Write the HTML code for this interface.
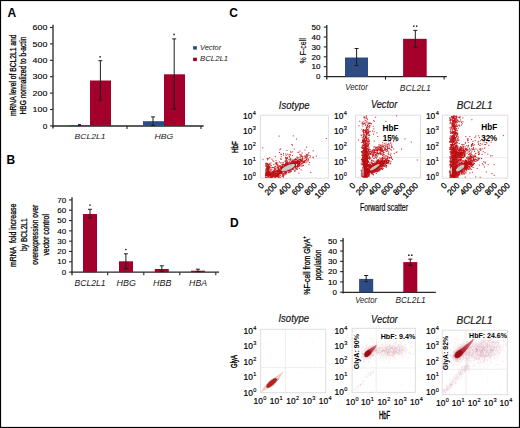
<!DOCTYPE html><html><head><meta charset="utf-8"><style>html,body{margin:0;padding:0;background:#fff}svg{display:block;font-family:"Liberation Sans",sans-serif}</style></head><body>
<svg width="520" height="428" viewBox="0 0 520 428" font-family="Liberation Sans, sans-serif" fill="#000">
<rect x="0" y="0" width="520" height="428" fill="#fff"/>
<text x="7.5" y="17.0" font-size="12" font-weight="bold">A</text>
<text x="6.6" y="163.9" font-size="12" font-weight="bold">B</text>
<text x="229.2" y="17.4" font-size="12" font-weight="bold">C</text>
<text x="230.0" y="226.6" font-size="12" font-weight="bold">D</text>
<line x1="53" y1="24.7" x2="53" y2="128.6" stroke="#262626" stroke-width="1.3"/>
<line x1="52.4" y1="126" x2="203.6" y2="126" stroke="#262626" stroke-width="1.3"/>
<line x1="50" y1="125.9" x2="53" y2="125.9" stroke="#262626" stroke-width="1.1"/>
<text x="47.4" y="128.65" font-size="7.9" stroke="#000" stroke-width="0.12" text-anchor="end" textLength="4.6" lengthAdjust="spacingAndGlyphs">0</text>
<line x1="50" y1="109.5" x2="53" y2="109.5" stroke="#262626" stroke-width="1.1"/>
<text x="47.4" y="112.25" font-size="7.9" stroke="#000" stroke-width="0.12" text-anchor="end" textLength="14.8" lengthAdjust="spacingAndGlyphs">100</text>
<line x1="50" y1="93.1" x2="53" y2="93.1" stroke="#262626" stroke-width="1.1"/>
<text x="47.4" y="95.85" font-size="7.9" stroke="#000" stroke-width="0.12" text-anchor="end" textLength="14.8" lengthAdjust="spacingAndGlyphs">200</text>
<line x1="50" y1="76.7" x2="53" y2="76.7" stroke="#262626" stroke-width="1.1"/>
<text x="47.4" y="79.45" font-size="7.9" stroke="#000" stroke-width="0.12" text-anchor="end" textLength="14.8" lengthAdjust="spacingAndGlyphs">300</text>
<line x1="50" y1="60.3" x2="53" y2="60.3" stroke="#262626" stroke-width="1.1"/>
<text x="47.4" y="63.05" font-size="7.9" stroke="#000" stroke-width="0.12" text-anchor="end" textLength="14.8" lengthAdjust="spacingAndGlyphs">400</text>
<line x1="50" y1="43.900000000000006" x2="53" y2="43.900000000000006" stroke="#262626" stroke-width="1.1"/>
<text x="47.4" y="46.650000000000006" font-size="7.9" stroke="#000" stroke-width="0.12" text-anchor="end" textLength="14.8" lengthAdjust="spacingAndGlyphs">500</text>
<line x1="50" y1="27.5" x2="53" y2="27.5" stroke="#262626" stroke-width="1.1"/>
<text x="47.4" y="30.25" font-size="7.9" stroke="#000" stroke-width="0.12" text-anchor="end" textLength="14.8" lengthAdjust="spacingAndGlyphs">600</text>
<line x1="127" y1="126" x2="127" y2="128.9" stroke="#262626" stroke-width="1.1"/>
<line x1="201" y1="126" x2="201" y2="128.9" stroke="#262626" stroke-width="1.1"/>
<rect x="69" y="125.0" width="21" height="1.0" fill="#2e4c84"/>
<rect x="90" y="80.5" width="21" height="45.5" fill="#a3002b"/>
<rect x="143" y="121.2" width="21" height="4.799999999999997" fill="#2e4c84"/>
<rect x="164" y="74.3" width="21" height="51.7" fill="#a3002b"/>
<line x1="79.5" y1="124.6" x2="79.5" y2="125.6" stroke="#1e1e1e" stroke-width="1.0"/>
<line x1="78.0" y1="124.6" x2="81.0" y2="124.6" stroke="#1e1e1e" stroke-width="1.0"/>
<line x1="78.0" y1="125.6" x2="81.0" y2="125.6" stroke="#1e1e1e" stroke-width="1.0"/>
<line x1="100.4" y1="60.7" x2="100.4" y2="100.0" stroke="#1e1e1e" stroke-width="1.0"/>
<line x1="98.4" y1="60.7" x2="102.4" y2="60.7" stroke="#1e1e1e" stroke-width="1.0"/>
<line x1="98.4" y1="100.0" x2="102.4" y2="100.0" stroke="#1e1e1e" stroke-width="1.0"/>
<line x1="153" y1="116.9" x2="153" y2="125.5" stroke="#1e1e1e" stroke-width="1.0"/>
<line x1="151.0" y1="116.9" x2="155.0" y2="116.9" stroke="#1e1e1e" stroke-width="1.0"/>
<line x1="151.0" y1="125.5" x2="155.0" y2="125.5" stroke="#1e1e1e" stroke-width="1.0"/>
<line x1="174.2" y1="38.9" x2="174.2" y2="109.2" stroke="#1e1e1e" stroke-width="1.0"/>
<line x1="172.2" y1="38.9" x2="176.2" y2="38.9" stroke="#1e1e1e" stroke-width="1.0"/>
<line x1="172.2" y1="109.2" x2="176.2" y2="109.2" stroke="#1e1e1e" stroke-width="1.0"/>
<circle cx="100.1" cy="56.8" r="0.85" fill="#222"/>
<circle cx="174.1" cy="34.4" r="0.85" fill="#222"/>
<text x="90" y="139.0" font-size="8.0" font-style="italic" text-anchor="middle" textLength="30.8" lengthAdjust="spacingAndGlyphs" fill="#1a1a1a">BCL2L1</text>
<text x="163.8" y="138.9" font-size="8.0" font-style="italic" text-anchor="middle" textLength="18.8" lengthAdjust="spacingAndGlyphs" fill="#1a1a1a">HBG</text>
<rect x="193.1" y="46.2" width="3.8" height="3.4" fill="#2e4c84"/>
<rect x="193.1" y="57.7" width="3.8" height="3.4" fill="#a3002b"/>
<text x="200.0" y="49.8" font-size="8.0" font-style="italic" textLength="21.2" lengthAdjust="spacingAndGlyphs" fill="#1a1a1a">Vector</text>
<text x="200.0" y="61.4" font-size="8.0" font-style="italic" textLength="28.2" lengthAdjust="spacingAndGlyphs" fill="#1a1a1a">BCL2L1</text>
<text transform="translate(15.5 75.3) rotate(-90)" font-size="9.4" stroke="#000" stroke-width="0.28" text-anchor="middle" textLength="81.5" lengthAdjust="spacingAndGlyphs">mRNA level of BCL2L1 and</text>
<text transform="translate(26.4 75.6) rotate(-90)" font-size="9.4" stroke="#000" stroke-width="0.28" text-anchor="middle" textLength="78.0" lengthAdjust="spacingAndGlyphs">HBG normalized to b-actin</text>
<line x1="72" y1="197.2" x2="72" y2="275.2" stroke="#262626" stroke-width="1.3"/>
<line x1="71.4" y1="272.2" x2="219" y2="272.2" stroke="#262626" stroke-width="1.3"/>
<line x1="69" y1="272.1" x2="72" y2="272.1" stroke="#262626" stroke-width="1.1"/>
<text x="66.1" y="274.8" font-size="7.8" stroke="#000" stroke-width="0.12" text-anchor="end" textLength="4.4" lengthAdjust="spacingAndGlyphs">0</text>
<line x1="69" y1="261.79" x2="72" y2="261.79" stroke="#262626" stroke-width="1.1"/>
<text x="66.1" y="264.49" font-size="7.8" stroke="#000" stroke-width="0.12" text-anchor="end" textLength="8.9" lengthAdjust="spacingAndGlyphs">10</text>
<line x1="69" y1="251.48000000000002" x2="72" y2="251.48000000000002" stroke="#262626" stroke-width="1.1"/>
<text x="66.1" y="254.18" font-size="7.8" stroke="#000" stroke-width="0.12" text-anchor="end" textLength="8.9" lengthAdjust="spacingAndGlyphs">20</text>
<line x1="69" y1="241.17000000000002" x2="72" y2="241.17000000000002" stroke="#262626" stroke-width="1.1"/>
<text x="66.1" y="243.87" font-size="7.8" stroke="#000" stroke-width="0.12" text-anchor="end" textLength="8.9" lengthAdjust="spacingAndGlyphs">30</text>
<line x1="69" y1="230.86" x2="72" y2="230.86" stroke="#262626" stroke-width="1.1"/>
<text x="66.1" y="233.56" font-size="7.8" stroke="#000" stroke-width="0.12" text-anchor="end" textLength="8.9" lengthAdjust="spacingAndGlyphs">40</text>
<line x1="69" y1="220.55" x2="72" y2="220.55" stroke="#262626" stroke-width="1.1"/>
<text x="66.1" y="223.25" font-size="7.8" stroke="#000" stroke-width="0.12" text-anchor="end" textLength="8.9" lengthAdjust="spacingAndGlyphs">50</text>
<line x1="69" y1="210.24000000000004" x2="72" y2="210.24000000000004" stroke="#262626" stroke-width="1.1"/>
<text x="66.1" y="212.94000000000003" font-size="7.8" stroke="#000" stroke-width="0.12" text-anchor="end" textLength="8.9" lengthAdjust="spacingAndGlyphs">60</text>
<line x1="69" y1="199.93000000000004" x2="72" y2="199.93000000000004" stroke="#262626" stroke-width="1.1"/>
<text x="66.1" y="202.63000000000002" font-size="7.8" stroke="#000" stroke-width="0.12" text-anchor="end" textLength="8.9" lengthAdjust="spacingAndGlyphs">70</text>
<line x1="107.7" y1="272.2" x2="107.7" y2="275.2" stroke="#262626" stroke-width="1.1"/>
<line x1="143.8" y1="272.2" x2="143.8" y2="275.2" stroke="#262626" stroke-width="1.1"/>
<line x1="179.8" y1="272.2" x2="179.8" y2="275.2" stroke="#262626" stroke-width="1.1"/>
<line x1="215.8" y1="272.2" x2="215.8" y2="275.2" stroke="#262626" stroke-width="1.1"/>
<rect x="83" y="214" width="14" height="58.19999999999999" fill="#a3002b"/>
<rect x="119" y="261.3" width="14" height="10.899999999999977" fill="#a3002b"/>
<rect x="154.8" y="269.0" width="14" height="3.1999999999999886" fill="#a3002b"/>
<rect x="191" y="270.7" width="14" height="1.5" fill="#a3002b"/>
<line x1="90" y1="209.3" x2="90" y2="218" stroke="#1e1e1e" stroke-width="1.0"/>
<line x1="88.0" y1="209.3" x2="92.0" y2="209.3" stroke="#1e1e1e" stroke-width="1.0"/>
<line x1="88.0" y1="218" x2="92.0" y2="218" stroke="#1e1e1e" stroke-width="1.0"/>
<line x1="125.9" y1="253.8" x2="125.9" y2="268.6" stroke="#1e1e1e" stroke-width="1.0"/>
<line x1="123.9" y1="253.8" x2="127.9" y2="253.8" stroke="#1e1e1e" stroke-width="1.0"/>
<line x1="123.9" y1="268.6" x2="127.9" y2="268.6" stroke="#1e1e1e" stroke-width="1.0"/>
<line x1="161.8" y1="265.8" x2="161.8" y2="271.2" stroke="#1e1e1e" stroke-width="1.0"/>
<line x1="159.8" y1="265.8" x2="163.8" y2="265.8" stroke="#1e1e1e" stroke-width="1.0"/>
<line x1="159.8" y1="271.2" x2="163.8" y2="271.2" stroke="#1e1e1e" stroke-width="1.0"/>
<line x1="197.9" y1="269.2" x2="197.9" y2="271.6" stroke="#1e1e1e" stroke-width="1.0"/>
<line x1="195.9" y1="269.2" x2="199.9" y2="269.2" stroke="#1e1e1e" stroke-width="1.0"/>
<line x1="195.9" y1="271.6" x2="199.9" y2="271.6" stroke="#1e1e1e" stroke-width="1.0"/>
<circle cx="90" cy="205" r="0.85" fill="#222"/>
<circle cx="125.9" cy="249.5" r="0.85" fill="#222"/>
<text x="90.1" y="285.9" font-size="8.3" font-style="italic" text-anchor="middle" textLength="31.0" lengthAdjust="spacingAndGlyphs" fill="#1a1a1a">BCL2L1</text>
<text x="126.3" y="285.9" font-size="8.3" font-style="italic" text-anchor="middle" textLength="19.4" lengthAdjust="spacingAndGlyphs" fill="#1a1a1a">HBG</text>
<text x="162.3" y="285.9" font-size="8.3" font-style="italic" text-anchor="middle" textLength="18.4" lengthAdjust="spacingAndGlyphs" fill="#1a1a1a">HBB</text>
<text x="198.1" y="285.9" font-size="8.3" font-style="italic" text-anchor="middle" textLength="18.0" lengthAdjust="spacingAndGlyphs" fill="#1a1a1a">HBA</text>
<text transform="translate(16.4 235.4) rotate(-90)" font-size="9.3" stroke="#000" stroke-width="0.28" text-anchor="middle" textLength="63.4" lengthAdjust="spacingAndGlyphs">mRNA&#160; fold increase</text>
<text transform="translate(26.8 234.6) rotate(-90)" font-size="9.3" stroke="#000" stroke-width="0.28" text-anchor="middle" textLength="32.6" lengthAdjust="spacingAndGlyphs">by BCL2L1</text>
<text transform="translate(37.9 234.8) rotate(-90)" font-size="9.3" stroke="#000" stroke-width="0.28" text-anchor="middle" textLength="60.0" lengthAdjust="spacingAndGlyphs">overexpression over</text>
<text transform="translate(48.9 234.8) rotate(-90)" font-size="9.3" stroke="#000" stroke-width="0.28" text-anchor="middle" textLength="41.6" lengthAdjust="spacingAndGlyphs">vector control</text>
<line x1="326.8" y1="24.9" x2="326.8" y2="79.6" stroke="#262626" stroke-width="1.3"/>
<line x1="326.2" y1="76.7" x2="446.8" y2="76.7" stroke="#262626" stroke-width="1.3"/>
<line x1="323.8" y1="76.6" x2="326.8" y2="76.6" stroke="#262626" stroke-width="1.1"/>
<text x="320.5" y="79.3" font-size="7.9" stroke="#000" stroke-width="0.15" text-anchor="end" textLength="4.4" lengthAdjust="spacingAndGlyphs">0</text>
<line x1="323.8" y1="66.69999999999999" x2="326.8" y2="66.69999999999999" stroke="#262626" stroke-width="1.1"/>
<text x="320.5" y="69.39999999999999" font-size="7.9" stroke="#000" stroke-width="0.15" text-anchor="end" textLength="9.0" lengthAdjust="spacingAndGlyphs">10</text>
<line x1="323.8" y1="56.8" x2="326.8" y2="56.8" stroke="#262626" stroke-width="1.1"/>
<text x="320.5" y="59.5" font-size="7.9" stroke="#000" stroke-width="0.15" text-anchor="end" textLength="9.0" lengthAdjust="spacingAndGlyphs">20</text>
<line x1="323.8" y1="46.89999999999999" x2="326.8" y2="46.89999999999999" stroke="#262626" stroke-width="1.1"/>
<text x="320.5" y="49.599999999999994" font-size="7.9" stroke="#000" stroke-width="0.15" text-anchor="end" textLength="9.0" lengthAdjust="spacingAndGlyphs">30</text>
<line x1="323.8" y1="36.99999999999999" x2="326.8" y2="36.99999999999999" stroke="#262626" stroke-width="1.1"/>
<text x="320.5" y="39.699999999999996" font-size="7.9" stroke="#000" stroke-width="0.15" text-anchor="end" textLength="9.0" lengthAdjust="spacingAndGlyphs">40</text>
<line x1="323.8" y1="27.099999999999994" x2="326.8" y2="27.099999999999994" stroke="#262626" stroke-width="1.1"/>
<text x="320.5" y="29.799999999999994" font-size="7.9" stroke="#000" stroke-width="0.15" text-anchor="end" textLength="9.0" lengthAdjust="spacingAndGlyphs">50</text>
<line x1="385.5" y1="76.7" x2="385.5" y2="79.6" stroke="#262626" stroke-width="1.1"/>
<line x1="444.1" y1="76.7" x2="444.1" y2="79.6" stroke="#262626" stroke-width="1.1"/>
<rect x="345" y="57.5" width="23" height="19.200000000000003" fill="#2e4c84"/>
<rect x="403.1" y="38.8" width="23.6" height="37.900000000000006" fill="#a3002b"/>
<line x1="356.6" y1="48.5" x2="356.6" y2="65.5" stroke="#1e1e1e" stroke-width="1.0"/>
<line x1="354.6" y1="48.5" x2="358.6" y2="48.5" stroke="#1e1e1e" stroke-width="1.0"/>
<line x1="354.6" y1="65.5" x2="358.6" y2="65.5" stroke="#1e1e1e" stroke-width="1.0"/>
<line x1="415.3" y1="30.4" x2="415.3" y2="47.2" stroke="#1e1e1e" stroke-width="1.0"/>
<line x1="413.3" y1="30.4" x2="417.3" y2="30.4" stroke="#1e1e1e" stroke-width="1.0"/>
<line x1="413.3" y1="47.2" x2="417.3" y2="47.2" stroke="#1e1e1e" stroke-width="1.0"/>
<circle cx="413.8" cy="26.1" r="0.85" fill="#222"/>
<circle cx="416.7" cy="26.1" r="0.85" fill="#222"/>
<text x="356.5" y="90.0" font-size="8.4" font-style="italic" text-anchor="middle" textLength="22.6" lengthAdjust="spacingAndGlyphs" fill="#1a1a1a">Vector</text>
<text x="415.3" y="91.0" font-size="8.4" font-style="italic" text-anchor="middle" textLength="31.0" lengthAdjust="spacingAndGlyphs" fill="#1a1a1a">BCL2L1</text>
<text transform="translate(306.0 50.8) rotate(-90)" font-size="9.3" stroke="#000" stroke-width="0.15" text-anchor="middle" textLength="25.2" lengthAdjust="spacingAndGlyphs">% F-cell</text>
<line x1="343.1" y1="238.1" x2="343.1" y2="293.4" stroke="#262626" stroke-width="1.3"/>
<line x1="342.5" y1="292.3" x2="435.8" y2="292.3" stroke="#262626" stroke-width="1.3"/>
<line x1="340.1" y1="292.2" x2="343.1" y2="292.2" stroke="#262626" stroke-width="1.1"/>
<text x="336.9" y="294.9" font-size="7.9" stroke="#000" stroke-width="0.15" text-anchor="end" textLength="4.4" lengthAdjust="spacingAndGlyphs">0</text>
<line x1="340.1" y1="281.91999999999996" x2="343.1" y2="281.91999999999996" stroke="#262626" stroke-width="1.1"/>
<text x="336.9" y="284.61999999999995" font-size="7.9" stroke="#000" stroke-width="0.15" text-anchor="end" textLength="9.0" lengthAdjust="spacingAndGlyphs">10</text>
<line x1="340.1" y1="271.64" x2="343.1" y2="271.64" stroke="#262626" stroke-width="1.1"/>
<text x="336.9" y="274.34" font-size="7.9" stroke="#000" stroke-width="0.15" text-anchor="end" textLength="9.0" lengthAdjust="spacingAndGlyphs">20</text>
<line x1="340.1" y1="261.36" x2="343.1" y2="261.36" stroke="#262626" stroke-width="1.1"/>
<text x="336.9" y="264.06" font-size="7.9" stroke="#000" stroke-width="0.15" text-anchor="end" textLength="9.0" lengthAdjust="spacingAndGlyphs">30</text>
<line x1="340.1" y1="251.07999999999998" x2="343.1" y2="251.07999999999998" stroke="#262626" stroke-width="1.1"/>
<text x="336.9" y="253.77999999999997" font-size="7.9" stroke="#000" stroke-width="0.15" text-anchor="end" textLength="9.0" lengthAdjust="spacingAndGlyphs">40</text>
<line x1="340.1" y1="240.79999999999998" x2="343.1" y2="240.79999999999998" stroke="#262626" stroke-width="1.1"/>
<text x="336.9" y="243.49999999999997" font-size="7.9" stroke="#000" stroke-width="0.15" text-anchor="end" textLength="9.0" lengthAdjust="spacingAndGlyphs">50</text>
<rect x="359.1" y="278.9" width="14.1" height="13.400000000000034" fill="#2e4c84"/>
<rect x="403.3" y="262.1" width="14" height="30.19999999999999" fill="#a3002b"/>
<line x1="366.2" y1="275.5" x2="366.2" y2="281.7" stroke="#1e1e1e" stroke-width="1.0"/>
<line x1="364.2" y1="275.5" x2="368.2" y2="275.5" stroke="#1e1e1e" stroke-width="1.0"/>
<line x1="364.2" y1="281.7" x2="368.2" y2="281.7" stroke="#1e1e1e" stroke-width="1.0"/>
<line x1="410.3" y1="259.1" x2="410.3" y2="265.4" stroke="#1e1e1e" stroke-width="1.0"/>
<line x1="408.3" y1="259.1" x2="412.3" y2="259.1" stroke="#1e1e1e" stroke-width="1.0"/>
<line x1="408.3" y1="265.4" x2="412.3" y2="265.4" stroke="#1e1e1e" stroke-width="1.0"/>
<circle cx="408.9" cy="255.2" r="0.85" fill="#222"/>
<circle cx="411.8" cy="255.2" r="0.85" fill="#222"/>
<text x="366.1" y="303.0" font-size="8.3" font-style="italic" text-anchor="middle" textLength="21.8" lengthAdjust="spacingAndGlyphs" fill="#1a1a1a">Vector</text>
<text x="410.6" y="303.1" font-size="8.3" font-style="italic" text-anchor="middle" textLength="30.2" lengthAdjust="spacingAndGlyphs" fill="#1a1a1a">BCL2L1</text>
<text transform="translate(309.6 265.4) rotate(-90)" font-size="9.3" text-anchor="middle" textLength="58.6" lengthAdjust="spacingAndGlyphs" stroke="#000" stroke-width="0.28">%F-cell from GlyA<tspan font-size="6" dy="-3.5">+</tspan></text>
<text transform="translate(321.0 264.9) rotate(-90)" font-size="9.3" stroke="#000" stroke-width="0.28" text-anchor="middle" textLength="30.6" lengthAdjust="spacingAndGlyphs">population</text>
<rect x="260.4" y="115.2" width="68.0" height="62.999999999999986" fill="none" stroke="#dedede" stroke-width="1"/>
<line x1="260.4" y1="158.1" x2="328.4" y2="158.1" stroke="#e6e6e6" stroke-width="0.8"/>
<rect x="355.5" y="115.2" width="65.0" height="62.60000000000001" fill="none" stroke="#dedede" stroke-width="1"/>
<line x1="355.5" y1="157.4" x2="420.5" y2="157.4" stroke="#e6e6e6" stroke-width="0.8"/>
<rect x="442.4" y="115.2" width="65.40000000000003" height="62.89999999999999" fill="none" stroke="#dedede" stroke-width="1"/>
<line x1="442.4" y1="157.6" x2="507.8" y2="157.6" stroke="#e6e6e6" stroke-width="0.8"/>
<defs><filter id="sb" x="-5%" y="-5%" width="110%" height="110%"><feGaussianBlur stdDeviation="0.3"/></filter></defs>
<path filter="url(#sb)" d="M290.0 169.2h0.95M290.9 163.9h0.95M285.7 166.5h0.95M281.1 171.2h0.95M284.2 167.5h0.95M280.6 172.5h0.95M289.8 167.3h0.95M300.3 159.5h0.95M284.6 169.2h0.95M283.0 168.9h0.95M294.3 166.8h0.95M291.6 164.2h0.95M289.5 165.7h0.95M281.7 173.3h0.95M290.8 171.6h0.95M297.2 168.0h0.95M276.9 172.8h0.95M285.1 169.4h0.95M277.2 172.2h0.95M271.4 172.8h0.95M287.0 168.2h0.95M277.9 173.3h0.95M290.7 164.2h0.95M288.9 163.1h0.95M286.0 164.9h0.95M283.4 167.8h0.95M288.4 166.9h0.95M290.2 166.9h0.95M275.7 174.7h0.95M284.4 168.4h0.95M280.6 172.1h0.95M280.8 168.6h0.95M298.3 161.8h0.95M280.7 168.4h0.95M289.8 169.4h0.95M297.0 163.2h0.95M283.0 168.0h0.95M287.7 166.8h0.95M289.8 166.1h0.95M290.2 168.1h0.95M276.4 169.0h0.95M288.7 164.6h0.95M301.0 160.5h0.95M297.7 165.3h0.95M290.0 166.3h0.95M283.8 171.1h0.95M309.0 162.6h0.95M295.7 163.3h0.95M277.8 171.3h0.95M290.8 169.1h0.95M294.7 165.5h0.95M287.9 169.1h0.95M294.7 163.1h0.95M290.2 171.1h0.95M296.6 167.6h0.95M302.6 162.0h0.95M283.5 171.2h0.95M289.0 162.1h0.95M285.4 170.2h0.95M290.0 166.1h0.95M278.6 172.9h0.95M284.4 170.8h0.95M286.9 167.1h0.95M295.6 159.8h0.95M299.7 162.9h0.95M276.3 171.1h0.95M281.5 169.7h0.95M294.3 163.1h0.95M270.6 174.7h0.95M282.7 164.4h0.95M289.2 169.8h0.95M300.6 162.2h0.95M296.3 166.3h0.95M287.9 172.3h0.95M285.7 168.6h0.95M285.1 164.5h0.95M302.0 158.8h0.95M284.0 166.4h0.95M285.8 167.3h0.95M292.3 165.7h0.95M286.0 163.5h0.95M287.5 168.5h0.95M277.5 168.7h0.95M289.2 167.6h0.95M284.9 168.7h0.95M299.3 161.4h0.95M294.9 164.1h0.95M288.3 166.0h0.95M294.5 163.0h0.95M284.4 165.1h0.95M298.5 162.5h0.95M290.7 170.7h0.95M296.1 168.5h0.95M278.5 175.1h0.95M292.8 166.9h0.95M273.1 172.8h0.95M286.2 168.2h0.95M280.8 170.7h0.95M290.2 165.7h0.95M309.4 157.7h0.95M281.1 169.6h0.95M283.3 169.5h0.95M289.9 164.0h0.95M293.1 164.2h0.95M289.5 172.3h0.95M287.1 167.7h0.95M295.1 163.6h0.95M294.2 165.9h0.95M280.3 172.8h0.95M287.2 165.1h0.95M289.1 166.4h0.95M280.3 173.3h0.95M291.6 166.4h0.95M281.3 170.9h0.95M299.3 166.0h0.95M290.1 164.8h0.95M289.9 166.8h0.95M283.2 168.5h0.95M289.3 170.5h0.95M269.1 171.6h0.95M278.1 170.4h0.95M291.8 164.4h0.95M270.3 177.3h0.95M297.2 164.6h0.95M274.5 177.2h0.95M294.4 160.7h0.95M282.0 172.1h0.95M295.8 163.1h0.95M289.6 165.1h0.95M275.6 174.6h0.95M299.5 159.9h0.95M300.1 156.8h0.95M288.1 166.5h0.95M285.1 165.2h0.95M286.9 166.4h0.95M280.5 171.9h0.95M299.2 163.0h0.95M285.6 172.5h0.95M288.4 166.8h0.95M280.4 167.3h0.95M282.6 168.1h0.95M276.6 170.6h0.95M299.3 159.3h0.95M288.0 168.5h0.95M297.2 161.6h0.95M287.3 163.0h0.95M283.4 171.3h0.95M285.9 168.2h0.95M284.3 170.1h0.95M289.2 167.2h0.95M286.2 169.8h0.95M286.3 168.3h0.95M277.7 175.3h0.95M282.1 171.3h0.95M304.4 160.8h0.95M283.3 170.7h0.95M278.1 168.6h0.95M291.9 165.2h0.95M301.5 160.5h0.95M276.0 173.6h0.95M285.8 165.2h0.95M284.8 172.9h0.95M273.1 174.7h0.95M294.5 161.5h0.95M287.2 163.7h0.95M289.4 166.1h0.95M282.1 170.0h0.95M292.5 163.6h0.95M284.2 169.5h0.95M287.1 166.3h0.95M279.5 172.8h0.95M277.3 170.7h0.95M301.1 161.3h0.95M285.3 171.1h0.95M294.0 170.9h0.95M287.8 165.1h0.95M284.6 167.9h0.95M283.6 167.5h0.95M295.4 165.9h0.95M285.2 166.0h0.95M287.2 166.7h0.95M289.2 166.8h0.95M298.8 160.1h0.95M294.3 162.2h0.95M292.0 164.4h0.95M281.9 165.2h0.95M275.1 170.0h0.95M297.2 162.2h0.95M297.9 163.2h0.95M287.6 167.2h0.95M292.3 161.2h0.95M295.7 162.8h0.95M297.3 165.1h0.95M297.9 164.2h0.95M284.8 168.8h0.95M301.9 158.8h0.95M278.3 173.5h0.95M296.3 162.2h0.95M292.4 162.6h0.95M296.2 161.7h0.95M307.4 161.9h0.95M302.7 161.2h0.95M279.7 174.2h0.95M273.2 173.2h0.95M297.3 165.4h0.95M279.2 170.1h0.95M288.7 166.7h0.95M298.9 168.4h0.95M274.8 175.5h0.95M269.4 174.9h0.95M291.3 165.7h0.95M289.7 167.5h0.95M287.9 170.5h0.95M288.9 165.9h0.95M279.6 167.2h0.95M275.0 172.8h0.95M287.5 167.7h0.95M280.3 171.3h0.95M275.3 176.6h0.95M293.9 165.5h0.95M289.2 168.9h0.95M291.7 163.1h0.95M280.8 172.9h0.95M285.0 174.0h0.95M280.7 172.8h0.95M281.2 171.3h0.95M290.9 166.5h0.95M283.6 173.9h0.95M291.4 163.6h0.95M292.0 165.3h0.95M307.8 159.4h0.95M277.1 174.4h0.95M296.6 162.4h0.95M288.5 168.0h0.95M288.6 166.5h0.95M276.0 173.4h0.95M284.7 168.7h0.95M294.7 161.6h0.95M288.2 167.3h0.95M290.6 168.4h0.95M285.5 166.3h0.95M299.2 161.6h0.95M289.4 168.4h0.95M268.1 174.2h0.95M282.9 170.3h0.95M270.2 173.2h0.95M286.3 173.9h0.95M303.0 165.4h0.95M289.2 166.4h0.95M279.1 173.4h0.95M280.6 171.2h0.95M299.3 162.4h0.95M291.9 169.4h0.95M288.2 164.2h0.95M289.5 169.3h0.95M289.3 166.7h0.95M297.6 166.4h0.95M294.2 165.0h0.95M290.3 164.7h0.95M279.8 172.0h0.95M294.3 166.3h0.95M282.8 170.0h0.95M299.4 163.4h0.95M277.0 171.3h0.95M285.8 163.3h0.95M289.8 168.8h0.95M277.6 174.0h0.95M304.7 160.0h0.95M302.3 161.0h0.95M285.8 171.0h0.95M295.6 162.8h0.95M291.8 164.0h0.95M292.4 168.3h0.95M287.2 164.5h0.95M290.9 169.0h0.95M278.6 170.3h0.95M285.5 165.9h0.95M288.6 170.3h0.95M299.7 161.8h0.95M290.8 163.0h0.95M288.6 166.3h0.95M303.7 162.4h0.95M285.1 171.7h0.95M285.1 167.8h0.95M272.9 175.5h0.95M303.9 161.8h0.95M297.1 161.6h0.95M297.6 163.8h0.95M295.0 164.1h0.95M289.5 165.5h0.95M290.5 165.1h0.95M286.8 168.2h0.95M287.2 167.9h0.95M289.0 165.6h0.95M302.3 159.8h0.95M295.1 166.9h0.95M288.7 167.7h0.95M284.6 171.2h0.95M284.4 172.1h0.95M304.1 161.4h0.95M295.7 169.4h0.95M288.8 165.1h0.95M286.6 170.1h0.95M278.7 171.1h0.95M290.1 171.0h0.95M298.5 166.7h0.95M283.6 164.8h0.95M286.0 166.0h0.95M287.6 169.3h0.95M290.7 168.1h0.95M275.2 175.2h0.95M286.8 167.9h0.95M281.7 171.5h0.95M297.6 164.6h0.95M281.9 170.1h0.95M295.2 166.6h0.95M300.7 156.1h0.95M286.7 169.6h0.95M282.6 167.5h0.95M291.6 168.1h0.95M288.8 166.6h0.95M279.2 169.4h0.95M293.5 165.8h0.95M306.4 156.7h0.95M285.8 166.3h0.95M285.7 164.7h0.95M279.5 171.4h0.95M292.4 166.6h0.95M278.6 174.3h0.95M278.8 171.4h0.95M301.6 163.7h0.95M280.8 170.9h0.95M298.7 162.2h0.95M303.3 161.7h0.95M292.3 168.0h0.95M293.7 164.0h0.95M306.5 158.3h0.95M287.1 167.5h0.95M283.7 169.7h0.95M275.9 170.9h0.95M290.3 168.9h0.95M302.0 160.0h0.95M298.1 163.9h0.95M279.7 169.3h0.95M281.6 171.3h0.95M284.8 169.9h0.95M291.3 164.9h0.95M289.0 171.9h0.95M291.3 166.8h0.95M293.3 169.3h0.95M287.2 170.2h0.95M288.0 165.8h0.95M290.5 165.4h0.95M288.6 168.2h0.95M293.6 165.0h0.95M306.0 159.2h0.95M294.1 163.9h0.95M287.8 163.2h0.95M273.5 173.7h0.95M290.5 160.9h0.95M271.7 176.0h0.95M275.6 171.5h0.95M296.1 162.0h0.95M295.2 163.6h0.95M287.9 168.2h0.95M272.2 171.4h0.95M284.0 165.1h0.95M281.9 167.7h0.95M292.9 160.2h0.95M308.6 155.5h0.95M292.4 169.3h0.95M281.0 168.2h0.95M279.0 173.2h0.95M287.2 164.5h0.95M287.7 168.3h0.95M278.3 171.2h0.95M290.0 166.4h0.95M279.1 173.0h0.95M300.7 165.8h0.95M298.8 162.9h0.95M298.9 162.7h0.95M283.8 167.1h0.95M294.2 166.0h0.95M287.6 167.1h0.95M286.2 170.3h0.95M285.9 168.3h0.95M278.8 176.0h0.95M274.1 169.1h0.95M295.9 163.1h0.95M288.1 169.6h0.95M290.6 165.4h0.95M297.3 161.2h0.95M273.0 173.8h0.95M280.6 167.6h0.95M290.7 166.5h0.95M294.8 170.2h0.95M286.6 170.9h0.95M297.3 160.4h0.95M290.1 164.4h0.95M277.6 171.3h0.95M281.5 172.9h0.95M295.5 162.0h0.95M292.6 163.7h0.95M272.6 176.8h0.95M302.0 163.0h0.95M294.1 163.7h0.95M300.1 159.1h0.95M284.1 165.5h0.95M285.7 166.9h0.95M276.7 167.3h0.95M312.7 157.8h0.95M286.8 166.5h0.95M303.8 161.3h0.95M284.9 173.5h0.95M291.6 168.6h0.95M272.8 171.8h0.95M286.3 170.4h0.95M299.0 165.2h0.95M277.0 170.8h0.95M297.8 160.6h0.95M292.0 165.4h0.95M278.0 168.2h0.95M285.8 172.1h0.95M282.6 164.1h0.95M287.5 165.0h0.95M283.9 168.7h0.95M281.3 170.0h0.95M286.4 168.6h0.95M279.9 171.9h0.95M277.1 172.0h0.95M289.6 169.5h0.95M295.0 159.0h0.95M275.1 173.5h0.95M288.4 165.6h0.95M283.2 170.0h0.95M280.3 171.6h0.95M295.9 161.6h0.95M283.7 167.9h0.95M303.3 162.2h0.95M282.3 171.0h0.95M291.9 164.0h0.95M288.8 172.0h0.95M284.3 174.8h0.95M293.0 161.6h0.95M287.9 168.3h0.95M296.8 169.5h0.95M289.3 168.8h0.95M279.4 172.0h0.95M287.9 167.0h0.95M289.0 165.7h0.95M297.5 162.5h0.95M280.3 169.7h0.95M289.3 168.7h0.95M273.0 173.5h0.95M294.5 163.4h0.95M278.1 169.2h0.95M272.6 174.5h0.95M287.6 165.5h0.95M298.9 162.0h0.95M276.2 175.5h0.95M279.5 172.3h0.95M282.7 171.1h0.95M279.1 172.5h0.95M292.5 165.5h0.95M281.6 170.2h0.95M282.2 169.4h0.95M295.0 166.0h0.95M281.1 168.0h0.95M294.2 167.8h0.95M280.2 171.2h0.95M277.3 170.6h0.95M271.9 173.8h0.95M305.2 157.8h0.95M286.2 168.7h0.95M290.5 164.5h0.95M289.8 169.4h0.95M289.7 164.8h0.95M287.3 162.3h0.95M305.6 157.5h0.95M277.7 167.4h0.95M274.8 173.5h0.95M280.8 173.4h0.95M277.5 173.9h0.95M294.5 161.2h0.95M295.7 162.0h0.95M281.9 174.6h0.95M276.7 173.5h0.95M285.8 168.5h0.95M302.6 163.2h0.95M295.0 167.4h0.95M279.4 171.8h0.95M298.8 163.3h0.95M279.8 172.8h0.95M285.8 167.0h0.95M274.4 171.3h0.95M280.2 171.2h0.95M300.7 159.3h0.95M296.4 163.4h0.95M285.4 168.9h0.95M283.3 175.3h0.95M271.0 173.3h0.95M285.3 168.4h0.95M288.6 166.8h0.95M288.6 168.2h0.95M289.1 169.5h0.95M278.4 170.8h0.95M287.6 165.6h0.95M287.1 163.9h0.95M299.8 159.7h0.95M306.4 160.2h0.95M287.8 167.7h0.95M281.1 168.2h0.95M288.1 166.5h0.95M283.5 169.6h0.95M282.7 171.1h0.95M287.9 166.1h0.95M279.3 170.9h0.95M292.8 160.8h0.95M287.0 165.1h0.95M292.8 169.2h0.95M285.3 163.4h0.95M282.1 169.4h0.95M280.6 171.4h0.95M286.5 167.3h0.95M283.3 167.7h0.95M291.1 165.9h0.95M289.0 167.0h0.95M276.6 172.6h0.95M287.9 163.0h0.95M276.7 172.4h0.95M282.6 167.9h0.95M285.8 167.2h0.95M270.4 176.2h0.95M290.4 167.9h0.95M291.2 168.1h0.95M287.1 166.7h0.95M286.0 170.6h0.95M286.7 170.9h0.95M281.2 173.4h0.95M287.8 170.9h0.95M283.9 169.0h0.95M289.7 166.3h0.95M278.9 173.7h0.95M289.9 163.3h0.95M290.5 166.8h0.95M287.2 166.5h0.95M284.7 168.1h0.95M292.4 161.2h0.95M273.1 172.3h0.95M293.2 165.0h0.95M292.0 167.7h0.95M292.5 167.8h0.95M292.4 165.2h0.95M282.9 169.4h0.95M285.9 166.4h0.95M295.1 165.1h0.95M292.7 164.7h0.95M291.4 167.3h0.95M276.9 176.9h0.95M293.8 164.7h0.95M298.2 159.1h0.95M297.4 161.0h0.95M289.8 163.1h0.95M273.8 171.2h0.95M298.8 165.6h0.95M287.9 168.1h0.95M293.0 166.7h0.95M276.6 175.8h0.95M276.9 171.8h0.95M282.6 168.3h0.95M300.2 160.9h0.95M285.9 169.1h0.95M292.1 167.1h0.95M305.9 162.0h0.95M304.6 162.7h0.95M289.2 169.8h0.95M288.1 170.7h0.95M278.2 173.6h0.95M281.3 166.9h0.95M292.7 164.9h0.95M292.9 166.0h0.95M289.6 165.8h0.95M298.9 164.6h0.95M281.7 169.5h0.95M287.6 165.4h0.95M297.0 166.8h0.95M294.9 165.9h0.95M298.9 162.9h0.95M293.5 167.2h0.95M287.2 170.4h0.95M292.6 166.1h0.95M277.6 166.3h0.95M273.5 172.6h0.95M293.8 163.6h0.95M287.6 165.3h0.95M292.0 166.1h0.95M274.7 176.6h0.95M285.2 167.6h0.95M282.5 167.3h0.95M283.1 174.7h0.95M268.1 175.6h0.95M284.8 166.0h0.95M297.4 163.7h0.95M292.8 166.2h0.95M282.9 168.1h0.95M289.6 168.6h0.95M295.4 162.8h0.95M288.0 167.9h0.95M294.6 166.2h0.95M294.6 162.9h0.95M304.7 160.5h0.95M299.2 162.0h0.95M294.5 171.3h0.95M291.1 164.3h0.95M297.4 166.4h0.95M284.1 169.2h0.95M288.5 166.9h0.95M297.9 164.6h0.95M307.6 160.5h0.95M288.7 170.2h0.95M288.9 167.9h0.95M290.2 165.0h0.95M300.7 160.3h0.95M289.2 168.1h0.95M302.9 161.9h0.95M281.5 173.9h0.95M287.7 168.6h0.95M288.2 170.0h0.95M297.5 166.7h0.95M298.6 162.9h0.95M273.9 170.4h0.95M279.6 168.5h0.95M290.7 162.7h0.95M284.5 173.0h0.95M274.4 171.7h0.95M299.6 165.1h0.95M294.0 166.1h0.95M295.1 168.3h0.95M285.6 171.0h0.95M298.2 162.4h0.95M286.6 167.6h0.95M271.4 176.0h0.95M268.6 174.9h0.95M270.9 174.2h0.95M278.2 175.9h0.95M266.9 172.7h0.95M274.8 171.6h0.95M270.7 177.6h0.95M274.5 175.2h0.95M276.0 175.5h0.95M268.3 172.2h0.95M273.8 174.1h0.95M267.6 172.2h0.95M278.0 175.9h0.95M272.2 176.5h0.95M277.4 175.3h0.95M270.0 175.5h0.95M275.0 175.2h0.95M283.2 173.7h0.95M276.7 175.5h0.95M273.4 172.0h0.95M266.6 174.0h0.95M265.4 177.5h0.95M270.1 175.1h0.95M272.3 173.4h0.95M275.0 175.6h0.95M272.9 170.3h0.95M272.7 171.5h0.95M265.2 174.0h0.95M271.3 176.7h0.95M265.1 177.5h0.95M265.3 175.6h0.95M271.8 176.8h0.95M272.8 172.9h0.95M280.0 175.7h0.95M267.9 169.4h0.95M275.1 175.0h0.95M270.0 174.6h0.95M269.5 174.1h0.95M278.7 170.4h0.95M269.5 174.4h0.95M265.8 175.4h0.95M265.1 175.8h0.95M272.5 172.0h0.95M272.4 177.5h0.95M266.6 174.8h0.95M273.6 173.4h0.95M268.1 173.9h0.95M273.6 174.3h0.95M269.6 176.2h0.95M268.4 168.7h0.95M269.7 172.4h0.95M274.4 172.2h0.95M278.1 172.9h0.95M282.8 176.4h0.95M265.9 172.8h0.95M275.3 175.9h0.95M276.6 176.7h0.95M275.4 173.3h0.95M271.7 175.9h0.95M273.8 176.5h0.95M267.8 173.5h0.95M283.7 172.7h0.95M274.2 176.3h0.95M266.9 173.0h0.95M277.6 174.9h0.95M278.0 174.0h0.95M270.9 176.1h0.95M265.6 172.4h0.95M270.2 173.0h0.95M271.4 174.3h0.95M266.5 173.9h0.95M270.3 173.8h0.95M270.5 175.0h0.95M279.7 177.5h0.95M276.8 176.1h0.95M276.4 176.1h0.95M269.5 176.3h0.95M275.1 177.3h0.95M265.4 171.2h0.95M269.7 175.1h0.95M265.1 175.3h0.95M271.5 174.8h0.95M278.3 169.0h0.95M272.0 174.3h0.95M267.0 174.2h0.95M265.8 174.7h0.95M265.4 174.8h0.95M277.5 176.7h0.95M281.6 171.7h0.95M273.2 172.7h0.95M267.8 176.4h0.95M274.2 175.9h0.95M269.5 174.4h0.95M274.6 173.8h0.95M272.3 173.0h0.95M272.3 175.3h0.95M268.4 172.3h0.95M269.0 174.1h0.95M270.3 171.1h0.95M266.7 170.3h0.95M271.5 171.6h0.95M273.0 174.3h0.95M267.3 174.0h0.95M266.8 175.8h0.95M274.4 169.1h0.95M278.7 177.0h0.95M274.8 171.2h0.95M269.4 173.5h0.95M277.6 174.3h0.95M277.7 171.4h0.95M268.0 172.5h0.95M282.9 177.3h0.95M278.1 177.2h0.95M266.4 172.5h0.95M271.8 173.1h0.95M270.0 172.7h0.95M271.5 176.8h0.95M273.1 174.0h0.95M272.0 173.1h0.95M276.4 176.5h0.95M281.6 176.5h0.95M272.2 175.9h0.95M277.0 175.2h0.95M273.4 176.0h0.95M270.7 175.8h0.95M266.3 172.7h0.95M269.4 174.6h0.95M268.8 171.6h0.95M274.4 177.4h0.95M273.9 176.5h0.95M268.4 176.3h0.95M266.9 168.9h0.95M272.3 175.2h0.95M270.5 177.4h0.95M275.6 173.2h0.95M282.9 175.8h0.95M274.8 168.4h0.95M270.8 177.5h0.95M270.2 173.5h0.95M266.9 170.0h0.95M266.5 177.6h0.95M269.2 174.8h0.95M274.3 172.7h0.95M269.2 173.6h0.95M265.5 173.0h0.95M278.4 173.4h0.95M273.3 174.7h0.95M279.0 172.4h0.95M269.9 173.4h0.95M274.2 170.3h0.95M272.9 172.9h0.95M274.4 175.0h0.95M276.8 171.3h0.95M268.0 171.2h0.95M267.0 173.5h0.95M268.2 175.7h0.95M270.3 173.6h0.95M280.1 171.8h0.95M276.3 176.6h0.95M269.4 174.0h0.95M270.6 173.2h0.95M272.9 175.9h0.95M274.4 174.4h0.95M284.4 173.2h0.95M275.6 175.8h0.95M277.3 170.8h0.95M265.5 176.7h0.95M265.8 174.5h0.95M267.0 172.3h0.95M267.4 175.2h0.95M267.6 167.3h0.95M266.8 165.2h0.95M268.4 174.7h0.95M267.9 164.7h0.95M267.3 159.2h0.95M267.9 175.1h0.95M267.4 166.4h0.95M268.0 168.5h0.95M265.5 163.4h0.95M266.6 164.2h0.95M267.3 168.2h0.95M266.8 158.5h0.95M267.3 173.8h0.95M266.8 164.1h0.95M266.8 164.7h0.95M265.4 173.4h0.95M267.2 169.6h0.95M266.3 165.7h0.95M268.5 171.2h0.95M267.6 177.1h0.95M267.3 167.7h0.95M266.0 175.0h0.95M265.6 166.3h0.95M268.6 175.6h0.95M267.7 166.2h0.95M269.0 168.2h0.95M267.3 171.6h0.95M267.7 170.5h0.95M267.7 171.8h0.95M268.2 165.9h0.95M266.5 173.7h0.95M265.2 164.1h0.95M269.7 175.6h0.95M267.4 176.0h0.95M267.7 167.1h0.95M266.6 166.9h0.95M268.4 170.9h0.95M267.4 170.1h0.95M268.6 165.1h0.95M266.3 172.8h0.95M267.1 159.8h0.95M267.4 167.8h0.95M266.7 168.0h0.95M267.5 168.6h0.95M269.2 171.5h0.95M266.4 163.9h0.95M266.8 172.9h0.95M267.4 169.1h0.95M265.9 166.7h0.95M265.6 163.2h0.95M268.6 164.1h0.95M268.2 171.8h0.95M265.2 165.2h0.95M265.4 170.3h0.95M268.2 175.3h0.95M268.7 175.2h0.95M267.8 168.5h0.95M269.3 164.6h0.95M267.2 175.1h0.95M268.9 171.5h0.95M268.8 175.6h0.95M266.0 170.1h0.95M268.1 176.0h0.95M267.3 174.2h0.95M266.4 173.6h0.95M266.1 172.5h0.95M267.6 172.0h0.95M267.1 171.2h0.95M268.3 171.1h0.95M266.4 167.4h0.95M267.2 169.5h0.95M266.3 174.9h0.95M266.6 169.5h0.95M267.9 168.5h0.95M267.3 163.6h0.95M268.9 166.4h0.95M266.9 168.4h0.95M267.1 174.7h0.95M269.9 165.0h0.95M268.1 171.8h0.95M267.1 173.4h0.95M268.3 166.5h0.95M267.7 173.0h0.95M266.8 171.5h0.95M267.4 164.9h0.95M268.4 169.9h0.95M266.2 168.7h0.95M267.9 158.4h0.95M267.8 173.0h0.95M269.0 172.7h0.95M268.2 167.8h0.95M266.4 163.3h0.95M269.3 177.4h0.95M267.3 171.3h0.95M266.3 175.1h0.95M267.7 177.1h0.95M266.9 167.4h0.95M268.7 174.1h0.95M265.5 168.8h0.95M265.8 169.7h0.95M266.9 169.6h0.95M269.5 170.0h0.95M276.8 175.1h0.95M297.0 160.4h0.95M306.1 159.5h0.95M290.6 166.3h0.95M302.5 165.4h0.95M277.5 162.8h0.95M285.9 170.3h0.95M285.4 162.9h0.95M289.4 159.4h0.95M269.2 171.8h0.95M296.1 159.4h0.95M299.1 154.4h0.95M270.5 163.0h0.95M269.3 166.7h0.95M292.3 169.0h0.95M282.0 175.6h0.95M297.0 165.8h0.95M286.9 161.6h0.95M280.6 166.3h0.95M310.0 156.2h0.95M285.7 159.4h0.95M275.9 163.8h0.95M287.3 164.5h0.95M273.9 167.8h0.95M275.7 163.5h0.95M291.0 164.4h0.95M279.4 165.9h0.95M282.7 170.8h0.95M304.6 157.0h0.95M295.1 159.4h0.95M295.1 161.4h0.95M291.6 161.4h0.95M290.3 159.5h0.95M301.5 156.3h0.95M287.0 167.7h0.95M307.7 158.9h0.95M277.6 174.1h0.95M280.3 158.6h0.95M270.0 169.1h0.95M281.5 164.3h0.95M292.1 162.9h0.95M301.4 156.1h0.95M277.8 165.3h0.95M287.4 167.7h0.95M282.3 166.9h0.95M275.8 163.0h0.95M275.0 175.4h0.95M288.4 168.4h0.95M265.8 169.9h0.95M288.6 167.5h0.95M285.0 161.3h0.95M280.6 172.2h0.95M274.4 168.1h0.95M269.2 167.4h0.95M306.2 154.5h0.95M269.8 167.3h0.95M303.7 158.3h0.95M293.0 162.5h0.95M282.0 166.3h0.95M272.2 167.4h0.95M291.4 144.5h0.95M305.4 157.1h0.95M272.4 160.8h0.95M283.1 166.9h0.95M299.6 164.5h0.95M290.2 164.1h0.95M307.6 153.9h0.95M279.4 166.3h0.95M291.8 161.5h0.95M271.2 167.8h0.95M308.3 152.6h0.95M276.3 163.9h0.95M284.6 165.0h0.95M286.1 169.1h0.95M306.9 154.8h0.95M282.4 166.3h0.95M285.6 163.8h0.95M293.4 163.8h0.95M305.0 160.8h0.95M285.7 165.8h0.95M296.4 157.0h0.95M290.4 158.9h0.95M285.5 172.8h0.95M286.4 163.0h0.95M285.8 163.2h0.95M278.3 174.7h0.95M301.3 163.6h0.95M271.5 173.0h0.95M298.4 157.6h0.95M300.6 170.0h0.95M285.6 166.6h0.95M278.4 170.2h0.95M283.2 164.8h0.95M288.9 156.5h0.95M292.0 155.6h0.95M289.9 164.9h0.95M297.7 161.7h0.95M279.4 166.0h0.95M286.6 158.6h0.95M266.1 165.5h0.95M293.9 159.7h0.95M285.2 157.7h0.95M282.9 170.1h0.95M300.9 164.1h0.95M298.5 173.2h0.95M285.4 161.8h0.95M268.3 167.4h0.95M292.0 145.3h0.95M312.7 150.8h0.95M279.9 166.1h0.95M288.5 168.2h0.95M284.2 168.2h0.95M290.9 165.4h0.95M293.5 162.5h0.95M301.4 161.5h0.95M277.5 175.0h0.95M301.7 153.0h0.95M274.9 166.8h0.95M286.7 157.5h0.95M301.6 166.0h0.95M296.1 166.7h0.95M276.8 171.9h0.95M276.2 162.7h0.95M281.1 167.3h0.95M285.0 163.8h0.95M298.9 159.7h0.95M271.3 169.5h0.95M292.1 164.6h0.95M292.1 160.1h0.95M293.7 165.6h0.95M291.6 163.4h0.95M302.4 156.5h0.95M291.2 161.8h0.95M294.8 158.8h0.95M293.6 165.4h0.95M305.5 155.3h0.95M265.4 174.3h0.95M299.6 157.1h0.95M280.6 159.5h0.95M284.4 169.5h0.95M273.4 164.4h0.95M266.4 175.7h0.95M282.5 168.0h0.95M275.6 160.7h0.95M289.9 158.3h0.95M268.8 169.0h0.95M300.5 154.6h0.95M287.0 158.3h0.95M284.5 168.7h0.95M277.7 166.7h0.95M277.9 169.6h0.95M272.7 167.8h0.95M280.5 168.2h0.95M284.8 161.3h0.95M284.0 165.2h0.95M271.2 173.3h0.95M283.1 165.9h0.95M275.3 166.6h0.95M285.9 159.2h0.95M307.0 156.8h0.95M293.5 163.1h0.95M282.1 164.8h0.95M266.6 168.6h0.95M271.2 173.1h0.95M293.6 160.0h0.95M278.1 169.3h0.95M287.3 165.8h0.95M274.8 156.6h0.95M287.2 164.6h0.95M300.4 155.3h0.95M280.7 173.4h0.95M281.8 165.0h0.95M275.7 164.9h0.95M295.4 159.7h0.95M274.9 169.8h0.95M272.5 167.3h0.95M270.5 170.5h0.95M268.0 165.2h0.95M290.9 161.4h0.95M315.9 156.2h0.95M278.2 177.2h0.95M297.8 163.2h0.95M289.3 164.5h0.95M275.7 174.4h0.95M284.6 170.0h0.95M286.2 172.5h0.95M280.1 172.1h0.95M307.3 155.3h0.95M265.2 174.1h0.95M290.5 163.5h0.95M290.2 164.3h0.95M279.9 167.9h0.95M286.3 160.6h0.95M292.2 151.8h0.95M286.6 161.0h0.95M287.2 154.2h0.95M293.8 161.7h0.95M299.6 150.9h0.95M312.5 157.1h0.95M298.4 163.7h0.95M297.4 160.3h0.95M287.8 172.8h0.95M274.9 163.1h0.95M281.2 171.5h0.95M297.5 162.0h0.95M277.8 169.9h0.95M286.1 169.0h0.95M283.2 162.7h0.95M285.6 160.6h0.95M276.9 164.5h0.95M277.8 167.3h0.95M304.5 150.0h0.95M270.8 165.6h0.95M275.3 171.6h0.95M276.9 167.8h0.95M300.0 160.7h0.95M306.2 147.2h0.95M288.4 159.7h0.95M277.1 165.4h0.95M281.3 166.6h0.95M296.9 157.3h0.95M277.4 172.5h0.95M302.1 157.7h0.95M285.2 153.9h0.95M285.1 157.4h0.95M292.1 163.7h0.95M280.3 154.2h0.95M296.2 160.0h0.95M289.6 160.6h0.95M286.5 150.5h0.95M285.4 158.4h0.95M290.2 151.3h0.95M295.2 163.4h0.95M294.5 159.7h0.95M288.8 157.1h0.95M293.8 149.0h0.95M286.2 157.7h0.95M297.5 152.4h0.95M284.7 161.2h0.95M298.4 152.1h0.95M286.1 162.6h0.95M273.3 161.3h0.95M283.0 153.4h0.95M276.2 164.0h0.95M306.0 155.2h0.95M290.0 155.1h0.95M269.3 157.7h0.95M290.5 152.5h0.95M281.0 154.4h0.95M304.2 156.0h0.95M274.5 166.2h0.95M285.7 155.4h0.95M281.5 166.7h0.95M280.8 156.7h0.95M289.3 162.3h0.95M301.7 158.8h0.95M265.9 171.5h0.95M296.7 158.5h0.95M279.3 149.8h0.95M308.5 164.8h0.95M289.4 154.5h0.95M283.1 155.2h0.95M296.1 139.0h0.95M290.3 163.0h0.95M279.1 161.9h0.95M292.1 161.8h0.95M279.9 162.9h0.95M267.1 167.1h0.95M305.3 156.7h0.95M281.5 162.6h0.95M278.9 152.5h0.95M288.4 154.9h0.95M269.4 163.3h0.95M271.5 159.3h0.95M280.0 149.0h0.95M262.6 159.7h0.95M278.6 136.1h0.95M325.8 138.5h0.95M262.3 147.8h0.95M310.3 172.5h0.95M292.8 135.9h0.95" stroke="#bc0c10" stroke-width="0.95" fill="none"/>
<ellipse cx="288.2" cy="167.6" rx="8.4" ry="3.0" transform="rotate(-24 288.2 167.6)" fill="#9c0c14" opacity="0.5"/>
<ellipse cx="288.2" cy="167.6" rx="7.5" ry="2.3" transform="rotate(-24 288.2 167.6)" fill="#c9c9c9"/>
<path filter="url(#sb)" d="M362.5 175.2h0.95M364.4 175.5h0.95M365.3 165.5h0.95M366.6 169.9h0.95M363.7 166.1h0.95M362.7 169.3h0.95M367.0 156.9h0.95M367.2 170.5h0.95M365.7 174.3h0.95M363.8 144.1h0.95M365.8 168.3h0.95M365.2 175.1h0.95M366.7 164.1h0.95M362.5 167.4h0.95M365.2 149.7h0.95M364.7 164.8h0.95M362.8 131.4h0.95M365.4 143.0h0.95M365.1 176.9h0.95M364.2 167.2h0.95M365.8 155.1h0.95M362.2 164.6h0.95M364.9 175.5h0.95M365.9 139.6h0.95M365.6 130.4h0.95M367.2 168.9h0.95M362.6 158.0h0.95M362.0 157.1h0.95M365.5 144.5h0.95M365.9 151.0h0.95M369.2 164.1h0.95M366.2 167.9h0.95M363.3 167.2h0.95M366.6 157.1h0.95M363.3 162.6h0.95M362.0 124.1h0.95M370.2 154.2h0.95M365.7 131.1h0.95M366.4 166.6h0.95M366.1 176.4h0.95M368.6 154.2h0.95M365.6 168.7h0.95M367.4 161.5h0.95M362.9 169.0h0.95M362.2 167.8h0.95M367.9 162.2h0.95M367.9 169.8h0.95M366.0 152.3h0.95M365.3 176.6h0.95M363.6 170.0h0.95M368.1 154.7h0.95M366.3 133.5h0.95M366.0 168.4h0.95M365.8 168.9h0.95M367.1 119.6h0.95M366.0 174.6h0.95M366.5 166.7h0.95M362.7 121.8h0.95M366.0 170.5h0.95M369.4 162.6h0.95M364.0 158.9h0.95M364.7 168.3h0.95M366.8 152.9h0.95M366.9 158.2h0.95M366.2 138.5h0.95M361.8 169.9h0.95M366.0 127.3h0.95M362.6 176.7h0.95M363.4 165.8h0.95M366.1 174.2h0.95M364.4 147.5h0.95M366.6 177.2h0.95M371.3 167.4h0.95M366.6 151.4h0.95M366.4 169.1h0.95M363.2 145.6h0.95M363.7 150.2h0.95M362.9 136.8h0.95M363.9 152.6h0.95M362.8 136.0h0.95M363.7 150.1h0.95M364.6 162.1h0.95M363.0 159.7h0.95M362.2 155.2h0.95M362.3 147.7h0.95M365.9 176.0h0.95M365.1 175.4h0.95M367.1 155.8h0.95M367.1 174.3h0.95M364.3 161.2h0.95M366.3 172.1h0.95M362.1 151.0h0.95M369.6 123.1h0.95M367.4 171.3h0.95M364.6 173.7h0.95M362.7 171.2h0.95M365.8 166.9h0.95M361.3 160.0h0.95M363.4 159.4h0.95M366.5 176.6h0.95M365.2 174.8h0.95M364.0 152.7h0.95M366.9 161.9h0.95M362.9 173.7h0.95M365.6 151.9h0.95M364.0 145.3h0.95M363.3 169.4h0.95M365.9 146.8h0.95M363.0 173.0h0.95M368.8 140.1h0.95M363.8 174.6h0.95M369.0 169.9h0.95M362.8 141.8h0.95M366.2 163.0h0.95M362.6 140.7h0.95M362.3 169.5h0.95M365.3 158.9h0.95M366.4 159.7h0.95M367.4 172.7h0.95M363.4 174.9h0.95M365.3 160.5h0.95M365.8 166.1h0.95M366.2 165.2h0.95M361.4 174.0h0.95M368.2 158.0h0.95M366.1 171.2h0.95M364.1 153.5h0.95M363.0 151.9h0.95M361.6 123.3h0.95M362.3 172.3h0.95M366.1 115.9h0.95M364.3 169.1h0.95M362.7 148.5h0.95M368.1 144.5h0.95M364.3 173.8h0.95M363.8 162.1h0.95M367.7 175.4h0.95M365.9 168.3h0.95M363.8 176.2h0.95M361.9 164.0h0.95M362.7 165.3h0.95M364.0 168.1h0.95M364.6 167.4h0.95M365.7 157.9h0.95M366.1 174.3h0.95M365.4 140.8h0.95M365.4 164.2h0.95M363.0 170.0h0.95M360.7 170.6h0.95M364.0 139.4h0.95M363.1 163.1h0.95M363.7 159.1h0.95M364.5 177.1h0.95M362.5 140.2h0.95M362.8 176.7h0.95M364.8 174.8h0.95M365.2 148.9h0.95M363.7 161.8h0.95M366.0 155.7h0.95M364.6 154.4h0.95M365.1 169.1h0.95M368.8 134.8h0.95M363.7 166.8h0.95M367.3 156.0h0.95M367.8 161.6h0.95M368.0 174.4h0.95M363.4 156.0h0.95M369.0 127.6h0.95M365.2 154.3h0.95M364.5 148.7h0.95M364.5 143.5h0.95M366.2 149.4h0.95M365.1 149.9h0.95M364.6 172.9h0.95M367.6 171.3h0.95M363.6 169.3h0.95M362.9 145.4h0.95M366.6 157.9h0.95M367.2 165.5h0.95M362.9 160.6h0.95M367.2 164.7h0.95M366.0 159.7h0.95M368.5 153.2h0.95M362.5 148.6h0.95M365.4 154.3h0.95M364.4 164.6h0.95M361.8 161.5h0.95M367.3 156.3h0.95M364.1 170.9h0.95M363.6 175.5h0.95M366.7 170.6h0.95M367.0 141.8h0.95M367.0 164.0h0.95M363.4 160.9h0.95M364.9 141.1h0.95M367.1 161.8h0.95M363.7 154.5h0.95M363.5 140.3h0.95M366.7 155.1h0.95M368.1 124.1h0.95M362.7 176.7h0.95M362.1 152.4h0.95M363.0 134.0h0.95M364.7 140.7h0.95M366.2 137.5h0.95M364.7 170.7h0.95M363.6 139.4h0.95M365.3 168.1h0.95M363.1 137.0h0.95M364.9 164.9h0.95M363.7 153.9h0.95M370.4 123.5h0.95M366.6 133.2h0.95M363.3 159.9h0.95M363.0 171.8h0.95M364.1 164.5h0.95M361.7 170.3h0.95M363.5 156.4h0.95M363.5 170.9h0.95M364.1 173.3h0.95M362.6 158.3h0.95M364.9 165.5h0.95M364.6 163.3h0.95M367.3 146.1h0.95M363.7 162.3h0.95M367.1 129.4h0.95M365.5 140.7h0.95M365.0 162.6h0.95M361.0 147.4h0.95M362.4 176.4h0.95M366.5 153.3h0.95M367.8 165.1h0.95M365.4 168.1h0.95M366.5 155.7h0.95M364.2 161.4h0.95M364.3 175.5h0.95M363.7 154.1h0.95M366.9 156.4h0.95M365.7 148.8h0.95M364.5 148.3h0.95M364.3 153.8h0.95M366.1 150.0h0.95M365.6 171.7h0.95M363.3 155.1h0.95M368.4 132.6h0.95M365.5 160.1h0.95M365.0 157.8h0.95M368.0 154.1h0.95M367.0 159.9h0.95M364.8 161.3h0.95M366.1 138.1h0.95M362.9 141.8h0.95M363.7 117.8h0.95M367.4 172.7h0.95M361.2 151.8h0.95M363.3 176.4h0.95M363.0 150.8h0.95M364.6 152.2h0.95M365.5 150.1h0.95M366.2 164.7h0.95M368.5 141.1h0.95M365.7 149.5h0.95M366.8 151.3h0.95M363.8 156.1h0.95M366.4 136.7h0.95M365.3 166.6h0.95M364.1 147.4h0.95M364.8 157.1h0.95M364.9 176.3h0.95M365.4 165.6h0.95M365.8 118.0h0.95M364.0 170.0h0.95M363.5 166.8h0.95M366.5 149.2h0.95M361.6 163.1h0.95M363.8 157.3h0.95M368.1 151.9h0.95M363.6 160.3h0.95M366.4 118.4h0.95M361.7 137.6h0.95M370.2 158.8h0.95M367.9 126.5h0.95M368.1 133.0h0.95M366.8 163.4h0.95M364.6 165.5h0.95M365.7 168.0h0.95M363.2 148.4h0.95M366.6 168.3h0.95M362.8 150.3h0.95M367.0 172.7h0.95M362.8 153.9h0.95M364.3 169.9h0.95M365.3 172.0h0.95M362.3 142.0h0.95M367.3 133.2h0.95M365.7 149.8h0.95M362.0 155.9h0.95M364.9 147.2h0.95M363.4 167.4h0.95M363.7 163.8h0.95M365.2 167.2h0.95M363.6 148.8h0.95M366.9 166.7h0.95M363.6 172.0h0.95M367.0 168.5h0.95M364.9 164.8h0.95M366.7 144.4h0.95M363.9 173.1h0.95M362.7 161.4h0.95M366.2 176.5h0.95M366.9 152.9h0.95M369.2 170.2h0.95M367.6 171.5h0.95M365.5 160.8h0.95M364.6 160.7h0.95M365.8 166.4h0.95M364.9 162.3h0.95M367.9 158.7h0.95M366.9 163.5h0.95M363.3 164.1h0.95M363.6 134.4h0.95M367.7 161.8h0.95M365.6 159.8h0.95M364.5 168.7h0.95M367.4 168.3h0.95M364.2 146.7h0.95M364.4 150.8h0.95M364.1 163.0h0.95M361.1 173.7h0.95M366.7 144.4h0.95M362.6 134.4h0.95M363.9 166.5h0.95M363.5 141.7h0.95M366.5 169.7h0.95M364.9 124.7h0.95M365.0 138.2h0.95M361.6 175.6h0.95M364.8 174.5h0.95M362.0 176.6h0.95M365.6 161.2h0.95M365.7 164.1h0.95M365.0 136.6h0.95M369.1 149.7h0.95M366.1 164.2h0.95M366.2 165.9h0.95M365.3 133.1h0.95M364.6 154.1h0.95M366.9 169.2h0.95M367.2 129.7h0.95M362.4 173.8h0.95M367.1 164.0h0.95M366.0 175.9h0.95M366.9 145.6h0.95M365.9 157.4h0.95M362.5 145.4h0.95M362.7 172.4h0.95M368.6 156.7h0.95M365.5 151.3h0.95M362.2 159.0h0.95M365.7 171.9h0.95M364.3 163.6h0.95M361.3 164.7h0.95M361.8 122.8h0.95M365.5 172.7h0.95M364.9 155.0h0.95M364.5 166.7h0.95M365.6 176.9h0.95M366.2 133.4h0.95M364.4 147.0h0.95M363.3 123.4h0.95M362.5 146.9h0.95M363.9 160.1h0.95M364.8 176.6h0.95M364.5 162.4h0.95M362.1 173.8h0.95M364.0 162.1h0.95M369.0 157.6h0.95M362.9 153.7h0.95M361.6 152.4h0.95M365.6 131.7h0.95M366.2 151.7h0.95M365.9 134.7h0.95M362.8 142.3h0.95M367.0 148.6h0.95M363.4 172.8h0.95M362.7 172.3h0.95M363.8 147.9h0.95M364.8 145.3h0.95M366.4 164.9h0.95M366.2 143.5h0.95M365.0 168.0h0.95M365.2 166.5h0.95M366.8 140.9h0.95M362.2 157.6h0.95M361.9 175.2h0.95M366.6 162.1h0.95M362.2 168.3h0.95M364.4 174.7h0.95M364.8 152.8h0.95M364.0 141.3h0.95M364.1 158.1h0.95M367.8 145.0h0.95M366.8 170.0h0.95M369.6 169.7h0.95M365.0 170.2h0.95M365.0 164.8h0.95M366.5 135.0h0.95M368.7 172.8h0.95M362.6 152.9h0.95M365.2 165.3h0.95M364.6 130.3h0.95M366.1 175.9h0.95M365.3 146.0h0.95M366.3 166.6h0.95M364.2 165.2h0.95M365.1 160.1h0.95M363.7 174.3h0.95M363.7 130.3h0.95M364.7 148.0h0.95M364.7 135.4h0.95M362.7 151.8h0.95M368.1 171.9h0.95M364.7 156.3h0.95M362.2 161.6h0.95M367.2 170.7h0.95M363.5 135.1h0.95M366.0 168.6h0.95M365.0 151.4h0.95M365.3 172.5h0.95M363.8 173.1h0.95M365.1 148.2h0.95M369.1 165.5h0.95M365.1 152.5h0.95M365.9 171.2h0.95M362.9 163.4h0.95M362.3 160.2h0.95M369.3 165.0h0.95M364.3 144.5h0.95M369.2 152.7h0.95M366.1 131.2h0.95M365.2 167.4h0.95M366.0 148.3h0.95M366.3 166.6h0.95M367.4 154.3h0.95M365.9 156.7h0.95M365.3 155.2h0.95M365.4 160.3h0.95M367.7 139.2h0.95M366.6 143.5h0.95M363.0 165.7h0.95M363.7 172.5h0.95M365.7 156.4h0.95M363.8 172.8h0.95M364.2 148.1h0.95M363.1 140.4h0.95M364.5 154.1h0.95M365.8 143.6h0.95M367.0 155.6h0.95M365.0 131.5h0.95M369.1 123.3h0.95M364.8 176.5h0.95M371.4 171.6h0.95M367.0 160.4h0.95M366.0 150.3h0.95M364.0 123.3h0.95M364.7 120.6h0.95M365.4 168.1h0.95M362.2 160.5h0.95M368.8 156.9h0.95M366.4 153.0h0.95M365.3 168.4h0.95M364.3 168.9h0.95M366.4 169.8h0.95M365.2 176.6h0.95M362.7 140.2h0.95M366.9 159.2h0.95M366.4 171.7h0.95M367.0 159.4h0.95M367.2 158.4h0.95M365.0 154.2h0.95M362.3 126.0h0.95M362.2 148.3h0.95M367.7 153.9h0.95M366.4 150.3h0.95M365.2 166.1h0.95M364.1 172.3h0.95M365.1 146.2h0.95M364.3 175.4h0.95M363.6 163.7h0.95M369.3 135.6h0.95M365.5 150.3h0.95M363.8 175.5h0.95M362.4 141.7h0.95M363.5 157.5h0.95M366.4 162.9h0.95M366.5 159.2h0.95M364.6 154.8h0.95M365.1 168.6h0.95M364.4 170.4h0.95M362.8 161.0h0.95M367.6 165.0h0.95M365.7 155.8h0.95M370.0 169.5h0.95M363.5 117.2h0.95M364.7 146.6h0.95M366.8 165.7h0.95M364.5 150.3h0.95M362.2 173.9h0.95M363.1 156.9h0.95M365.2 143.6h0.95M365.7 164.1h0.95M364.8 151.5h0.95M367.0 141.6h0.95M367.0 176.6h0.95M365.6 150.8h0.95M365.1 151.1h0.95M364.5 173.6h0.95M366.1 160.4h0.95M366.8 173.5h0.95M365.1 158.5h0.95M365.9 150.2h0.95M364.4 152.3h0.95M362.2 145.0h0.95M363.0 165.7h0.95M366.5 151.3h0.95M365.9 173.6h0.95M368.2 140.0h0.95M366.7 170.5h0.95M367.6 172.8h0.95M367.0 164.1h0.95M363.8 169.8h0.95M365.3 140.5h0.95M363.0 176.9h0.95M365.9 155.9h0.95M367.0 166.3h0.95M364.0 175.6h0.95M368.9 173.0h0.95M364.4 135.2h0.95M364.6 137.4h0.95M364.5 170.1h0.95M363.6 165.7h0.95M365.8 168.6h0.95M365.0 154.8h0.95M368.3 144.2h0.95M366.2 165.1h0.95M364.6 151.2h0.95M362.2 153.4h0.95M364.8 165.9h0.95M363.3 171.0h0.95M366.9 172.3h0.95M368.3 174.0h0.95M366.5 161.6h0.95M366.7 172.6h0.95M365.5 170.3h0.95M365.4 170.0h0.95M366.3 163.8h0.95M366.8 151.2h0.95M363.6 165.2h0.95M366.0 167.2h0.95M370.2 172.3h0.95M364.8 167.2h0.95M364.5 118.8h0.95M363.6 158.3h0.95M362.1 172.3h0.95M367.4 171.1h0.95M365.1 148.0h0.95M365.6 175.0h0.95M368.7 131.3h0.95M370.0 153.7h0.95M363.2 161.6h0.95M367.1 162.6h0.95M366.2 175.1h0.95M365.8 153.1h0.95M366.0 173.9h0.95M365.0 167.0h0.95M368.2 175.3h0.95M366.2 154.5h0.95M365.7 169.4h0.95M367.5 160.5h0.95M366.8 125.4h0.95M365.9 147.0h0.95M365.7 117.1h0.95M368.5 143.3h0.95M366.0 169.7h0.95M364.8 155.9h0.95M363.3 170.8h0.95M364.3 152.3h0.95M362.9 159.1h0.95M365.2 164.3h0.95M365.5 153.0h0.95M360.9 142.6h0.95M365.0 125.2h0.95M366.3 170.4h0.95M365.3 159.8h0.95M363.1 141.3h0.95M367.5 161.9h0.95M363.6 172.3h0.95M362.5 151.1h0.95M362.8 138.4h0.95M365.0 150.7h0.95M367.0 125.5h0.95M367.3 162.5h0.95M365.4 163.8h0.95M363.7 147.4h0.95M363.2 164.1h0.95M364.6 168.0h0.95M361.5 159.0h0.95M366.3 159.1h0.95M364.7 166.9h0.95M365.9 137.4h0.95M363.1 143.0h0.95M362.1 148.3h0.95M363.7 168.2h0.95M367.3 161.0h0.95M367.1 160.0h0.95M364.1 169.7h0.95M367.4 132.8h0.95M364.4 138.5h0.95M368.0 158.0h0.95M366.0 168.0h0.95M364.1 162.0h0.95M366.6 156.9h0.95M363.5 150.3h0.95M363.1 168.9h0.95M362.1 159.6h0.95M365.5 172.4h0.95M364.9 137.2h0.95M364.8 146.4h0.95M364.2 156.5h0.95M367.9 174.8h0.95M364.2 156.3h0.95M363.6 162.9h0.95M367.5 155.5h0.95M367.8 154.0h0.95M365.7 167.9h0.95M361.5 152.8h0.95M363.8 174.2h0.95M366.2 140.1h0.95M365.0 132.1h0.95M368.1 173.5h0.95M362.3 142.2h0.95M366.4 166.8h0.95M363.7 160.5h0.95M367.6 130.4h0.95M364.8 169.2h0.95M367.1 141.6h0.95M363.7 139.4h0.95M362.2 155.4h0.95M362.8 171.7h0.95M363.8 174.5h0.95M367.4 169.0h0.95M367.7 134.9h0.95M365.5 129.8h0.95M362.9 176.9h0.95M364.8 159.4h0.95M363.6 147.7h0.95M367.9 167.0h0.95M365.6 166.1h0.95M366.0 167.7h0.95M364.2 160.6h0.95M361.0 151.6h0.95M363.5 167.7h0.95M362.8 176.7h0.95M365.7 141.1h0.95M365.2 170.1h0.95M363.4 155.7h0.95M364.2 163.6h0.95M368.1 148.9h0.95M363.1 124.1h0.95M363.2 129.9h0.95M364.5 141.9h0.95M363.6 165.4h0.95M366.1 175.9h0.95M368.5 176.3h0.95M361.4 159.2h0.95M365.0 165.7h0.95M365.1 145.1h0.95M364.8 145.7h0.95M364.6 123.1h0.95M364.3 116.8h0.95M367.0 173.4h0.95M364.1 140.1h0.95M364.7 165.4h0.95M365.0 156.4h0.95M364.7 155.5h0.95M367.0 146.6h0.95M365.0 154.6h0.95M365.3 158.2h0.95M364.9 171.4h0.95M363.0 149.3h0.95M363.3 141.8h0.95M362.9 169.1h0.95M365.4 140.3h0.95M363.6 167.7h0.95M362.9 131.8h0.95M365.5 160.2h0.95M366.1 172.0h0.95M368.4 151.0h0.95M365.1 154.5h0.95M364.8 163.2h0.95M367.1 176.7h0.95M365.1 175.7h0.95M363.8 138.6h0.95M369.4 153.7h0.95M362.9 164.1h0.95M364.8 136.6h0.95M366.7 165.3h0.95M362.9 166.1h0.95M364.8 167.0h0.95M365.8 150.1h0.95M369.8 168.7h0.95M363.2 151.0h0.95M364.9 173.5h0.95M366.3 161.7h0.95M365.2 164.3h0.95M362.6 168.8h0.95M365.8 137.4h0.95M365.2 152.4h0.95M365.9 173.6h0.95M367.3 152.4h0.95M367.0 125.7h0.95M365.8 135.0h0.95M365.6 122.3h0.95M362.8 155.2h0.95M364.7 150.9h0.95M365.4 163.3h0.95M364.2 177.1h0.95M365.2 174.6h0.95M363.3 158.2h0.95M368.1 170.1h0.95M369.3 167.7h0.95M364.2 174.4h0.95M365.8 121.1h0.95M364.5 168.0h0.95M367.5 142.7h0.95M365.9 167.7h0.95M365.2 174.3h0.95M364.6 162.2h0.95M365.3 165.4h0.95M363.0 148.8h0.95M366.4 171.0h0.95M363.6 151.4h0.95M365.3 163.1h0.95M367.2 126.9h0.95M365.0 130.6h0.95M367.0 157.3h0.95M363.2 159.6h0.95M366.2 128.2h0.95M364.6 155.9h0.95M365.4 166.1h0.95M365.1 157.6h0.95M366.9 158.9h0.95M361.0 135.7h0.95M365.6 146.7h0.95M362.0 140.6h0.95M367.4 149.1h0.95M361.1 155.2h0.95M363.0 143.3h0.95M361.7 148.1h0.95M368.3 153.3h0.95M362.4 172.9h0.95M365.2 169.2h0.95M363.9 155.6h0.95M361.4 159.5h0.95M364.3 144.5h0.95M366.3 164.9h0.95M364.6 177.1h0.95M366.9 153.7h0.95M364.3 170.9h0.95M365.0 130.9h0.95M364.2 162.7h0.95M365.7 177.1h0.95M368.8 143.1h0.95M365.7 160.9h0.95M365.4 155.7h0.95M363.8 149.3h0.95M363.5 168.0h0.95M367.9 165.0h0.95M362.8 173.8h0.95M364.8 145.3h0.95M364.1 155.9h0.95M368.9 141.1h0.95M365.7 175.8h0.95M366.4 159.9h0.95M362.8 171.6h0.95M363.7 160.6h0.95M365.9 165.4h0.95M368.3 131.1h0.95M363.2 176.6h0.95M361.8 161.8h0.95M366.9 166.6h0.95M368.0 150.6h0.95M364.3 165.9h0.95M367.9 149.5h0.95M364.6 160.6h0.95M367.2 165.0h0.95M364.9 167.3h0.95M364.2 148.0h0.95M364.1 176.4h0.95M367.9 133.1h0.95M367.9 164.6h0.95M360.7 163.9h0.95M363.1 163.9h0.95M368.6 174.3h0.95M364.3 172.4h0.95M362.3 157.3h0.95M365.0 174.1h0.95M366.4 157.4h0.95M366.8 162.9h0.95M365.2 146.8h0.95M364.7 152.5h0.95M366.0 170.2h0.95M364.5 174.5h0.95M366.1 145.5h0.95M367.5 131.4h0.95M367.0 170.1h0.95M364.5 150.4h0.95M362.7 176.5h0.95M365.2 166.1h0.95M365.1 146.4h0.95M367.5 170.5h0.95M364.5 155.4h0.95M364.9 163.7h0.95M366.8 172.2h0.95M364.4 157.0h0.95M365.0 175.4h0.95M368.7 147.9h0.95M368.3 146.9h0.95M366.6 160.0h0.95M365.8 148.2h0.95M363.4 163.4h0.95M366.4 154.6h0.95M365.4 165.1h0.95M365.7 169.3h0.95M364.3 156.4h0.95M365.3 173.7h0.95M364.9 167.1h0.95M365.9 170.9h0.95M368.2 129.0h0.95M366.0 128.8h0.95M362.0 159.7h0.95M363.4 144.6h0.95M362.1 171.6h0.95M363.7 147.6h0.95M366.4 165.2h0.95M366.1 140.3h0.95M364.1 159.5h0.95M365.8 173.0h0.95M363.8 171.1h0.95M362.5 146.3h0.95M362.5 152.1h0.95M363.6 154.8h0.95M368.1 145.2h0.95M362.6 152.2h0.95M367.8 176.2h0.95M368.0 172.0h0.95M364.9 143.7h0.95M365.2 162.2h0.95M364.1 175.4h0.95M365.3 146.1h0.95M366.6 170.4h0.95M365.3 167.9h0.95M367.3 172.3h0.95M367.7 132.2h0.95M366.0 174.1h0.95M366.0 177.1h0.95M365.2 140.1h0.95M366.0 159.7h0.95M363.1 132.5h0.95M366.1 158.1h0.95M365.7 163.4h0.95M363.6 165.3h0.95M369.6 170.8h0.95M363.4 142.7h0.95M363.6 133.8h0.95M365.9 168.8h0.95M361.4 129.3h0.95M363.7 139.7h0.95M362.3 139.8h0.95M363.4 166.8h0.95M365.0 150.1h0.95M365.9 169.9h0.95M367.5 161.4h0.95M366.9 170.1h0.95M367.7 167.3h0.95M366.5 172.0h0.95M364.4 141.8h0.95M367.5 145.8h0.95M364.3 159.4h0.95M364.1 157.1h0.95M368.3 166.9h0.95M366.9 168.4h0.95M365.7 143.2h0.95M366.8 134.0h0.95M367.0 165.1h0.95M362.6 162.4h0.95M365.1 141.8h0.95M362.9 130.8h0.95M365.5 129.2h0.95M363.9 140.4h0.95M368.0 141.7h0.95M366.3 138.4h0.95M363.7 130.5h0.95M365.3 136.5h0.95M362.9 145.5h0.95M365.4 132.6h0.95M366.4 138.3h0.95M365.8 149.9h0.95M361.4 170.4h0.95M364.6 171.6h0.95M366.3 148.3h0.95M365.9 134.3h0.95M367.6 141.5h0.95M362.7 161.7h0.95M366.3 148.4h0.95M364.0 156.5h0.95M365.7 164.8h0.95M366.1 160.9h0.95M366.7 171.0h0.95M364.1 132.3h0.95M365.7 142.8h0.95M363.0 129.7h0.95M362.5 154.1h0.95M366.4 158.7h0.95M365.2 140.7h0.95M362.0 130.8h0.95M363.6 151.2h0.95M365.3 136.4h0.95M368.4 137.7h0.95M367.4 147.1h0.95M366.9 175.3h0.95M361.7 146.0h0.95M365.1 163.5h0.95M366.2 146.6h0.95M366.1 148.3h0.95M366.1 135.0h0.95M364.8 137.2h0.95M368.8 166.5h0.95M368.2 149.5h0.95M365.1 142.3h0.95M369.4 171.9h0.95M364.2 141.2h0.95M367.7 149.7h0.95M369.1 156.3h0.95M363.4 136.3h0.95M365.9 149.4h0.95M364.6 142.2h0.95M366.3 168.5h0.95M365.9 132.7h0.95M366.5 139.8h0.95M365.3 144.6h0.95M367.5 131.8h0.95M364.7 173.6h0.95M364.6 169.4h0.95M369.8 131.4h0.95M373.7 169.3h0.95M375.6 163.3h0.95M361.6 172.8h0.95M385.2 165.2h0.95M379.9 167.7h0.95M377.1 161.1h0.95M381.8 158.9h0.95M374.9 168.1h0.95M373.1 164.8h0.95M379.9 163.2h0.95M377.8 164.0h0.95M374.8 168.7h0.95M372.7 161.3h0.95M369.7 164.1h0.95M378.7 161.3h0.95M382.9 164.9h0.95M375.5 166.3h0.95M385.5 155.6h0.95M366.5 173.7h0.95M375.1 169.0h0.95M386.3 159.3h0.95M372.6 167.6h0.95M366.1 173.9h0.95M386.1 163.5h0.95M379.4 164.7h0.95M368.8 172.4h0.95M380.6 163.4h0.95M368.7 169.9h0.95M366.0 170.1h0.95M375.1 167.7h0.95M372.2 167.9h0.95M368.4 170.5h0.95M374.5 169.9h0.95M369.9 171.6h0.95M377.2 168.1h0.95M373.5 163.5h0.95M381.2 164.8h0.95M372.0 167.2h0.95M366.2 170.2h0.95M366.2 170.1h0.95M375.7 170.0h0.95M386.5 162.2h0.95M380.2 161.7h0.95M370.2 166.8h0.95M381.7 162.9h0.95M367.7 170.3h0.95M384.3 165.9h0.95M371.4 165.1h0.95M378.3 159.8h0.95M379.3 163.6h0.95M373.9 167.7h0.95M378.0 165.6h0.95M369.9 172.4h0.95M377.9 171.1h0.95M382.2 161.6h0.95M401.1 149.1h0.95M377.9 160.2h0.95M376.6 166.7h0.95M370.3 172.4h0.95M382.1 161.8h0.95M366.6 175.6h0.95M370.6 169.8h0.95M379.9 168.2h0.95M368.4 172.1h0.95M384.2 158.3h0.95M381.9 160.9h0.95M370.1 165.7h0.95M370.0 165.3h0.95M367.6 172.4h0.95M367.9 173.9h0.95M381.0 168.8h0.95M379.6 164.0h0.95M377.6 164.7h0.95M376.0 163.3h0.95M373.4 170.8h0.95M378.5 165.9h0.95M365.6 171.2h0.95M376.6 168.0h0.95M385.8 161.8h0.95M381.8 157.5h0.95M373.7 169.9h0.95M373.7 168.2h0.95M384.0 160.3h0.95M386.6 158.6h0.95M368.4 176.1h0.95M374.9 171.4h0.95M379.5 169.4h0.95M382.0 159.4h0.95M369.5 168.6h0.95M381.0 165.9h0.95M372.3 165.3h0.95M390.0 155.6h0.95M376.2 161.2h0.95M377.2 170.9h0.95M374.9 170.1h0.95M383.0 163.3h0.95M380.3 164.3h0.95M368.3 170.1h0.95M376.6 164.9h0.95M367.9 173.2h0.95M370.0 168.1h0.95M369.0 174.2h0.95M366.6 170.9h0.95M370.2 167.5h0.95M371.1 173.1h0.95M378.9 164.2h0.95M381.5 164.5h0.95M373.7 166.7h0.95M365.7 166.5h0.95M381.5 164.5h0.95M361.1 171.9h0.95M364.8 176.5h0.95M378.4 160.5h0.95M377.5 160.2h0.95M382.3 163.3h0.95M374.9 168.3h0.95M367.8 171.8h0.95M370.9 166.1h0.95M380.5 166.1h0.95M369.0 166.7h0.95M370.6 168.4h0.95M365.8 170.5h0.95M367.8 170.5h0.95M382.2 164.9h0.95M377.8 163.5h0.95M369.0 172.4h0.95M369.7 172.3h0.95M369.9 165.3h0.95M377.7 162.0h0.95M367.8 170.5h0.95M373.9 166.0h0.95M362.4 175.8h0.95M365.2 167.7h0.95M379.3 166.4h0.95M382.4 164.5h0.95M368.1 170.9h0.95M369.0 166.8h0.95M380.8 163.4h0.95M372.5 167.0h0.95M373.0 169.9h0.95M378.9 164.3h0.95M377.9 167.3h0.95M382.3 161.3h0.95M382.6 166.3h0.95M369.1 164.2h0.95M373.7 165.0h0.95M376.0 167.8h0.95M365.1 168.9h0.95M370.4 172.0h0.95M380.4 160.2h0.95M365.7 173.1h0.95M380.9 160.7h0.95M377.0 164.5h0.95M375.1 167.5h0.95M379.0 164.2h0.95M378.3 163.9h0.95M386.2 166.1h0.95M373.2 168.2h0.95M373.0 165.5h0.95M375.3 169.4h0.95M388.8 160.7h0.95M383.3 165.3h0.95M372.1 173.9h0.95M372.4 166.0h0.95M372.6 171.5h0.95M377.3 168.8h0.95M377.1 165.7h0.95M390.7 157.9h0.95M381.6 161.3h0.95M380.8 168.5h0.95M369.0 165.7h0.95M374.1 166.1h0.95M372.9 169.1h0.95M376.8 167.5h0.95M384.2 165.9h0.95M363.8 169.0h0.95M384.2 161.4h0.95M374.5 169.8h0.95M383.7 157.9h0.95M378.3 164.8h0.95M386.0 165.5h0.95M381.0 167.0h0.95M383.4 163.3h0.95M372.8 161.0h0.95M370.3 169.6h0.95M380.5 164.7h0.95M379.9 163.1h0.95M389.1 158.0h0.95M374.2 166.9h0.95M381.3 160.3h0.95M368.1 172.0h0.95M373.9 166.8h0.95M388.9 157.5h0.95M384.7 160.7h0.95M371.2 171.6h0.95M385.2 161.3h0.95M381.8 159.4h0.95M380.6 163.2h0.95M378.8 166.0h0.95M376.7 164.6h0.95M371.7 172.3h0.95M373.5 170.2h0.95M379.2 161.6h0.95M377.1 166.6h0.95M390.1 163.2h0.95M375.7 171.0h0.95M374.8 169.7h0.95M376.7 164.0h0.95M376.4 162.0h0.95M376.9 167.4h0.95M370.9 170.3h0.95M386.0 161.6h0.95M371.6 169.1h0.95M380.8 164.3h0.95M373.3 166.6h0.95M368.8 172.2h0.95M385.9 162.6h0.95M371.4 171.6h0.95M376.3 161.2h0.95M372.6 166.3h0.95M382.5 166.5h0.95M377.4 170.5h0.95M373.3 168.8h0.95M389.5 157.7h0.95M372.8 164.8h0.95M375.3 167.9h0.95M369.9 172.4h0.95M369.2 166.5h0.95M380.7 165.0h0.95M380.1 165.2h0.95M376.4 167.4h0.95M370.0 167.0h0.95M380.9 164.9h0.95M363.1 170.2h0.95M375.6 170.9h0.95M374.4 167.8h0.95M369.0 167.5h0.95M378.6 168.6h0.95M373.1 171.5h0.95M369.9 168.3h0.95M390.2 163.8h0.95M379.3 161.5h0.95M383.9 162.3h0.95M377.7 168.7h0.95M379.2 158.0h0.95M382.2 165.4h0.95M383.5 161.5h0.95M391.0 157.0h0.95M373.1 165.2h0.95M378.0 166.1h0.95M374.2 164.4h0.95M366.5 171.1h0.95M374.5 163.9h0.95M382.0 167.1h0.95M370.6 166.0h0.95M382.2 160.4h0.95M383.7 160.7h0.95M373.3 168.1h0.95M386.0 162.4h0.95M388.1 161.1h0.95M378.5 164.0h0.95M369.2 169.5h0.95M385.4 160.7h0.95M376.0 168.7h0.95M374.5 169.3h0.95M376.1 164.9h0.95M369.9 164.4h0.95M385.5 166.5h0.95M382.1 165.3h0.95M384.1 162.1h0.95M380.1 164.8h0.95M370.3 168.5h0.95M373.7 165.0h0.95M381.1 162.2h0.95M373.1 167.6h0.95M393.8 153.5h0.95M372.6 164.4h0.95M371.9 168.1h0.95M384.0 163.0h0.95M380.1 162.4h0.95M375.9 166.6h0.95M371.9 163.1h0.95M378.4 164.3h0.95M381.2 162.8h0.95M379.3 160.9h0.95M371.9 164.1h0.95M379.3 165.5h0.95M380.3 161.4h0.95M381.5 164.4h0.95M371.1 171.2h0.95M370.6 168.8h0.95M372.6 164.2h0.95M377.0 165.5h0.95M381.4 162.1h0.95M380.8 165.3h0.95M374.6 166.0h0.95M375.6 165.5h0.95M388.3 161.2h0.95M373.6 171.2h0.95M378.9 166.7h0.95M387.3 162.3h0.95M378.8 165.9h0.95M364.0 176.1h0.95M379.5 166.7h0.95M374.0 168.8h0.95M375.4 167.0h0.95M382.9 162.5h0.95M382.0 169.4h0.95M374.3 167.5h0.95M381.4 162.4h0.95M378.3 163.9h0.95M376.6 165.9h0.95M378.2 165.7h0.95M376.2 163.1h0.95M371.3 163.7h0.95M373.5 168.8h0.95M374.1 163.0h0.95M370.3 170.7h0.95M368.2 171.7h0.95M385.7 163.6h0.95M376.6 170.8h0.95M376.3 167.2h0.95M374.4 165.8h0.95M374.7 163.9h0.95M375.1 164.7h0.95M376.5 166.2h0.95M368.2 165.4h0.95M382.0 162.8h0.95M371.6 169.1h0.95M383.4 163.6h0.95M363.4 173.3h0.95M369.4 170.8h0.95M381.4 161.0h0.95M374.5 166.0h0.95M369.5 165.5h0.95M378.5 165.2h0.95M371.3 173.7h0.95M376.7 166.4h0.95M362.4 175.9h0.95M371.9 166.2h0.95M373.7 171.9h0.95M378.5 162.7h0.95M382.6 164.6h0.95M370.7 170.0h0.95M385.0 158.1h0.95M373.5 170.8h0.95M362.9 174.6h0.95M361.1 176.2h0.95M386.4 161.2h0.95M375.4 166.7h0.95M371.4 168.2h0.95M371.8 170.3h0.95M368.5 169.9h0.95M384.7 161.2h0.95M374.6 165.4h0.95M385.5 156.3h0.95M373.9 165.8h0.95M381.4 163.1h0.95M375.2 170.3h0.95M372.3 163.9h0.95M386.1 160.4h0.95M371.5 162.9h0.95M382.1 159.7h0.95M375.3 165.4h0.95M368.4 164.8h0.95M376.9 160.6h0.95M372.4 169.1h0.95M383.9 161.7h0.95M382.0 162.4h0.95M375.4 164.5h0.95M382.6 168.4h0.95M379.4 163.8h0.95M373.2 165.7h0.95M383.8 166.3h0.95M375.3 168.6h0.95M379.4 163.2h0.95M371.5 172.6h0.95M376.8 166.3h0.95M379.5 166.1h0.95M371.3 170.0h0.95M372.1 166.0h0.95M373.9 170.5h0.95M380.9 163.8h0.95M370.2 167.2h0.95M377.8 163.1h0.95M386.9 162.3h0.95M377.8 164.2h0.95M365.8 172.9h0.95M377.7 167.2h0.95M382.8 162.5h0.95M372.3 164.4h0.95M383.9 163.3h0.95M381.2 165.8h0.95M379.8 166.5h0.95M376.4 170.7h0.95M373.3 169.1h0.95M375.4 169.0h0.95M378.5 169.4h0.95M379.0 163.7h0.95M380.9 168.2h0.95M376.4 171.1h0.95M377.5 167.7h0.95M380.9 168.6h0.95M366.8 174.5h0.95M370.1 167.6h0.95M372.4 171.8h0.95M375.2 167.8h0.95M374.9 168.3h0.95M374.6 167.7h0.95M372.3 172.6h0.95M381.1 164.8h0.95M377.0 163.8h0.95M366.3 173.9h0.95M377.1 167.8h0.95M368.0 169.3h0.95M386.4 158.7h0.95M372.7 167.4h0.95M372.8 166.7h0.95M377.1 166.7h0.95M376.1 169.2h0.95M378.1 170.4h0.95M387.5 162.6h0.95M378.8 167.5h0.95M382.9 165.3h0.95M385.0 164.6h0.95M369.4 169.4h0.95M387.7 161.0h0.95M380.9 164.3h0.95M382.0 162.3h0.95M370.0 168.8h0.95M380.7 162.1h0.95M378.4 164.1h0.95M371.1 166.0h0.95M391.3 158.3h0.95M379.7 164.0h0.95M374.7 167.5h0.95M377.8 166.2h0.95M382.8 164.2h0.95M382.6 160.6h0.95M379.7 163.8h0.95M381.8 158.2h0.95M382.6 156.0h0.95M365.8 167.3h0.95M375.0 171.4h0.95M367.8 166.3h0.95M377.3 166.9h0.95M387.2 163.6h0.95M379.7 162.8h0.95M371.5 173.8h0.95M376.6 171.2h0.95M383.9 164.2h0.95M375.8 173.3h0.95M376.3 168.0h0.95M377.1 163.6h0.95M365.2 174.6h0.95M380.5 162.3h0.95M376.7 162.3h0.95M378.1 161.5h0.95M372.8 174.9h0.95M370.6 168.3h0.95M372.3 168.7h0.95M376.9 164.0h0.95M376.8 166.3h0.95M376.6 165.3h0.95M387.0 158.4h0.95M382.9 158.7h0.95M369.8 166.3h0.95M371.0 167.4h0.95M387.4 160.1h0.95M376.8 171.8h0.95M386.3 163.0h0.95M388.6 163.7h0.95M373.3 169.5h0.95M374.3 167.2h0.95M375.0 163.3h0.95M370.7 169.8h0.95M367.2 165.9h0.95M373.2 167.3h0.95M383.6 166.3h0.95M373.7 168.8h0.95M376.3 169.5h0.95M372.7 167.4h0.95M365.7 169.0h0.95M385.0 159.5h0.95M360.8 174.9h0.95M373.5 171.4h0.95M382.2 168.2h0.95M366.3 170.4h0.95M379.5 163.2h0.95M383.9 161.1h0.95M370.2 169.1h0.95M375.9 163.0h0.95M369.2 171.0h0.95M379.8 165.1h0.95M377.2 166.8h0.95M376.0 163.1h0.95M384.7 160.7h0.95M376.9 161.0h0.95M385.9 162.9h0.95M378.9 161.8h0.95M368.2 170.6h0.95M377.2 164.4h0.95M378.5 163.2h0.95M365.6 170.0h0.95M382.4 157.5h0.95M378.8 169.6h0.95M378.8 165.4h0.95M370.8 170.5h0.95M379.3 170.4h0.95M377.9 165.0h0.95M374.8 168.8h0.95M376.7 166.1h0.95M385.5 162.0h0.95M369.5 171.5h0.95M362.0 174.5h0.95M370.4 170.8h0.95M372.3 172.1h0.95M377.0 160.0h0.95M370.2 169.8h0.95M377.4 164.4h0.95M369.7 169.6h0.95M387.7 153.6h0.95M380.6 165.7h0.95M387.5 156.9h0.95M369.4 170.0h0.95M379.7 162.7h0.95M368.0 166.8h0.95M379.3 163.2h0.95M378.1 160.0h0.95M364.8 170.8h0.95M368.5 170.3h0.95M368.7 171.0h0.95M366.7 172.5h0.95M371.3 169.0h0.95M372.8 174.6h0.95M367.5 173.0h0.95M375.2 163.5h0.95M378.8 163.0h0.95M366.9 170.3h0.95M372.4 168.3h0.95M375.4 165.2h0.95M373.6 165.6h0.95M373.8 172.6h0.95M381.3 163.3h0.95M381.1 162.4h0.95M380.1 163.2h0.95M374.5 166.8h0.95M390.5 161.4h0.95M387.8 160.5h0.95M375.0 170.3h0.95M371.4 160.6h0.95M384.1 162.4h0.95M372.4 171.8h0.95M381.2 168.9h0.95M376.4 166.3h0.95M369.5 165.7h0.95M375.4 168.5h0.95M365.4 171.5h0.95M370.4 164.9h0.95M362.6 173.1h0.95M392.0 159.5h0.95M387.2 162.9h0.95M384.8 163.0h0.95M376.7 163.1h0.95M385.7 167.6h0.95M382.7 159.0h0.95M382.5 162.2h0.95M380.1 159.9h0.95M372.0 172.8h0.95M379.4 165.7h0.95M373.8 170.4h0.95M368.7 171.3h0.95M368.7 170.8h0.95M379.0 165.1h0.95M380.4 158.4h0.95M368.6 173.9h0.95M388.3 161.4h0.95M384.9 159.8h0.95M373.6 167.9h0.95M373.5 168.9h0.95M377.6 170.0h0.95M382.9 163.4h0.95M373.7 168.1h0.95M368.4 169.8h0.95M376.3 162.0h0.95M362.2 173.5h0.95M377.1 166.1h0.95M383.1 161.4h0.95M378.1 165.4h0.95M382.0 164.9h0.95M379.8 165.4h0.95M381.0 164.2h0.95M377.8 167.2h0.95M371.0 170.2h0.95M374.6 167.3h0.95M376.2 167.7h0.95M381.9 158.0h0.95M388.0 162.6h0.95M377.1 162.2h0.95M372.3 171.2h0.95M371.4 169.4h0.95M376.3 169.5h0.95M384.9 161.0h0.95M377.0 163.2h0.95M377.1 168.9h0.95M371.4 169.9h0.95M381.8 163.2h0.95M378.0 165.5h0.95M377.0 168.7h0.95M377.8 167.8h0.95M387.1 160.3h0.95M373.1 164.0h0.95M386.3 159.0h0.95M384.1 161.8h0.95M378.7 170.0h0.95M382.2 163.8h0.95M375.2 166.8h0.95M372.3 172.2h0.95M374.2 167.3h0.95M370.3 170.1h0.95M379.5 164.8h0.95M374.3 163.4h0.95M380.9 166.2h0.95M381.9 164.1h0.95M376.6 162.9h0.95M364.9 174.1h0.95M378.9 168.7h0.95M369.7 168.7h0.95M375.4 163.9h0.95M385.3 161.9h0.95M363.2 170.1h0.95M374.5 161.2h0.95M375.0 165.9h0.95M363.2 172.6h0.95M379.8 163.4h0.95M375.6 165.3h0.95M373.3 169.2h0.95M371.2 168.9h0.95M395.7 152.5h0.95M373.0 167.1h0.95M365.4 175.0h0.95M371.4 172.2h0.95M374.9 169.8h0.95M374.5 169.5h0.95M371.4 160.1h0.95M368.1 168.6h0.95M379.1 163.7h0.95M373.3 168.9h0.95M365.4 168.6h0.95M372.7 172.7h0.95M374.0 168.7h0.95M380.7 161.9h0.95M379.4 164.9h0.95M373.5 167.2h0.95M375.2 164.9h0.95M378.1 166.7h0.95M388.5 157.5h0.95M370.4 166.1h0.95M378.2 163.4h0.95M380.6 163.4h0.95M368.6 168.1h0.95M378.9 168.3h0.95M375.7 163.7h0.95M375.3 172.0h0.95M380.8 166.1h0.95M381.4 160.5h0.95M383.4 162.3h0.95M376.4 169.7h0.95M377.0 165.4h0.95M389.5 154.8h0.95M369.2 171.1h0.95M380.0 169.7h0.95M379.8 160.0h0.95M377.7 167.1h0.95M380.3 163.9h0.95M377.0 165.6h0.95M380.4 162.7h0.95M383.8 160.8h0.95M376.0 169.5h0.95M378.1 167.0h0.95M374.5 164.7h0.95M375.5 171.3h0.95M374.3 164.0h0.95M369.7 172.4h0.95M381.1 164.0h0.95M388.4 162.2h0.95M387.4 160.5h0.95M385.5 163.6h0.95M369.9 170.3h0.95M387.0 162.5h0.95M372.0 170.1h0.95M378.5 171.1h0.95M386.9 157.8h0.95M370.8 173.2h0.95M382.0 164.1h0.95M378.1 165.8h0.95M374.4 166.0h0.95M371.1 170.9h0.95M376.9 161.9h0.95M371.4 165.6h0.95M383.6 163.8h0.95M381.9 158.5h0.95M369.1 175.0h0.95M372.5 168.0h0.95M374.4 168.3h0.95M368.7 171.4h0.95M369.5 171.8h0.95M376.3 165.6h0.95M374.3 166.6h0.95M365.4 172.9h0.95M374.0 170.8h0.95M386.8 147.3h0.95M387.2 146.1h0.95M381.9 149.7h0.95M377.0 149.2h0.95M368.4 155.0h0.95M382.3 146.4h0.95M384.7 147.8h0.95M378.0 153.5h0.95M385.6 149.8h0.95M386.6 144.8h0.95M380.1 150.4h0.95M383.8 143.4h0.95M378.6 144.8h0.95M368.0 155.0h0.95M375.8 150.8h0.95M375.1 148.8h0.95M380.4 144.9h0.95M374.9 154.7h0.95M375.8 150.4h0.95M371.6 150.5h0.95M382.1 155.4h0.95M380.1 150.6h0.95M384.9 146.3h0.95M385.1 149.0h0.95M379.5 148.3h0.95M382.8 152.9h0.95M378.2 146.9h0.95M378.5 147.4h0.95M388.5 144.6h0.95M363.6 157.9h0.95M380.1 154.0h0.95M379.3 146.1h0.95M385.3 144.9h0.95M373.2 154.9h0.95M382.2 150.4h0.95M385.8 149.4h0.95M377.2 152.8h0.95M370.7 161.9h0.95M376.7 150.8h0.95M372.4 155.2h0.95M384.4 149.9h0.95M373.9 152.9h0.95M389.7 143.4h0.95M379.7 149.0h0.95M373.8 152.0h0.95M375.0 150.0h0.95M372.2 153.2h0.95M379.8 145.9h0.95M388.8 145.8h0.95M376.2 148.0h0.95M387.5 151.3h0.95M375.9 157.3h0.95M382.6 151.6h0.95M393.0 141.7h0.95M370.3 154.3h0.95M388.3 148.5h0.95M386.7 146.6h0.95M368.8 158.4h0.95M369.9 154.1h0.95M374.9 156.1h0.95M384.2 145.3h0.95M377.0 152.2h0.95M376.3 147.5h0.95M382.8 146.5h0.95M380.7 151.0h0.95M380.2 148.7h0.95M376.9 150.7h0.95M387.1 148.0h0.95M374.6 153.1h0.95M391.0 146.9h0.95M374.4 146.7h0.95M375.3 154.5h0.95M383.9 149.1h0.95M380.2 145.6h0.95M365.9 154.9h0.95M381.8 151.4h0.95M370.0 153.1h0.95M373.6 152.1h0.95M384.8 148.8h0.95M373.8 152.9h0.95M382.1 150.1h0.95M376.0 150.0h0.95M391.3 144.1h0.95M380.1 153.0h0.95M372.7 155.3h0.95M370.0 149.9h0.95M374.7 155.0h0.95M380.2 150.1h0.95M378.2 148.6h0.95M386.9 149.8h0.95M378.2 146.3h0.95M382.4 153.8h0.95M380.5 148.0h0.95M380.5 154.1h0.95M381.0 149.3h0.95M382.4 144.9h0.95M384.2 147.8h0.95M376.5 153.1h0.95M369.4 157.9h0.95M375.8 155.5h0.95M379.9 147.6h0.95M365.0 160.4h0.95M377.4 153.7h0.95M381.7 148.3h0.95M374.8 150.6h0.95M371.4 152.5h0.95M390.8 145.7h0.95M388.6 147.1h0.95M376.7 149.7h0.95M385.6 143.0h0.95M388.6 148.3h0.95M370.6 151.4h0.95M395.6 141.1h0.95M372.7 152.2h0.95M375.5 147.8h0.95M372.9 154.7h0.95M379.5 149.8h0.95M373.2 158.2h0.95M382.0 155.2h0.95M385.5 146.2h0.95M381.8 151.8h0.95M379.0 153.6h0.95M387.9 143.8h0.95M372.8 151.9h0.95M387.0 150.3h0.95M377.0 150.8h0.95M380.5 149.7h0.95M379.1 149.8h0.95M379.8 149.8h0.95M378.2 149.5h0.95M375.5 154.9h0.95M377.4 155.1h0.95M381.4 148.1h0.95M376.9 148.1h0.95M372.3 154.8h0.95M373.2 150.0h0.95M374.3 151.7h0.95M380.4 153.2h0.95M383.1 154.6h0.95M380.2 151.0h0.95M374.0 150.7h0.95M380.3 152.1h0.95M368.2 150.9h0.95M361.0 159.5h0.95M380.7 153.9h0.95M370.2 158.0h0.95M371.8 151.1h0.95M369.9 151.5h0.95M384.0 150.0h0.95M371.8 154.8h0.95M380.1 148.3h0.95M376.7 153.2h0.95M371.0 153.8h0.95M367.3 152.3h0.95M382.9 150.6h0.95M380.6 147.9h0.95M382.5 145.7h0.95M388.4 141.3h0.95M381.0 150.1h0.95M379.8 147.9h0.95M379.1 152.3h0.95M379.4 149.7h0.95M378.3 154.1h0.95M373.2 153.0h0.95M390.2 142.1h0.95M365.5 153.3h0.95M379.2 147.5h0.95M382.6 150.5h0.95M383.7 156.3h0.95M371.7 151.5h0.95M376.6 149.2h0.95M376.7 153.0h0.95M373.1 155.5h0.95M377.9 149.4h0.95M376.6 152.3h0.95M373.7 149.4h0.95M382.7 147.6h0.95M373.7 156.3h0.95M383.6 152.4h0.95M375.1 152.5h0.95M376.1 154.1h0.95M383.8 154.8h0.95M387.2 144.8h0.95M381.3 146.7h0.95M371.9 156.9h0.95M381.5 151.2h0.95M387.0 148.4h0.95M372.2 156.6h0.95M366.4 158.8h0.95M381.3 146.1h0.95M380.5 148.0h0.95M388.4 152.2h0.95M381.5 158.9h0.95M375.2 162.7h0.95M372.6 149.7h0.95M371.0 162.6h0.95M371.1 160.4h0.95M373.1 154.7h0.95M374.9 157.4h0.95M390.5 153.8h0.95M370.6 167.2h0.95M375.8 147.2h0.95M374.2 158.3h0.95M392.1 147.1h0.95M380.5 150.9h0.95M377.3 160.7h0.95M387.7 154.8h0.95M377.0 147.1h0.95M373.4 153.0h0.95M393.3 149.0h0.95M382.2 142.7h0.95M396.4 151.9h0.95M389.1 148.6h0.95M386.1 151.3h0.95M380.4 154.4h0.95M372.0 166.8h0.95M385.2 150.8h0.95M378.4 150.7h0.95M388.3 160.4h0.95M377.4 150.2h0.95M371.0 152.4h0.95M366.3 148.7h0.95M387.2 156.6h0.95M391.1 150.1h0.95M376.8 156.6h0.95M383.1 152.4h0.95M391.2 147.5h0.95M369.1 151.4h0.95M373.8 149.8h0.95M369.0 159.2h0.95M389.8 149.7h0.95M384.3 161.2h0.95M372.7 150.3h0.95M362.1 155.9h0.95M374.8 147.9h0.95M390.7 157.3h0.95M373.3 147.1h0.95M376.2 158.7h0.95M387.5 158.8h0.95M366.8 156.4h0.95M368.1 123.1h0.95M359.3 121.2h0.95M372.0 131.0h0.95M370.9 123.9h0.95M365.5 132.1h0.95M377.3 136.5h0.95M373.3 128.9h0.95M367.3 122.0h0.95M360.6 135.0h0.95M369.5 125.8h0.95M385.5 121.4h0.95M365.9 127.1h0.95M373.7 131.8h0.95M367.0 129.9h0.95M376.4 132.9h0.95M373.9 121.3h0.95M369.2 125.7h0.95M358.5 125.8h0.95M367.3 127.7h0.95M369.1 126.0h0.95M375.2 117.2h0.95M367.5 138.8h0.95M357.9 140.1h0.95M373.8 141.1h0.95M373.0 134.2h0.95M366.8 124.0h0.95M368.3 135.4h0.95M372.8 126.3h0.95M366.7 132.7h0.95M373.2 120.7h0.95M369.4 123.2h0.95M416.8 160.0h0.95M410.8 142.1h0.95M404.5 138.9h0.95M362.3 160.7h0.95M396.0 115.8h0.95" stroke="#bc0c10" stroke-width="0.95" fill="none"/>
<ellipse cx="374.8" cy="167.2" rx="6.6" ry="2.0" transform="rotate(-32 374.8 167.2)" fill="#9c0c14" opacity="0.45"/>
<ellipse cx="374.8" cy="167.2" rx="5.8" ry="1.4" transform="rotate(-32 374.8 167.2)" fill="#d0c0c0"/>
<ellipse cx="363.0" cy="171.8" rx="4.7" ry="0.6" transform="rotate(90 363.0 171.8)" fill="#d8d0d0"/>
<path filter="url(#sb)" d="M451.9 159.9h0.95M453.0 139.7h0.95M455.4 145.6h0.95M455.3 146.6h0.95M453.8 175.0h0.95M453.4 177.4h0.95M453.5 132.1h0.95M454.5 164.8h0.95M453.2 163.0h0.95M454.3 176.5h0.95M450.2 168.7h0.95M455.0 150.0h0.95M457.1 148.1h0.95M453.6 171.1h0.95M450.0 129.2h0.95M456.2 150.3h0.95M452.4 162.2h0.95M452.7 149.0h0.95M454.5 142.6h0.95M454.0 176.6h0.95M456.0 164.4h0.95M454.6 176.6h0.95M453.5 169.5h0.95M450.6 162.3h0.95M453.6 117.7h0.95M450.8 175.1h0.95M451.8 176.4h0.95M454.2 128.1h0.95M452.6 173.8h0.95M453.7 128.7h0.95M452.1 167.1h0.95M453.2 141.4h0.95M450.1 162.9h0.95M454.7 138.9h0.95M452.9 177.2h0.95M453.8 148.4h0.95M454.6 168.8h0.95M452.0 143.4h0.95M455.1 171.3h0.95M456.0 168.4h0.95M454.1 174.1h0.95M456.2 160.0h0.95M451.7 151.4h0.95M455.3 173.3h0.95M453.8 158.1h0.95M450.9 176.5h0.95M453.0 167.1h0.95M451.9 173.3h0.95M453.4 140.4h0.95M455.6 172.1h0.95M452.5 163.5h0.95M453.5 167.7h0.95M449.8 161.4h0.95M453.4 136.2h0.95M455.8 157.4h0.95M455.0 150.2h0.95M454.3 164.5h0.95M452.0 168.6h0.95M451.0 169.5h0.95M453.0 174.3h0.95M450.1 173.0h0.95M450.4 175.4h0.95M455.3 171.5h0.95M451.1 147.6h0.95M457.3 156.8h0.95M449.9 164.4h0.95M454.2 165.2h0.95M453.6 177.3h0.95M453.3 125.5h0.95M452.8 160.1h0.95M452.1 161.4h0.95M454.3 155.9h0.95M456.6 142.5h0.95M451.8 169.0h0.95M455.2 175.7h0.95M453.4 152.9h0.95M453.1 176.3h0.95M458.2 161.0h0.95M451.6 145.2h0.95M452.5 175.3h0.95M452.7 156.2h0.95M461.9 167.9h0.95M454.0 133.5h0.95M457.3 133.5h0.95M456.1 172.5h0.95M452.2 148.8h0.95M454.3 133.4h0.95M457.0 176.6h0.95M453.6 172.9h0.95M453.6 156.1h0.95M454.3 174.3h0.95M449.7 161.0h0.95M451.3 153.8h0.95M453.9 175.6h0.95M454.4 157.6h0.95M451.1 157.7h0.95M452.4 165.9h0.95M452.9 138.5h0.95M452.8 145.8h0.95M454.8 139.9h0.95M453.4 149.5h0.95M453.5 164.0h0.95M449.9 141.1h0.95M450.8 165.7h0.95M453.9 174.3h0.95M449.5 161.1h0.95M453.8 159.7h0.95M451.7 170.9h0.95M451.3 169.3h0.95M454.6 171.5h0.95M451.6 169.2h0.95M451.2 147.1h0.95M451.6 164.3h0.95M453.3 141.1h0.95M459.4 162.4h0.95M453.1 159.9h0.95M452.6 159.9h0.95M452.3 169.4h0.95M456.2 154.4h0.95M450.7 139.1h0.95M453.0 162.6h0.95M450.0 151.6h0.95M450.7 149.1h0.95M452.0 171.0h0.95M455.1 165.6h0.95M455.1 153.3h0.95M451.8 167.9h0.95M454.3 151.6h0.95M452.3 166.9h0.95M453.4 142.3h0.95M453.5 149.0h0.95M454.6 157.8h0.95M451.7 123.0h0.95M452.8 158.0h0.95M453.6 165.0h0.95M453.3 150.3h0.95M451.3 172.6h0.95M457.1 161.6h0.95M452.1 159.8h0.95M454.9 171.5h0.95M453.6 156.7h0.95M455.9 158.0h0.95M457.8 154.7h0.95M452.6 149.7h0.95M450.3 159.7h0.95M453.4 160.0h0.95M458.3 162.9h0.95M454.3 170.6h0.95M450.3 139.7h0.95M452.1 168.3h0.95M456.2 166.0h0.95M449.9 165.9h0.95M452.7 124.9h0.95M452.5 118.5h0.95M458.1 170.9h0.95M452.5 166.4h0.95M456.1 177.3h0.95M451.3 145.8h0.95M455.4 157.1h0.95M454.6 151.6h0.95M454.6 166.6h0.95M451.7 173.2h0.95M453.6 163.5h0.95M453.7 160.9h0.95M452.0 132.7h0.95M451.8 149.4h0.95M451.6 172.6h0.95M452.5 122.7h0.95M450.1 148.0h0.95M453.0 148.2h0.95M449.7 171.9h0.95M453.3 163.9h0.95M452.9 160.0h0.95M450.8 154.6h0.95M455.1 156.0h0.95M457.5 147.0h0.95M456.2 151.5h0.95M456.0 136.4h0.95M453.0 163.4h0.95M451.8 140.5h0.95M453.1 152.3h0.95M456.3 161.8h0.95M454.4 162.9h0.95M452.2 172.3h0.95M451.6 164.8h0.95M452.2 162.9h0.95M454.5 129.6h0.95M457.4 158.1h0.95M450.7 156.0h0.95M453.1 132.0h0.95M452.2 149.6h0.95M451.4 139.1h0.95M454.0 155.7h0.95M454.4 172.0h0.95M449.9 167.1h0.95M450.8 165.2h0.95M455.8 155.9h0.95M453.8 161.8h0.95M454.3 170.1h0.95M452.0 173.5h0.95M452.3 150.1h0.95M454.2 173.0h0.95M452.0 175.6h0.95M450.6 158.7h0.95M453.1 154.2h0.95M455.2 169.6h0.95M450.8 153.5h0.95M455.5 168.8h0.95M454.7 153.8h0.95M451.2 157.1h0.95M453.1 173.3h0.95M453.0 161.5h0.95M454.6 145.4h0.95M454.6 152.5h0.95M450.2 174.0h0.95M450.1 161.1h0.95M455.5 153.4h0.95M453.4 121.8h0.95M454.1 151.7h0.95M453.9 128.3h0.95M456.6 166.1h0.95M450.4 162.3h0.95M455.6 145.9h0.95M451.3 175.7h0.95M454.8 173.0h0.95M456.2 174.1h0.95M450.0 167.3h0.95M454.0 177.2h0.95M452.5 171.8h0.95M452.5 174.1h0.95M453.2 163.7h0.95M450.7 146.3h0.95M454.6 174.6h0.95M455.0 164.3h0.95M451.8 157.4h0.95M449.8 141.8h0.95M458.4 167.7h0.95M455.6 154.1h0.95M453.9 162.8h0.95M450.8 164.9h0.95M451.8 176.7h0.95M453.7 167.2h0.95M450.9 133.2h0.95M456.8 165.4h0.95M453.4 157.0h0.95M454.0 170.8h0.95M450.8 174.8h0.95M451.1 155.4h0.95M451.3 157.3h0.95M453.7 128.5h0.95M452.5 173.1h0.95M452.5 164.6h0.95M453.8 163.9h0.95M453.6 159.7h0.95M456.5 133.1h0.95M452.7 168.5h0.95M450.8 161.8h0.95M453.1 170.3h0.95M456.4 170.8h0.95M451.9 177.1h0.95M453.2 157.2h0.95M454.0 163.0h0.95M453.7 148.5h0.95M451.3 172.0h0.95M452.6 116.1h0.95M455.6 126.2h0.95M455.2 122.3h0.95M455.1 172.7h0.95M452.4 144.3h0.95M452.3 155.6h0.95M455.2 156.1h0.95M450.5 162.3h0.95M453.0 177.4h0.95M452.3 159.4h0.95M451.5 140.5h0.95M450.4 140.4h0.95M454.4 176.3h0.95M451.5 149.2h0.95M452.3 127.2h0.95M452.5 132.7h0.95M451.5 137.3h0.95M456.3 142.8h0.95M452.0 131.9h0.95M453.6 173.3h0.95M450.2 171.8h0.95M452.1 175.6h0.95M452.4 170.5h0.95M452.4 137.9h0.95M451.8 173.8h0.95M453.4 126.4h0.95M456.6 119.4h0.95M452.8 153.3h0.95M452.8 147.5h0.95M452.2 168.0h0.95M458.9 152.7h0.95M456.8 176.7h0.95M454.4 167.0h0.95M454.7 171.3h0.95M451.5 161.2h0.95M452.8 155.6h0.95M453.6 154.3h0.95M453.4 175.2h0.95M451.4 155.4h0.95M454.3 155.9h0.95M453.8 176.6h0.95M453.3 139.8h0.95M456.0 174.5h0.95M451.7 153.0h0.95M453.7 169.1h0.95M449.8 149.5h0.95M455.0 143.7h0.95M450.6 139.4h0.95M450.3 158.8h0.95M452.4 170.2h0.95M458.5 140.0h0.95M451.8 129.0h0.95M450.3 161.2h0.95M454.2 173.2h0.95M453.6 126.2h0.95M456.9 136.1h0.95M450.3 152.0h0.95M449.5 172.2h0.95M452.4 172.0h0.95M454.0 166.5h0.95M453.9 136.0h0.95M455.6 152.7h0.95M449.8 175.6h0.95M451.3 175.2h0.95M452.8 138.4h0.95M455.0 162.1h0.95M454.2 176.4h0.95M452.2 170.3h0.95M450.8 165.8h0.95M455.1 174.9h0.95M455.3 156.4h0.95M452.7 140.5h0.95M456.8 156.9h0.95M450.4 172.3h0.95M451.9 137.8h0.95M451.6 174.7h0.95M452.1 158.2h0.95M451.2 139.6h0.95M451.9 157.0h0.95M453.0 163.7h0.95M452.1 126.0h0.95M454.6 137.3h0.95M452.9 157.7h0.95M453.1 158.5h0.95M456.5 137.2h0.95M453.8 177.2h0.95M453.5 168.0h0.95M453.1 159.7h0.95M453.3 169.8h0.95M454.4 131.3h0.95M451.3 135.9h0.95M455.7 145.8h0.95M456.7 159.0h0.95M455.7 161.9h0.95M452.0 132.0h0.95M449.5 152.0h0.95M452.1 151.5h0.95M453.5 169.2h0.95M455.0 147.5h0.95M452.7 164.6h0.95M452.4 125.6h0.95M456.6 138.7h0.95M451.6 176.5h0.95M455.5 157.2h0.95M455.2 152.3h0.95M450.1 161.8h0.95M453.8 135.4h0.95M451.9 141.9h0.95M451.0 161.7h0.95M449.6 158.8h0.95M454.1 173.6h0.95M453.7 174.5h0.95M450.7 165.6h0.95M452.4 157.9h0.95M452.5 153.8h0.95M449.7 131.8h0.95M449.4 156.7h0.95M454.1 171.0h0.95M453.5 163.6h0.95M451.0 152.4h0.95M452.9 148.0h0.95M454.6 125.1h0.95M457.3 165.3h0.95M451.1 163.0h0.95M454.5 128.5h0.95M457.9 160.4h0.95M453.3 170.8h0.95M456.4 143.3h0.95M456.4 175.7h0.95M453.1 166.1h0.95M454.9 132.9h0.95M455.5 139.7h0.95M455.9 150.2h0.95M455.8 159.7h0.95M453.1 163.5h0.95M451.4 153.7h0.95M452.1 159.3h0.95M453.1 162.0h0.95M454.0 156.5h0.95M452.0 160.1h0.95M453.2 159.2h0.95M455.1 167.6h0.95M453.9 154.2h0.95M458.3 171.1h0.95M458.0 177.2h0.95M450.5 146.2h0.95M451.9 153.2h0.95M450.2 152.8h0.95M450.5 165.7h0.95M454.4 149.2h0.95M450.9 147.9h0.95M450.8 152.0h0.95M452.5 140.3h0.95M454.9 121.3h0.95M452.3 145.2h0.95M452.3 151.7h0.95M455.2 168.8h0.95M454.2 156.0h0.95M454.2 161.3h0.95M455.3 175.3h0.95M450.8 138.9h0.95M453.6 166.4h0.95M451.7 138.0h0.95M455.0 172.5h0.95M456.2 165.0h0.95M450.5 147.1h0.95M455.8 175.4h0.95M453.6 175.2h0.95M451.2 142.7h0.95M450.6 144.8h0.95M452.4 170.4h0.95M453.1 172.3h0.95M454.4 149.9h0.95M450.0 177.1h0.95M453.1 169.4h0.95M453.8 176.5h0.95M450.3 148.0h0.95M451.7 164.6h0.95M452.6 169.9h0.95M455.2 154.2h0.95M452.0 139.7h0.95M456.5 162.8h0.95M456.4 165.7h0.95M456.1 152.7h0.95M453.9 121.9h0.95M451.9 141.7h0.95M454.6 172.5h0.95M455.3 156.3h0.95M453.7 169.9h0.95M449.6 142.5h0.95M454.7 138.7h0.95M453.9 174.2h0.95M450.2 142.0h0.95M453.4 127.6h0.95M454.8 172.9h0.95M454.9 132.2h0.95M454.8 176.7h0.95M449.8 167.0h0.95M452.4 172.1h0.95M454.2 147.6h0.95M455.2 135.1h0.95M456.3 123.0h0.95M453.0 169.8h0.95M454.8 130.7h0.95M455.9 171.0h0.95M457.0 134.5h0.95M451.0 160.0h0.95M452.3 163.3h0.95M450.7 132.2h0.95M455.0 147.9h0.95M450.1 164.4h0.95M455.8 151.6h0.95M455.3 158.3h0.95M454.2 135.8h0.95M451.6 136.6h0.95M454.8 152.8h0.95M449.9 140.7h0.95M452.6 152.2h0.95M452.9 157.9h0.95M455.2 164.4h0.95M453.8 147.9h0.95M452.1 151.7h0.95M453.1 163.2h0.95M452.8 126.6h0.95M454.8 133.7h0.95M452.7 147.9h0.95M455.5 154.1h0.95M455.9 170.7h0.95M452.7 166.3h0.95M455.7 161.9h0.95M453.3 168.7h0.95M455.1 152.2h0.95M456.5 170.3h0.95M451.9 165.5h0.95M453.3 149.6h0.95M452.7 156.5h0.95M453.6 153.8h0.95M449.4 123.2h0.95M452.7 144.5h0.95M452.6 164.6h0.95M451.3 145.7h0.95M452.7 139.7h0.95M456.3 148.1h0.95M454.1 141.6h0.95M457.4 135.0h0.95M450.5 157.8h0.95M453.8 175.0h0.95M449.3 164.7h0.95M453.6 137.9h0.95M451.5 157.7h0.95M452.4 141.2h0.95M453.7 161.2h0.95M453.2 134.5h0.95M457.4 148.3h0.95M454.6 163.9h0.95M450.2 175.1h0.95M455.3 148.2h0.95M450.1 172.5h0.95M453.3 150.8h0.95M450.3 130.8h0.95M456.1 167.9h0.95M451.9 164.2h0.95M451.7 167.2h0.95M451.8 147.7h0.95M452.4 165.3h0.95M456.4 120.0h0.95M450.4 174.9h0.95M450.3 156.2h0.95M454.4 152.6h0.95M449.5 119.0h0.95M452.3 176.8h0.95M455.7 159.6h0.95M453.1 141.4h0.95M452.0 145.7h0.95M451.5 150.3h0.95M451.0 149.3h0.95M451.8 152.7h0.95M453.4 163.3h0.95M455.9 147.7h0.95M455.3 161.2h0.95M451.8 175.8h0.95M451.4 162.3h0.95M454.7 155.3h0.95M452.1 166.2h0.95M452.4 145.2h0.95M450.6 174.3h0.95M450.8 167.1h0.95M453.9 174.6h0.95M449.3 174.0h0.95M451.0 172.5h0.95M451.6 171.4h0.95M453.3 115.9h0.95M450.0 144.8h0.95M455.5 159.3h0.95M452.4 170.7h0.95M452.5 153.2h0.95M452.2 148.0h0.95M451.5 150.9h0.95M450.8 162.9h0.95M455.7 142.7h0.95M453.5 128.6h0.95M452.8 142.4h0.95M455.3 159.4h0.95M451.4 142.1h0.95M454.5 139.3h0.95M453.1 142.3h0.95M451.0 152.8h0.95M454.8 153.9h0.95M449.7 175.6h0.95M454.5 162.7h0.95M451.0 145.5h0.95M454.0 139.7h0.95M456.2 147.0h0.95M454.3 150.5h0.95M451.7 170.4h0.95M453.0 151.2h0.95M452.2 169.6h0.95M450.4 144.5h0.95M450.5 147.0h0.95M453.1 151.2h0.95M454.2 137.1h0.95M452.9 176.2h0.95M454.2 144.7h0.95M453.3 156.5h0.95M450.7 137.5h0.95M455.4 150.8h0.95M450.3 127.0h0.95M454.5 163.5h0.95M456.6 150.1h0.95M453.6 158.1h0.95M453.7 138.2h0.95M453.5 159.3h0.95M451.3 173.4h0.95M452.3 155.4h0.95M449.8 177.1h0.95M453.3 144.7h0.95M454.2 169.2h0.95M451.5 157.1h0.95M450.9 136.6h0.95M451.9 171.9h0.95M453.0 147.7h0.95M453.1 170.5h0.95M452.8 161.7h0.95M453.1 163.1h0.95M450.0 154.2h0.95M454.4 176.4h0.95M456.2 153.6h0.95M449.8 164.4h0.95M451.5 146.1h0.95M453.7 166.6h0.95M455.1 138.0h0.95M454.4 164.5h0.95M455.9 126.2h0.95M452.9 171.0h0.95M453.9 159.9h0.95M453.9 120.9h0.95M455.7 177.2h0.95M454.4 160.4h0.95M455.2 169.6h0.95M452.1 162.3h0.95M455.3 152.4h0.95M450.6 177.2h0.95M453.9 155.1h0.95M450.7 144.6h0.95M454.6 176.9h0.95M452.0 158.7h0.95M453.4 138.3h0.95M449.3 127.9h0.95M456.5 117.1h0.95M454.3 134.1h0.95M452.9 137.5h0.95M453.9 174.3h0.95M456.2 116.4h0.95M453.5 138.6h0.95M449.7 138.3h0.95M452.4 171.8h0.95M455.9 163.0h0.95M452.0 150.7h0.95M454.3 173.3h0.95M453.2 133.0h0.95M454.3 167.8h0.95M449.4 172.8h0.95M451.0 141.5h0.95M454.5 118.5h0.95M452.5 161.8h0.95M453.8 168.1h0.95M457.4 162.5h0.95M452.3 160.1h0.95M453.5 167.3h0.95M451.7 160.5h0.95M451.6 128.2h0.95M452.8 120.5h0.95M449.7 157.6h0.95M456.0 141.2h0.95M452.7 163.5h0.95M455.5 174.1h0.95M453.2 157.5h0.95M453.3 155.2h0.95M454.5 175.7h0.95M453.5 135.4h0.95M458.4 167.1h0.95M452.7 125.9h0.95M452.3 118.0h0.95M449.5 171.8h0.95M454.7 126.7h0.95M452.9 150.1h0.95M458.5 160.0h0.95M452.7 136.3h0.95M455.7 173.6h0.95M456.0 136.9h0.95M457.8 128.2h0.95M450.3 120.1h0.95M457.6 171.8h0.95M453.6 129.4h0.95M453.3 171.6h0.95M452.8 144.3h0.95M452.6 173.8h0.95M452.7 121.4h0.95M454.9 176.7h0.95M453.8 160.1h0.95M451.2 124.3h0.95M459.4 165.7h0.95M454.6 129.0h0.95M452.6 176.2h0.95M457.9 121.3h0.95M451.6 124.0h0.95M453.2 116.9h0.95M452.2 152.7h0.95M453.0 141.0h0.95M455.4 121.3h0.95M455.1 146.6h0.95M451.7 170.6h0.95M453.3 121.7h0.95M453.8 155.6h0.95M452.6 126.5h0.95M453.5 147.7h0.95M451.8 137.2h0.95M451.7 133.1h0.95M453.7 116.8h0.95M451.0 151.9h0.95M454.6 143.5h0.95M453.1 158.9h0.95M451.2 127.5h0.95M452.0 177.0h0.95M452.4 117.2h0.95M453.2 128.1h0.95M453.9 155.8h0.95M453.1 124.3h0.95M451.4 132.2h0.95M457.2 147.1h0.95M455.9 162.9h0.95M453.9 169.6h0.95M456.0 135.6h0.95M454.4 156.8h0.95M452.9 117.4h0.95M453.8 171.2h0.95M460.3 157.6h0.95M456.1 171.9h0.95M456.2 129.0h0.95M452.6 146.8h0.95M455.1 162.1h0.95M459.3 117.6h0.95M454.7 168.1h0.95M456.3 159.9h0.95M456.8 164.9h0.95M455.2 126.1h0.95M457.6 164.2h0.95M454.2 151.2h0.95M454.8 125.3h0.95M452.0 124.2h0.95M460.2 169.2h0.95M454.3 140.7h0.95M453.9 132.9h0.95M457.1 138.8h0.95M452.3 158.4h0.95M453.6 124.5h0.95M451.6 126.0h0.95M453.6 156.3h0.95M452.6 171.4h0.95M454.9 157.7h0.95M453.3 174.6h0.95M452.1 133.6h0.95M452.8 138.0h0.95M453.3 139.1h0.95M452.3 138.2h0.95M455.9 132.7h0.95M455.3 165.1h0.95M453.9 133.6h0.95M450.6 141.8h0.95M454.9 145.3h0.95M454.0 136.4h0.95M453.7 158.8h0.95M452.1 136.3h0.95M451.5 165.6h0.95M451.8 140.0h0.95M458.7 117.3h0.95M452.9 148.4h0.95M453.1 136.9h0.95M456.0 132.4h0.95M454.6 134.1h0.95M456.2 116.1h0.95M450.5 161.3h0.95M450.8 150.0h0.95M461.9 155.5h0.95M453.5 151.3h0.95M452.8 139.6h0.95M454.0 144.4h0.95M456.1 145.5h0.95M450.6 172.9h0.95M454.3 137.6h0.95M453.5 125.5h0.95M455.3 121.2h0.95M454.0 136.9h0.95M452.2 151.5h0.95M451.4 152.1h0.95M456.0 156.9h0.95M449.9 121.2h0.95M452.6 140.2h0.95M457.7 139.0h0.95M452.5 123.0h0.95M455.1 152.5h0.95M453.0 164.0h0.95M455.3 118.7h0.95M453.6 148.9h0.95M452.3 123.4h0.95M457.0 164.1h0.95M452.9 150.6h0.95M450.2 120.1h0.95M452.7 148.0h0.95M454.9 130.9h0.95M450.8 128.9h0.95M455.5 157.4h0.95M455.5 141.1h0.95M458.9 173.5h0.95M452.0 172.8h0.95M455.2 168.9h0.95M449.4 141.4h0.95M452.5 172.1h0.95M453.8 120.5h0.95M454.6 164.1h0.95M453.4 138.3h0.95M453.3 169.7h0.95M452.0 117.8h0.95M452.5 151.7h0.95M454.3 120.3h0.95M455.0 134.3h0.95M455.2 151.0h0.95M456.1 124.6h0.95M456.5 159.0h0.95M449.1 147.8h0.95M452.3 129.9h0.95M453.2 149.4h0.95M452.0 143.6h0.95M456.2 118.1h0.95M455.4 160.0h0.95M453.3 160.3h0.95M453.9 172.4h0.95M456.7 174.4h0.95M452.7 139.0h0.95M452.8 155.9h0.95M455.8 153.7h0.95M454.7 119.2h0.95M457.1 160.9h0.95M454.5 132.9h0.95M455.4 142.3h0.95M452.2 154.5h0.95M451.2 147.3h0.95M453.5 133.4h0.95M454.6 121.8h0.95M456.0 153.4h0.95M453.8 127.5h0.95M453.0 173.3h0.95M456.3 174.1h0.95M453.5 160.2h0.95M456.0 170.8h0.95M459.0 163.5h0.95M455.4 156.6h0.95M455.9 162.3h0.95M454.8 172.5h0.95M454.2 129.4h0.95M454.3 161.2h0.95M453.7 127.1h0.95M456.3 144.6h0.95M449.6 137.1h0.95M452.9 155.3h0.95M455.2 155.6h0.95M451.5 171.9h0.95M453.3 168.1h0.95M451.8 120.0h0.95M454.7 126.7h0.95M455.7 118.8h0.95M457.2 160.0h0.95M454.8 137.5h0.95M451.8 176.5h0.95M454.2 129.3h0.95M455.0 175.3h0.95M457.1 162.9h0.95M454.5 153.7h0.95M449.0 170.9h0.95M455.3 130.5h0.95M454.7 169.9h0.95M454.8 170.6h0.95M455.8 153.6h0.95M454.5 157.0h0.95M452.0 130.2h0.95M454.4 146.5h0.95M456.6 152.4h0.95M453.3 135.6h0.95M453.6 118.6h0.95M450.6 174.9h0.95M456.5 166.0h0.95M452.3 138.6h0.95M451.7 149.0h0.95M452.5 152.6h0.95M451.4 175.4h0.95M452.9 150.6h0.95M456.7 160.9h0.95M455.5 165.8h0.95M457.1 122.2h0.95M457.3 152.1h0.95M451.3 173.7h0.95M454.8 167.1h0.95M457.3 173.2h0.95M459.3 126.1h0.95M450.1 164.2h0.95M450.0 133.3h0.95M454.7 170.3h0.95M452.7 164.6h0.95M451.1 139.3h0.95M454.5 151.9h0.95M451.6 145.1h0.95M453.5 150.3h0.95M453.9 120.8h0.95M455.1 149.2h0.95M455.9 117.2h0.95M454.0 124.4h0.95M453.0 146.4h0.95M451.9 144.6h0.95M449.5 120.3h0.95M452.5 137.1h0.95M456.0 133.8h0.95M455.2 133.8h0.95M458.7 143.5h0.95M453.2 118.1h0.95M449.1 118.0h0.95M455.6 130.6h0.95M456.1 160.4h0.95M450.7 174.1h0.95M449.6 162.8h0.95M453.9 120.8h0.95M455.3 167.1h0.95M450.8 166.8h0.95M452.7 168.3h0.95M451.6 161.1h0.95M450.6 132.2h0.95M450.3 146.7h0.95M453.9 143.3h0.95M452.6 118.2h0.95M451.9 149.5h0.95M457.9 175.1h0.95M451.2 157.3h0.95M453.2 166.2h0.95M450.7 118.0h0.95M454.5 160.1h0.95M449.8 165.8h0.95M453.8 144.6h0.95M453.1 131.6h0.95M455.8 146.2h0.95M450.8 150.1h0.95M451.9 142.9h0.95M453.0 135.7h0.95M458.7 157.5h0.95M449.9 171.3h0.95M454.3 132.6h0.95M451.9 170.7h0.95M454.3 119.4h0.95M455.2 158.7h0.95M453.9 137.4h0.95M454.2 148.5h0.95M454.2 138.0h0.95M452.1 121.0h0.95M453.0 126.3h0.95M449.4 177.2h0.95M452.6 141.8h0.95M451.6 174.9h0.95M452.9 148.2h0.95M455.4 171.7h0.95M454.5 143.6h0.95M454.7 177.5h0.95M456.3 145.6h0.95M454.6 126.9h0.95M453.5 120.5h0.95M453.3 122.8h0.95M450.3 158.3h0.95M454.9 138.5h0.95M456.4 170.2h0.95M456.1 128.3h0.95M453.3 173.9h0.95M455.1 127.8h0.95M455.8 132.7h0.95M458.0 137.1h0.95M456.6 132.3h0.95M453.9 141.7h0.95M453.8 165.8h0.95M453.9 120.4h0.95M454.1 131.1h0.95M452.3 119.3h0.95M455.4 164.1h0.95M451.8 123.4h0.95M451.5 147.6h0.95M454.4 169.8h0.95M452.1 135.6h0.95M452.9 123.2h0.95M455.5 174.3h0.95M453.5 121.9h0.95M453.2 169.6h0.95M454.7 123.5h0.95M454.0 126.1h0.95M451.8 163.9h0.95M458.5 155.7h0.95M452.4 135.9h0.95M455.9 159.5h0.95M458.0 125.2h0.95M452.0 170.6h0.95M453.7 151.7h0.95M451.5 174.7h0.95M456.1 153.0h0.95M452.7 151.5h0.95M450.8 169.2h0.95M456.8 152.1h0.95M455.8 121.4h0.95M451.3 153.9h0.95M456.4 134.2h0.95M454.0 155.5h0.95M457.8 153.8h0.95M452.1 167.7h0.95M452.8 138.0h0.95M451.3 116.7h0.95M453.8 118.9h0.95M453.6 117.1h0.95M455.3 129.5h0.95M453.7 132.8h0.95M449.9 135.9h0.95M451.5 156.6h0.95M457.0 162.4h0.95M456.4 163.7h0.95M453.1 162.6h0.95M453.2 169.0h0.95M453.1 160.7h0.95M453.6 144.5h0.95M449.3 141.6h0.95M455.7 121.1h0.95M451.9 116.8h0.95M453.9 169.1h0.95M454.1 169.6h0.95M456.8 140.8h0.95M457.3 167.4h0.95M454.7 160.3h0.95M449.6 149.6h0.95M456.4 173.7h0.95M454.1 147.4h0.95M455.0 132.2h0.95M452.8 140.9h0.95M451.5 156.9h0.95M455.7 171.2h0.95M451.1 166.6h0.95M455.7 173.7h0.95M449.4 149.3h0.95M451.2 144.6h0.95M449.9 148.6h0.95M456.8 173.9h0.95M449.2 138.7h0.95M450.7 119.7h0.95M455.1 140.3h0.95M454.1 156.3h0.95M458.9 167.6h0.95M458.1 174.5h0.95M455.0 158.6h0.95M455.2 166.4h0.95M451.3 166.1h0.95M452.7 153.2h0.95M453.1 174.6h0.95M450.1 171.3h0.95M451.2 116.5h0.95M452.1 125.5h0.95M449.9 119.2h0.95M455.2 116.5h0.95M453.6 120.5h0.95M457.1 120.5h0.95M455.3 116.6h0.95M451.4 125.9h0.95M461.0 125.0h0.95M458.3 117.5h0.95M456.1 122.1h0.95M459.1 125.1h0.95M460.5 121.3h0.95M450.5 122.7h0.95M454.0 116.0h0.95M462.5 121.7h0.95M450.7 117.5h0.95M452.0 123.2h0.95M459.6 116.7h0.95M455.1 118.1h0.95M456.8 126.1h0.95M459.1 117.8h0.95M457.5 120.8h0.95M458.9 121.7h0.95M451.8 117.5h0.95M452.3 124.7h0.95M452.5 121.5h0.95M455.1 122.4h0.95M452.4 120.1h0.95M453.8 123.4h0.95M456.7 126.1h0.95M455.2 120.0h0.95M460.1 119.9h0.95M461.1 122.4h0.95M454.7 126.2h0.95M462.4 118.0h0.95M450.0 123.1h0.95M471.4 119.7h0.95M461.9 123.7h0.95M452.8 118.1h0.95M453.1 117.1h0.95M453.6 123.2h0.95M452.0 120.8h0.95M450.4 119.9h0.95M449.8 120.4h0.95M454.0 119.6h0.95M462.7 150.9h0.95M455.9 159.0h0.95M460.6 154.4h0.95M461.0 159.2h0.95M461.0 148.1h0.95M462.5 144.6h0.95M458.0 150.6h0.95M460.2 159.2h0.95M464.5 155.7h0.95M456.8 152.3h0.95M462.1 153.5h0.95M463.6 150.3h0.95M460.0 149.5h0.95M455.5 163.2h0.95M459.4 147.6h0.95M457.5 154.8h0.95M459.6 155.8h0.95M463.5 148.8h0.95M459.9 154.7h0.95M460.2 159.5h0.95M458.7 158.8h0.95M457.3 152.4h0.95M464.7 151.5h0.95M464.9 149.0h0.95M458.1 153.6h0.95M463.6 156.9h0.95M463.3 147.9h0.95M459.7 155.4h0.95M466.6 149.8h0.95M454.4 150.6h0.95M456.5 151.3h0.95M461.4 155.1h0.95M459.8 152.3h0.95M457.1 154.5h0.95M462.7 157.5h0.95M461.0 154.5h0.95M456.1 154.9h0.95M458.9 151.9h0.95M462.2 154.0h0.95M463.9 156.1h0.95M455.0 152.6h0.95M460.3 154.7h0.95M461.5 146.7h0.95M455.9 152.1h0.95M458.8 155.7h0.95M455.8 153.3h0.95M459.7 150.7h0.95M463.6 155.8h0.95M461.1 154.6h0.95M461.5 155.3h0.95M461.7 153.5h0.95M461.4 152.5h0.95M463.0 152.8h0.95M455.0 158.7h0.95M457.7 157.3h0.95M458.5 164.2h0.95M459.4 150.0h0.95M460.5 149.1h0.95M464.7 149.8h0.95M463.9 154.4h0.95M460.2 148.8h0.95M458.1 153.1h0.95M461.3 154.6h0.95M458.6 159.6h0.95M457.4 156.0h0.95M460.7 156.4h0.95M462.6 150.7h0.95M462.5 147.5h0.95M466.4 157.9h0.95M463.8 153.4h0.95M462.4 153.3h0.95M461.4 157.4h0.95M464.8 162.7h0.95M461.7 157.4h0.95M456.4 158.4h0.95M460.4 155.1h0.95M460.0 154.2h0.95M458.5 153.8h0.95M460.5 154.5h0.95M461.3 152.0h0.95M458.7 157.1h0.95M460.1 149.9h0.95M459.8 160.6h0.95M456.3 152.0h0.95M462.6 152.9h0.95M459.0 156.6h0.95M458.5 159.9h0.95M455.3 149.2h0.95M463.2 157.6h0.95M457.0 149.2h0.95M459.1 150.0h0.95M461.6 154.2h0.95M458.6 153.1h0.95M460.4 149.6h0.95M455.2 150.3h0.95M457.7 156.8h0.95M460.8 153.2h0.95M462.4 152.2h0.95M459.7 152.6h0.95M460.8 153.1h0.95M460.9 154.6h0.95M458.3 153.5h0.95M457.0 156.5h0.95M462.8 160.7h0.95M459.6 148.7h0.95M462.1 157.1h0.95M460.5 152.9h0.95M461.5 160.5h0.95M458.8 152.5h0.95M460.2 157.2h0.95M464.9 142.8h0.95M458.1 157.3h0.95M459.5 157.5h0.95M459.5 149.4h0.95M461.4 149.3h0.95M456.2 161.2h0.95M462.2 153.4h0.95M461.1 150.3h0.95M455.1 157.0h0.95M460.1 150.8h0.95M459.1 155.5h0.95M456.6 156.6h0.95M462.8 156.1h0.95M460.4 155.7h0.95M460.2 159.6h0.95M461.3 144.6h0.95M458.5 155.0h0.95M461.5 157.3h0.95M457.8 149.2h0.95M460.9 154.2h0.95M462.1 148.7h0.95M458.5 154.2h0.95M460.8 152.4h0.95M457.6 152.4h0.95M460.8 153.2h0.95M456.9 153.4h0.95M456.9 152.9h0.95M465.7 148.6h0.95M457.5 155.6h0.95M454.3 153.8h0.95M461.9 155.8h0.95M459.0 150.8h0.95M452.2 149.1h0.95M461.2 150.1h0.95M460.5 159.5h0.95M461.3 153.0h0.95M464.0 155.8h0.95M459.4 154.6h0.95M461.7 153.6h0.95M455.0 160.1h0.95M460.8 152.8h0.95M463.9 154.4h0.95M459.3 159.4h0.95M460.3 154.1h0.95M457.4 146.1h0.95M458.6 154.8h0.95M457.8 150.3h0.95M461.6 155.2h0.95M457.2 156.0h0.95M459.7 157.4h0.95M457.1 154.3h0.95M466.4 150.5h0.95M458.4 149.6h0.95M459.4 156.4h0.95M467.7 152.2h0.95M460.4 154.3h0.95M457.0 155.5h0.95M462.1 152.6h0.95M461.2 157.9h0.95M460.0 160.3h0.95M457.1 147.1h0.95M458.1 160.6h0.95M455.7 149.8h0.95M462.6 161.0h0.95M460.2 153.8h0.95M458.7 154.0h0.95M461.1 155.9h0.95M458.3 162.2h0.95M457.1 153.0h0.95M463.9 155.2h0.95M458.3 156.8h0.95M455.8 152.4h0.95M464.8 151.2h0.95M462.8 157.7h0.95M463.5 153.8h0.95M459.8 158.4h0.95M458.4 151.4h0.95M463.2 152.1h0.95M467.9 146.1h0.95M463.3 151.0h0.95M464.5 153.4h0.95M460.1 147.7h0.95M461.2 158.2h0.95M463.8 150.5h0.95M455.8 154.4h0.95M455.3 154.5h0.95M459.8 148.9h0.95M460.6 152.8h0.95M463.0 149.1h0.95M457.6 158.8h0.95M460.3 152.6h0.95M459.1 155.5h0.95M459.9 154.7h0.95M458.9 161.2h0.95M462.6 150.6h0.95M460.2 152.8h0.95M459.4 157.5h0.95M457.2 158.2h0.95M460.9 157.5h0.95M460.8 148.0h0.95M463.9 155.4h0.95M459.6 154.8h0.95M461.4 152.0h0.95M458.3 152.9h0.95M459.6 152.5h0.95M461.5 151.0h0.95M460.6 152.4h0.95M459.8 149.8h0.95M455.7 157.0h0.95M460.3 153.4h0.95M460.0 155.1h0.95M461.6 153.7h0.95M463.1 154.8h0.95M458.5 155.7h0.95M454.8 153.1h0.95M461.0 150.0h0.95M454.9 154.0h0.95M455.3 157.0h0.95M463.4 152.3h0.95M462.8 150.5h0.95M458.2 154.0h0.95M458.7 152.5h0.95M458.8 156.6h0.95M455.6 152.8h0.95M462.8 149.9h0.95M460.4 150.3h0.95M464.8 154.7h0.95M457.2 153.6h0.95M460.4 160.5h0.95M458.9 151.8h0.95M463.2 152.8h0.95M459.2 148.8h0.95M464.6 146.8h0.95M459.6 151.8h0.95M459.4 149.3h0.95M458.3 157.5h0.95M462.9 149.5h0.95M462.3 150.7h0.95M465.8 149.9h0.95M463.0 151.8h0.95M454.3 149.6h0.95M461.1 147.8h0.95M454.4 154.2h0.95M460.1 150.8h0.95M463.1 150.1h0.95M455.8 155.2h0.95M455.7 156.7h0.95M461.1 152.1h0.95M459.6 152.8h0.95M464.8 152.7h0.95M463.7 164.3h0.95M465.2 164.0h0.95M473.8 161.3h0.95M460.9 170.2h0.95M465.8 171.1h0.95M456.9 170.6h0.95M461.6 162.2h0.95M469.6 164.1h0.95M472.4 163.9h0.95M462.4 166.8h0.95M461.1 173.0h0.95M461.1 173.7h0.95M454.0 171.4h0.95M462.8 165.5h0.95M468.7 158.9h0.95M451.6 177.3h0.95M471.6 162.4h0.95M452.0 171.1h0.95M463.6 164.1h0.95M453.7 169.3h0.95M464.9 160.5h0.95M465.3 161.1h0.95M461.5 163.1h0.95M467.3 163.2h0.95M463.8 167.6h0.95M467.0 165.9h0.95M473.1 159.4h0.95M468.1 161.1h0.95M459.1 169.6h0.95M459.2 171.4h0.95M461.1 167.3h0.95M461.6 168.0h0.95M462.8 166.0h0.95M458.7 168.4h0.95M466.6 164.3h0.95M461.5 164.5h0.95M466.5 167.6h0.95M460.6 163.8h0.95M467.0 165.3h0.95M454.1 169.1h0.95M474.0 163.5h0.95M466.1 167.2h0.95M464.3 163.4h0.95M465.7 163.5h0.95M467.4 160.2h0.95M467.0 163.8h0.95M464.8 166.8h0.95M465.6 172.8h0.95M451.6 170.9h0.95M465.9 168.5h0.95M460.3 167.0h0.95M461.5 168.7h0.95M477.8 158.8h0.95M453.2 175.6h0.95M463.8 167.5h0.95M469.5 161.5h0.95M468.3 162.9h0.95M470.2 162.1h0.95M457.5 174.5h0.95M455.4 167.9h0.95M465.7 163.4h0.95M459.4 165.6h0.95M471.2 157.9h0.95M463.1 164.3h0.95M465.6 168.3h0.95M468.6 169.3h0.95M463.4 170.7h0.95M461.9 164.0h0.95M459.2 169.8h0.95M461.1 164.8h0.95M460.9 169.7h0.95M466.3 168.4h0.95M455.8 173.9h0.95M455.8 174.7h0.95M465.4 164.7h0.95M461.4 162.0h0.95M454.6 166.9h0.95M461.5 167.6h0.95M457.9 172.3h0.95M476.4 161.0h0.95M453.6 172.6h0.95M472.8 160.0h0.95M458.7 170.7h0.95M466.9 167.2h0.95M461.4 167.8h0.95M459.2 166.2h0.95M469.9 165.2h0.95M468.2 164.3h0.95M461.9 168.8h0.95M456.0 168.0h0.95M474.7 158.3h0.95M468.5 157.6h0.95M460.9 162.3h0.95M461.0 167.6h0.95M464.0 164.8h0.95M464.3 167.6h0.95M471.9 164.8h0.95M457.5 170.7h0.95M465.7 170.3h0.95M457.7 168.9h0.95M471.5 163.0h0.95M471.4 156.9h0.95M462.7 167.5h0.95M465.6 164.0h0.95M470.7 160.6h0.95M462.2 169.2h0.95M455.0 166.9h0.95M469.1 162.8h0.95M464.7 163.1h0.95M462.0 167.9h0.95M471.9 161.6h0.95M463.8 165.1h0.95M452.4 173.4h0.95M463.3 163.1h0.95M463.5 168.2h0.95M472.7 157.7h0.95M463.6 167.8h0.95M459.8 164.8h0.95M467.5 167.8h0.95M462.9 163.8h0.95M456.7 174.9h0.95M463.0 165.4h0.95M462.0 169.3h0.95M470.8 160.8h0.95M477.6 158.3h0.95M456.7 171.4h0.95M459.4 173.3h0.95M459.2 171.6h0.95M460.3 170.9h0.95M461.5 173.0h0.95M462.3 165.2h0.95M471.1 164.9h0.95M455.8 172.3h0.95M452.2 170.2h0.95M453.3 175.4h0.95M469.0 161.9h0.95M473.0 164.7h0.95M453.6 172.2h0.95M453.9 173.6h0.95M464.1 166.7h0.95M466.5 158.5h0.95M469.5 163.7h0.95M462.7 164.0h0.95M468.9 166.8h0.95M467.3 168.8h0.95M459.9 169.1h0.95M471.5 155.8h0.95M463.3 167.2h0.95M457.0 171.7h0.95M461.4 170.2h0.95M453.9 172.6h0.95M461.4 164.4h0.95M469.0 162.0h0.95M454.5 170.2h0.95M472.0 165.7h0.95M473.9 156.8h0.95M464.2 164.0h0.95M456.4 171.5h0.95M456.4 167.9h0.95M460.5 167.3h0.95M455.6 171.8h0.95M455.2 171.0h0.95M461.2 167.4h0.95M463.8 170.0h0.95M467.1 165.2h0.95M454.3 169.1h0.95M473.0 158.2h0.95M470.1 163.9h0.95M467.1 161.8h0.95M459.5 169.7h0.95M472.9 159.6h0.95M461.9 169.3h0.95M473.1 159.0h0.95M468.9 162.1h0.95M456.7 168.8h0.95M461.0 169.4h0.95M472.3 157.3h0.95M471.2 166.1h0.95M462.1 167.4h0.95M463.9 165.5h0.95M465.3 167.6h0.95M458.5 169.8h0.95M462.0 167.8h0.95M459.2 169.4h0.95M459.6 167.1h0.95M464.4 163.1h0.95M456.6 169.4h0.95M468.8 166.1h0.95M462.8 165.1h0.95M466.8 162.9h0.95M467.4 162.3h0.95M471.1 163.1h0.95M469.5 168.2h0.95M465.7 162.1h0.95M462.8 168.6h0.95M466.4 164.7h0.95M457.5 169.9h0.95M462.4 168.8h0.95M465.5 161.2h0.95M463.9 168.7h0.95M465.9 165.4h0.95M455.6 169.2h0.95M473.1 164.3h0.95M461.0 170.9h0.95M467.0 167.5h0.95M460.8 164.0h0.95M467.9 162.4h0.95M460.1 167.3h0.95M458.3 172.2h0.95M454.2 177.3h0.95M458.5 164.3h0.95M456.3 171.8h0.95M465.9 164.4h0.95M472.7 162.9h0.95M450.3 175.9h0.95M453.9 169.6h0.95M464.5 165.1h0.95M468.5 159.7h0.95M463.6 164.0h0.95M464.9 165.6h0.95M465.2 163.8h0.95M466.7 165.0h0.95M470.2 157.0h0.95M469.9 168.9h0.95M457.8 174.4h0.95M461.4 170.2h0.95M462.4 163.4h0.95M455.3 165.9h0.95M460.3 166.2h0.95M459.7 168.5h0.95M462.3 174.1h0.95M468.9 166.5h0.95M460.1 167.4h0.95M458.6 173.7h0.95M460.7 172.2h0.95M463.3 166.7h0.95M476.8 160.5h0.95M465.0 166.4h0.95M470.5 159.4h0.95M464.2 162.4h0.95M450.6 175.5h0.95M466.6 167.2h0.95M456.2 167.6h0.95M453.0 169.2h0.95M457.7 172.4h0.95M469.3 154.0h0.95M456.7 177.0h0.95M458.9 168.5h0.95M470.7 163.5h0.95M469.5 167.8h0.95M451.2 171.0h0.95M460.9 165.2h0.95M463.3 173.4h0.95M461.5 167.1h0.95M467.1 163.4h0.95M460.1 169.7h0.95M462.7 170.2h0.95M473.3 163.4h0.95M452.7 174.7h0.95M460.4 167.7h0.95M465.6 164.8h0.95M456.4 172.6h0.95M461.3 172.0h0.95M455.7 172.5h0.95M466.5 169.8h0.95M458.2 167.7h0.95M468.3 164.6h0.95M471.4 166.1h0.95M465.1 169.2h0.95M461.3 169.1h0.95M463.2 164.0h0.95M462.3 165.2h0.95M455.8 171.6h0.95M469.6 163.0h0.95M463.9 165.4h0.95M465.4 160.7h0.95M454.2 171.0h0.95M468.8 164.2h0.95M476.2 159.8h0.95M464.5 161.5h0.95M454.2 172.1h0.95M460.8 163.4h0.95M461.9 166.0h0.95M469.4 173.0h0.95M461.8 167.9h0.95M465.3 164.1h0.95M459.5 167.6h0.95M462.6 163.5h0.95M456.4 166.0h0.95M463.5 166.3h0.95M468.3 162.2h0.95M462.3 171.8h0.95M464.5 160.8h0.95M458.6 171.4h0.95M462.8 171.0h0.95M458.8 163.9h0.95M471.1 163.0h0.95M456.3 166.8h0.95M470.7 162.8h0.95M456.8 175.9h0.95M462.1 167.5h0.95M468.6 163.6h0.95M466.0 162.6h0.95M457.6 171.6h0.95M457.6 174.2h0.95M467.7 162.8h0.95M455.6 171.8h0.95M466.9 165.2h0.95M461.2 170.6h0.95M460.6 163.6h0.95M476.3 157.3h0.95M470.9 159.0h0.95M468.5 164.3h0.95M456.6 174.6h0.95M465.3 166.1h0.95M465.1 169.2h0.95M461.0 165.3h0.95M470.0 160.5h0.95M451.7 172.0h0.95M464.9 165.7h0.95M463.8 166.5h0.95M458.4 169.6h0.95M471.1 157.3h0.95M455.6 172.0h0.95M462.5 165.9h0.95M464.3 167.7h0.95M450.0 175.4h0.95M456.5 175.1h0.95M457.7 171.4h0.95M464.8 159.9h0.95M468.1 162.6h0.95M464.3 161.6h0.95M465.7 167.8h0.95M464.2 165.9h0.95M460.7 169.9h0.95M467.6 159.1h0.95M467.4 156.8h0.95M475.0 156.5h0.95M466.7 163.4h0.95M465.4 160.5h0.95M457.2 171.3h0.95M463.9 167.2h0.95M456.8 173.3h0.95M470.3 166.2h0.95M457.3 173.5h0.95M461.2 167.0h0.95M458.4 170.5h0.95M461.1 170.0h0.95M464.1 162.9h0.95M461.6 171.9h0.95M465.5 167.8h0.95M456.9 170.6h0.95M470.0 159.8h0.95M464.7 177.1h0.95M470.0 164.3h0.95M476.6 159.8h0.95M458.7 173.0h0.95M462.1 168.2h0.95M470.7 163.4h0.95M458.8 167.1h0.95M466.1 166.7h0.95M456.5 166.9h0.95M466.8 165.4h0.95M456.8 173.1h0.95M465.5 160.3h0.95M450.4 172.5h0.95M474.9 161.4h0.95M463.2 165.1h0.95M458.2 171.3h0.95M474.7 156.4h0.95M472.6 167.5h0.95M470.9 164.2h0.95M463.1 172.3h0.95M467.6 165.9h0.95M466.9 166.2h0.95M453.6 174.2h0.95M466.0 164.0h0.95M462.7 168.9h0.95M470.6 161.9h0.95M470.2 161.2h0.95M457.2 166.9h0.95M459.0 168.9h0.95M464.9 167.3h0.95M466.0 163.3h0.95M461.1 169.4h0.95M462.1 167.1h0.95M465.0 162.3h0.95M464.1 163.4h0.95M468.6 160.6h0.95M463.9 165.4h0.95M457.4 170.2h0.95M454.4 176.6h0.95M466.0 161.4h0.95M458.0 164.3h0.95M461.9 169.8h0.95M460.6 167.3h0.95M453.7 173.3h0.95M464.3 173.7h0.95M461.4 169.8h0.95M459.1 172.6h0.95M473.7 159.5h0.95M466.9 167.0h0.95M460.8 166.7h0.95M462.8 164.9h0.95M466.5 163.0h0.95M460.8 173.3h0.95M463.8 171.0h0.95M460.0 167.3h0.95M479.0 158.8h0.95M463.1 166.4h0.95M453.1 177.4h0.95M467.1 163.0h0.95M479.3 158.0h0.95M457.2 170.8h0.95M482.7 151.7h0.95M462.5 167.2h0.95M469.0 163.1h0.95M458.8 168.2h0.95M459.4 165.4h0.95M458.2 175.6h0.95M456.2 170.7h0.95M466.3 157.6h0.95M452.2 166.3h0.95M464.2 164.2h0.95M466.8 168.3h0.95M456.8 166.5h0.95M462.7 166.2h0.95M459.7 163.7h0.95M461.6 171.3h0.95M463.7 167.5h0.95M463.7 167.4h0.95M458.9 174.0h0.95M457.7 175.8h0.95M459.5 172.7h0.95M462.8 165.4h0.95M469.0 158.5h0.95M470.0 158.7h0.95M462.2 162.2h0.95M471.0 166.6h0.95M463.3 166.1h0.95M469.5 162.6h0.95M463.9 166.9h0.95M468.1 169.4h0.95M460.4 167.1h0.95M464.6 169.4h0.95M474.4 159.6h0.95M455.7 171.8h0.95M460.1 163.2h0.95M460.8 171.4h0.95M467.4 161.5h0.95M472.8 158.4h0.95M461.4 168.8h0.95M468.1 166.7h0.95M465.5 163.1h0.95M453.3 174.5h0.95M461.9 168.6h0.95M462.5 167.4h0.95M466.5 163.7h0.95M467.2 167.6h0.95M463.2 164.6h0.95M454.6 168.7h0.95M458.6 170.0h0.95M460.9 172.1h0.95M464.9 164.0h0.95M456.2 170.0h0.95M470.9 160.1h0.95M465.3 165.8h0.95M449.8 176.0h0.95M473.2 160.5h0.95M461.3 163.0h0.95M461.8 172.4h0.95M464.3 167.8h0.95M450.9 173.1h0.95M466.0 169.0h0.95M459.0 174.4h0.95M469.1 158.9h0.95M472.7 165.0h0.95M460.9 168.6h0.95M454.2 167.1h0.95M469.4 164.6h0.95M462.1 166.7h0.95M462.6 164.2h0.95M466.2 164.0h0.95M453.7 167.8h0.95M468.3 164.9h0.95M450.1 175.7h0.95M471.0 160.3h0.95M455.6 176.6h0.95M459.2 169.8h0.95M457.9 168.6h0.95M465.7 162.1h0.95M467.1 163.8h0.95M466.5 167.7h0.95M465.2 163.6h0.95M464.1 163.0h0.95M463.7 169.3h0.95M451.6 175.4h0.95M460.8 164.9h0.95M461.7 168.5h0.95M459.4 164.2h0.95M463.7 165.6h0.95M462.3 169.3h0.95M458.5 173.7h0.95M452.1 171.0h0.95M452.8 176.9h0.95M471.1 163.5h0.95M468.0 163.0h0.95M461.2 168.3h0.95M464.1 163.5h0.95M472.8 161.1h0.95M456.5 166.0h0.95M466.1 169.5h0.95M471.0 164.1h0.95M451.9 173.8h0.95M459.3 171.5h0.95M463.3 168.4h0.95M461.3 174.1h0.95M474.4 156.8h0.95M466.0 160.8h0.95M461.0 162.2h0.95M456.6 170.7h0.95M465.6 160.3h0.95M466.2 164.1h0.95M460.3 170.2h0.95M459.5 168.1h0.95M452.7 171.5h0.95M464.0 169.9h0.95M467.6 163.0h0.95M469.0 163.3h0.95M467.5 166.6h0.95M465.7 161.0h0.95M457.9 167.8h0.95M463.6 174.2h0.95M469.6 161.7h0.95M463.9 163.1h0.95M457.7 170.1h0.95M464.9 163.9h0.95M465.8 161.1h0.95M466.3 163.3h0.95M463.3 166.7h0.95M459.6 169.4h0.95M465.9 166.5h0.95M470.2 156.4h0.95M461.4 163.5h0.95M459.9 171.6h0.95M464.1 164.8h0.95M457.2 174.9h0.95M464.5 166.8h0.95M458.9 165.6h0.95M469.1 164.1h0.95M461.8 164.7h0.95M469.3 163.2h0.95M478.1 159.8h0.95M464.5 172.3h0.95M457.7 170.6h0.95M466.4 166.6h0.95M462.6 168.2h0.95M464.7 168.1h0.95M455.4 164.7h0.95M465.4 164.0h0.95M463.5 167.5h0.95M450.6 177.4h0.95M460.2 166.7h0.95M465.9 167.4h0.95M471.2 164.3h0.95M459.4 169.8h0.95M457.6 170.2h0.95M468.9 161.5h0.95M459.3 170.1h0.95M465.0 169.1h0.95M467.6 168.2h0.95M466.4 163.1h0.95M461.4 165.3h0.95M455.0 170.4h0.95M470.1 164.8h0.95M460.4 169.5h0.95M460.0 170.0h0.95M475.2 159.6h0.95M468.4 164.2h0.95M456.3 171.5h0.95M458.3 167.2h0.95M460.3 167.0h0.95M458.4 170.6h0.95M452.0 176.2h0.95M466.9 163.0h0.95M466.6 163.0h0.95M466.1 168.9h0.95M459.6 168.0h0.95M464.2 166.7h0.95M466.0 163.8h0.95M455.3 169.9h0.95M458.5 165.6h0.95M458.6 168.5h0.95M465.6 162.6h0.95M465.4 167.8h0.95M453.4 170.5h0.95M458.4 169.0h0.95M474.0 161.0h0.95M456.8 171.1h0.95M464.3 167.5h0.95M460.2 171.6h0.95M467.6 158.6h0.95M461.7 166.7h0.95M458.7 167.2h0.95M457.7 174.9h0.95M461.0 168.0h0.95M468.2 164.7h0.95M469.1 167.7h0.95M454.4 172.1h0.95M471.9 160.7h0.95M461.8 169.1h0.95M456.1 171.2h0.95M465.2 169.2h0.95M460.2 171.5h0.95M460.7 171.7h0.95M459.0 170.0h0.95M461.6 166.9h0.95M459.2 168.6h0.95M452.1 173.8h0.95M463.3 161.7h0.95M460.1 170.2h0.95M470.8 163.7h0.95M465.8 164.9h0.95M465.5 163.6h0.95M463.7 166.5h0.95M470.5 162.2h0.95M461.2 169.3h0.95M459.4 175.0h0.95M463.4 164.1h0.95M461.5 170.2h0.95M464.0 166.5h0.95M459.8 168.5h0.95M468.5 159.9h0.95M465.9 163.1h0.95M464.3 168.1h0.95M462.4 171.8h0.95M468.1 161.3h0.95M477.3 150.2h0.95M478.8 151.9h0.95M475.4 136.1h0.95M473.0 147.4h0.95M478.9 153.7h0.95M479.5 145.5h0.95M457.1 148.5h0.95M467.9 142.6h0.95M457.4 161.3h0.95M458.6 167.4h0.95M459.9 146.5h0.95M457.0 155.9h0.95M472.5 141.3h0.95M478.3 141.4h0.95M468.6 151.1h0.95M469.1 148.4h0.95M466.3 145.6h0.95M474.4 160.1h0.95M471.1 146.4h0.95M472.9 145.2h0.95M469.6 156.0h0.95M463.5 152.0h0.95M465.2 149.5h0.95M480.2 148.8h0.95M463.6 144.7h0.95M485.3 144.5h0.95M471.3 154.5h0.95M484.3 144.4h0.95M459.4 153.0h0.95M464.3 151.4h0.95M469.4 136.7h0.95M474.3 144.8h0.95M469.9 150.2h0.95M490.8 142.1h0.95M471.4 148.3h0.95M471.7 144.5h0.95M462.9 146.5h0.95M484.7 139.3h0.95M478.2 144.3h0.95M477.6 152.1h0.95M456.1 156.2h0.95M472.0 143.5h0.95M466.0 149.7h0.95M472.3 143.5h0.95M477.6 142.1h0.95M457.3 140.3h0.95M467.5 138.6h0.95M474.5 137.4h0.95M473.2 149.5h0.95M467.3 149.2h0.95M461.6 154.0h0.95M468.0 157.3h0.95M456.2 149.0h0.95M482.3 148.8h0.95M472.4 149.4h0.95M457.6 150.4h0.95M474.7 155.6h0.95M454.9 147.1h0.95M480.2 140.8h0.95M481.7 144.1h0.95M456.9 154.4h0.95M457.8 140.6h0.95M471.2 145.4h0.95M466.7 149.4h0.95M470.4 165.3h0.95M469.9 157.6h0.95M468.6 149.8h0.95M462.3 145.1h0.95M473.2 148.6h0.95M464.9 143.1h0.95M464.3 152.8h0.95M471.6 149.7h0.95M454.7 154.2h0.95M483.6 142.0h0.95M454.2 155.0h0.95M467.9 145.4h0.95M477.8 154.1h0.95M475.6 148.8h0.95M471.7 145.1h0.95M479.0 137.7h0.95M461.1 154.5h0.95M471.4 151.2h0.95M474.1 151.6h0.95M470.4 158.0h0.95M466.5 153.3h0.95M478.1 135.8h0.95M470.1 161.9h0.95M469.6 156.3h0.95M470.4 153.6h0.95M472.4 155.9h0.95M467.3 139.5h0.95M467.4 147.1h0.95M472.0 143.5h0.95M475.0 153.4h0.95M470.9 139.5h0.95M481.2 139.4h0.95M467.5 160.0h0.95M486.5 143.0h0.95M465.2 148.2h0.95M481.6 154.3h0.95M467.7 140.3h0.95M469.0 151.8h0.95M452.6 156.6h0.95M485.7 142.5h0.95M462.9 150.3h0.95M461.0 147.6h0.95M480.1 143.7h0.95M467.0 140.8h0.95M488.3 141.2h0.95M483.8 137.9h0.95M479.1 149.1h0.95M471.1 144.4h0.95M474.8 140.7h0.95M460.0 156.6h0.95M475.4 153.4h0.95M465.4 136.6h0.95M466.5 150.9h0.95M474.3 149.9h0.95M453.4 147.9h0.95M471.2 169.4h0.95M483.2 161.9h0.95M471.6 157.6h0.95M473.1 157.0h0.95M491.6 155.8h0.95M470.7 152.7h0.95M471.3 144.8h0.95M459.8 161.2h0.95M469.5 156.5h0.95M468.4 158.4h0.95M491.6 173.6h0.95M487.7 164.7h0.95M468.1 154.5h0.95M493.6 164.6h0.95M484.2 148.2h0.95M476.7 168.4h0.95M484.5 162.1h0.95M481.1 158.5h0.95M472.0 164.6h0.95M464.2 171.5h0.95M470.9 156.4h0.95M478.0 152.2h0.95M475.3 176.8h0.95M472.2 160.2h0.95M485.8 171.9h0.95M469.7 154.7h0.95M485.1 163.0h0.95M474.3 155.0h0.95M478.9 165.1h0.95M469.2 157.9h0.95M478.0 154.7h0.95M471.9 172.3h0.95M464.3 162.7h0.95M477.9 144.0h0.95M477.7 158.2h0.95M484.6 152.8h0.95M480.3 150.4h0.95M470.1 155.4h0.95M473.2 156.2h0.95M458.5 160.3h0.95M469.2 153.7h0.95M488.3 145.3h0.95M490.0 155.8h0.95M484.1 167.0h0.95M480.4 149.2h0.95M482.7 164.9h0.95M481.9 163.7h0.95M464.4 156.5h0.95M471.2 162.5h0.95M487.4 154.1h0.95M502.9 135.6h0.95M479.7 177.2h0.95M493.6 175.4h0.95M456.9 130.6h0.95M478.5 154.4h0.95" stroke="#bc0c10" stroke-width="0.95" fill="none"/>
<ellipse cx="460.2" cy="168.0" rx="5.6" ry="2.7" transform="rotate(-36 460.2 168.0)" fill="#9c0c14" opacity="0.45"/>
<ellipse cx="460.2" cy="168.0" rx="4.9" ry="2.0" transform="rotate(-36 460.2 168.0)" fill="#c9c9c9"/>
<ellipse cx="451.3" cy="170.8" rx="3.8" ry="0.6" transform="rotate(90 451.3 170.8)" fill="#d8d0d0"/>
<text x="294.2" y="108.5" font-size="10.4" stroke="#1a1a1a" stroke-width="0.2" font-style="italic" text-anchor="middle" textLength="30.8" lengthAdjust="spacingAndGlyphs" fill="#1a1a1a">Isotype</text>
<text x="384.1" y="108.3" font-size="10.4" stroke="#1a1a1a" stroke-width="0.2" font-style="italic" text-anchor="middle" textLength="26.4" lengthAdjust="spacingAndGlyphs" fill="#1a1a1a">Vector</text>
<text x="474.6" y="108.7" font-size="10.4" stroke="#1a1a1a" stroke-width="0.2" font-style="italic" text-anchor="middle" textLength="35.8" lengthAdjust="spacingAndGlyphs" fill="#1a1a1a">BCL2L1</text>
<text x="252.45" y="118.90" font-size="8.4" text-anchor="end" stroke="#000" stroke-width="0.2">10</text>
<text x="252.85" y="115.00" font-size="5.6" stroke="#000" stroke-width="0.15">4</text>
<text x="252.45" y="134.20" font-size="8.4" text-anchor="end" stroke="#000" stroke-width="0.2">10</text>
<text x="252.85" y="130.30" font-size="5.6" stroke="#000" stroke-width="0.15">3</text>
<text x="252.45" y="149.50" font-size="8.4" text-anchor="end" stroke="#000" stroke-width="0.2">10</text>
<text x="252.85" y="145.60" font-size="5.6" stroke="#000" stroke-width="0.15">2</text>
<text x="252.45" y="164.90" font-size="8.4" text-anchor="end" stroke="#000" stroke-width="0.2">10</text>
<text x="252.85" y="161.00" font-size="5.6" stroke="#000" stroke-width="0.15">1</text>
<text x="252.45" y="180.20" font-size="8.4" text-anchor="end" stroke="#000" stroke-width="0.2">10</text>
<text x="252.85" y="176.30" font-size="5.6" stroke="#000" stroke-width="0.15">0</text>
<text x="343.45" y="118.90" font-size="8.4" text-anchor="end" stroke="#000" stroke-width="0.2">10</text>
<text x="343.85" y="115.00" font-size="5.6" stroke="#000" stroke-width="0.15">4</text>
<text x="343.45" y="134.20" font-size="8.4" text-anchor="end" stroke="#000" stroke-width="0.2">10</text>
<text x="343.85" y="130.30" font-size="5.6" stroke="#000" stroke-width="0.15">3</text>
<text x="343.45" y="149.50" font-size="8.4" text-anchor="end" stroke="#000" stroke-width="0.2">10</text>
<text x="343.85" y="145.60" font-size="5.6" stroke="#000" stroke-width="0.15">2</text>
<text x="343.45" y="164.90" font-size="8.4" text-anchor="end" stroke="#000" stroke-width="0.2">10</text>
<text x="343.85" y="161.00" font-size="5.6" stroke="#000" stroke-width="0.15">1</text>
<text x="343.45" y="180.20" font-size="8.4" text-anchor="end" stroke="#000" stroke-width="0.2">10</text>
<text x="343.85" y="176.30" font-size="5.6" stroke="#000" stroke-width="0.15">0</text>
<text x="435.25" y="118.90" font-size="8.4" text-anchor="end" stroke="#000" stroke-width="0.2">10</text>
<text x="435.65" y="115.00" font-size="5.6" stroke="#000" stroke-width="0.15">4</text>
<text x="435.25" y="134.20" font-size="8.4" text-anchor="end" stroke="#000" stroke-width="0.2">10</text>
<text x="435.65" y="130.30" font-size="5.6" stroke="#000" stroke-width="0.15">3</text>
<text x="435.25" y="149.50" font-size="8.4" text-anchor="end" stroke="#000" stroke-width="0.2">10</text>
<text x="435.65" y="145.60" font-size="5.6" stroke="#000" stroke-width="0.15">2</text>
<text x="435.25" y="164.90" font-size="8.4" text-anchor="end" stroke="#000" stroke-width="0.2">10</text>
<text x="435.65" y="161.00" font-size="5.6" stroke="#000" stroke-width="0.15">1</text>
<text x="435.25" y="180.20" font-size="8.4" text-anchor="end" stroke="#000" stroke-width="0.2">10</text>
<text x="435.65" y="176.30" font-size="5.6" stroke="#000" stroke-width="0.15">0</text>
<text transform="translate(264.6 186.1) rotate(-45)" font-size="8.2" text-anchor="end" stroke="#000" stroke-width="0.25">0</text>
<text transform="translate(277.6 186.1) rotate(-45)" font-size="8.2" text-anchor="end" stroke="#000" stroke-width="0.25">200</text>
<text transform="translate(291.4 186.1) rotate(-45)" font-size="8.2" text-anchor="end" stroke="#000" stroke-width="0.25">400</text>
<text transform="translate(304.6 186.1) rotate(-45)" font-size="8.2" text-anchor="end" stroke="#000" stroke-width="0.25">600</text>
<text transform="translate(317.4 186.1) rotate(-45)" font-size="8.2" text-anchor="end" stroke="#000" stroke-width="0.25">800</text>
<text transform="translate(330.8 186.1) rotate(-45)" font-size="8.2" text-anchor="end" stroke="#000" stroke-width="0.25">1000</text>
<text transform="translate(356.0 186.1) rotate(-45)" font-size="8.2" text-anchor="end" stroke="#000" stroke-width="0.25">0</text>
<text transform="translate(368.8 186.1) rotate(-45)" font-size="8.2" text-anchor="end" stroke="#000" stroke-width="0.25">200</text>
<text transform="translate(381.4 186.1) rotate(-45)" font-size="8.2" text-anchor="end" stroke="#000" stroke-width="0.25">400</text>
<text transform="translate(393.8 186.1) rotate(-45)" font-size="8.2" text-anchor="end" stroke="#000" stroke-width="0.25">600</text>
<text transform="translate(406.2 186.1) rotate(-45)" font-size="8.2" text-anchor="end" stroke="#000" stroke-width="0.25">800</text>
<text transform="translate(418.8 186.1) rotate(-45)" font-size="8.2" text-anchor="end" stroke="#000" stroke-width="0.25">1000</text>
<text transform="translate(447.6 186.1) rotate(-45)" font-size="8.2" text-anchor="end" stroke="#000" stroke-width="0.25">0</text>
<text transform="translate(460.2 186.1) rotate(-45)" font-size="8.2" text-anchor="end" stroke="#000" stroke-width="0.25">200</text>
<text transform="translate(472.8 186.1) rotate(-45)" font-size="8.2" text-anchor="end" stroke="#000" stroke-width="0.25">400</text>
<text transform="translate(485.4 186.1) rotate(-45)" font-size="8.2" text-anchor="end" stroke="#000" stroke-width="0.25">600</text>
<text transform="translate(497.8 186.1) rotate(-45)" font-size="8.2" text-anchor="end" stroke="#000" stroke-width="0.25">800</text>
<text transform="translate(510.4 186.1) rotate(-45)" font-size="8.2" text-anchor="end" stroke="#000" stroke-width="0.25">1000</text>
<text transform="translate(237.9 147.0) rotate(-90)" font-size="9.8" stroke="#000" stroke-width="0.4" text-anchor="middle" textLength="11.8" lengthAdjust="spacingAndGlyphs">HbF</text>
<text x="384.0" y="211.3" font-size="10.6" stroke="#000" stroke-width="0.2" text-anchor="middle" textLength="48.0" lengthAdjust="spacingAndGlyphs">Forward scatter</text>
<text x="390.5" y="130.8" font-size="8.4" font-weight="bold" text-anchor="middle" textLength="16.0" lengthAdjust="spacingAndGlyphs">HbF</text>
<text x="390.7" y="140.7" font-size="8.4" font-weight="bold" text-anchor="middle" textLength="16.0" lengthAdjust="spacingAndGlyphs">15%</text>
<text x="489.2" y="130.2" font-size="8.4" font-weight="bold" text-anchor="middle" textLength="16.0" lengthAdjust="spacingAndGlyphs">HbF</text>
<text x="489.2" y="140.8" font-size="8.4" font-weight="bold" text-anchor="middle" textLength="16.0" lengthAdjust="spacingAndGlyphs">32%</text>
<rect x="260.6" y="329.3" width="65.19999999999999" height="63.39999999999998" fill="none" stroke="#dedede" stroke-width="1"/>
<line x1="285.4" y1="329.3" x2="285.4" y2="392.7" stroke="#e6e6e6" stroke-width="0.7"/>
<line x1="260.6" y1="367.6" x2="325.8" y2="367.6" stroke="#e6e6e6" stroke-width="0.7"/>
<rect x="352.1" y="328.3" width="63.299999999999955" height="64.09999999999997" fill="none" stroke="#dedede" stroke-width="1"/>
<line x1="376.2" y1="328.3" x2="376.2" y2="392.4" stroke="#e6e6e6" stroke-width="0.7"/>
<line x1="352.1" y1="368.0" x2="415.4" y2="368.0" stroke="#e6e6e6" stroke-width="0.7"/>
<rect x="442.2" y="330.2" width="65.19999999999999" height="64.5" fill="none" stroke="#dedede" stroke-width="1"/>
<line x1="466.1" y1="330.2" x2="466.1" y2="394.7" stroke="#e6e6e6" stroke-width="0.7"/>
<line x1="442.2" y1="369.3" x2="507.4" y2="369.3" stroke="#e6e6e6" stroke-width="0.7"/>
<defs><filter id="bl" x="-50%" y="-50%" width="200%" height="200%"><feGaussianBlur stdDeviation="0.7"/></filter><filter id="bl2" x="-50%" y="-50%" width="200%" height="200%"><feGaussianBlur stdDeviation="1.4"/></filter></defs>
<defs><linearGradient id="gv" x1="0" y1="1" x2="1" y2="0"><stop offset="0" stop-color="#9c0812"/><stop offset="0.35" stop-color="#a80c18"/><stop offset="1" stop-color="#d07080"/></linearGradient></defs>
<path d="M265.2 354.6h0.8M296.3 342.3h0.8M324.8 383.0h0.8M269.7 346.5h0.8M308.2 369.3h0.8M294.2 335.8h0.8M287.2 339.0h0.8M314.5 361.2h0.8M299.5 380.8h0.8M312.8 344.1h0.8M316.2 370.2h0.8M302.8 355.2h0.8M283.4 390.3h0.8M299.5 337.8h0.8M312.1 341.4h0.8M314.1 363.9h0.8M301.8 372.5h0.8M290.3 365.8h0.8M266.1 340.9h0.8M268.1 360.4h0.8M302.7 333.4h0.8M286.4 372.0h0.8M304.7 350.2h0.8M294.6 390.2h0.8" stroke="#b84060" stroke-width="0.8" stroke-opacity="0.15" fill="none"/>
<path d="M260.8 392.6L264 386.5L272 379L284 371L279.5 378.5L270 387.5Z" fill="#e4ccc2" filter="url(#bl)" opacity="0.85"/>
<ellipse cx="271.6" cy="382.9" rx="6.8" ry="2.5" transform="rotate(-41 271.6 382.9)" fill="#9a1a16" filter="url(#bl)"/>
<ellipse cx="271.4" cy="383.1" rx="5.4" ry="1.7" transform="rotate(-41 271.4 383.1)" fill="#c81c18" filter="url(#bl)"/>
<line x1="274.8" y1="382.9" x2="279.2" y2="378.6" stroke="#5868a8" stroke-width="0.8" filter="url(#bl)" opacity="0.8"/>
<ellipse cx="391" cy="350.5" rx="15" ry="5" fill="#e0b8c0" opacity="0.25" filter="url(#bl2)"/>
<path d="M395.1 347.8h0.8M398.8 352.7h0.8M392.1 348.4h0.8M401.7 350.4h0.8M391.5 341.3h0.8M400.7 350.9h0.8M396.0 349.9h0.8M398.0 344.7h0.8M390.7 355.8h0.8M378.6 350.3h0.8M376.5 350.6h0.8M410.1 343.7h0.8M394.4 343.6h0.8M395.3 347.8h0.8M388.9 344.4h0.8M386.6 352.6h0.8M379.6 348.6h0.8M389.9 344.0h0.8M390.4 348.8h0.8M379.4 346.9h0.8M378.3 351.9h0.8M384.0 351.6h0.8M387.4 348.9h0.8M386.2 351.0h0.8M399.4 353.9h0.8M379.7 358.0h0.8M394.9 348.0h0.8M405.8 352.2h0.8M399.8 348.8h0.8M379.3 346.9h0.8M361.9 357.5h0.8M399.5 351.3h0.8M396.0 350.6h0.8M385.2 352.2h0.8M403.7 348.8h0.8M386.7 346.4h0.8M392.6 357.3h0.8M380.9 354.7h0.8M394.2 351.2h0.8M387.0 354.5h0.8M386.3 355.8h0.8M401.7 348.8h0.8M393.3 352.5h0.8M376.0 350.1h0.8M398.1 352.4h0.8M399.3 348.7h0.8M383.4 360.6h0.8M387.0 349.2h0.8M391.7 352.4h0.8M388.6 352.4h0.8M392.1 348.9h0.8M397.7 353.6h0.8M386.1 350.3h0.8M411.6 347.2h0.8M383.9 350.8h0.8M385.4 347.7h0.8M411.0 353.7h0.8M391.6 354.2h0.8M388.7 345.1h0.8M380.4 352.2h0.8M402.2 346.5h0.8M392.7 350.6h0.8M382.9 356.0h0.8M395.1 351.1h0.8M404.6 348.7h0.8M398.1 354.3h0.8M413.3 352.8h0.8M403.1 356.9h0.8M394.9 342.6h0.8M390.8 351.7h0.8M396.4 348.3h0.8M402.9 346.0h0.8M399.6 350.2h0.8M401.2 345.0h0.8M392.6 341.3h0.8M398.4 346.2h0.8M403.0 348.4h0.8M389.9 357.9h0.8M377.9 348.4h0.8M407.9 344.5h0.8M396.3 342.0h0.8M386.5 349.2h0.8M393.3 349.2h0.8M388.6 351.1h0.8M373.6 345.8h0.8M388.9 347.4h0.8M376.2 342.3h0.8M393.1 350.9h0.8M389.5 344.1h0.8M401.5 338.6h0.8M390.1 355.0h0.8M394.9 352.1h0.8M388.1 351.9h0.8M387.3 352.0h0.8M376.8 347.2h0.8M401.2 353.9h0.8M392.4 346.0h0.8M385.7 358.4h0.8M393.1 351.1h0.8M386.3 343.3h0.8M384.0 354.3h0.8M394.0 358.0h0.8M403.0 348.5h0.8M388.6 354.8h0.8M376.7 350.5h0.8M384.7 348.3h0.8M408.2 338.8h0.8M383.2 355.8h0.8M402.7 347.7h0.8M388.7 352.0h0.8M398.1 345.3h0.8M389.7 346.8h0.8M375.6 355.9h0.8M386.8 349.1h0.8M411.9 347.3h0.8M389.3 345.4h0.8M396.7 350.8h0.8M387.9 353.7h0.8M389.5 348.6h0.8M394.2 349.4h0.8M395.4 345.1h0.8M413.5 354.4h0.8M390.7 347.9h0.8M389.2 349.9h0.8M384.9 357.5h0.8M377.8 350.4h0.8M374.5 345.3h0.8M397.4 346.2h0.8M372.3 350.2h0.8M405.5 356.5h0.8M399.6 350.7h0.8M388.0 349.7h0.8M379.7 354.5h0.8M391.7 355.6h0.8M391.0 347.3h0.8M402.7 355.3h0.8M383.9 354.3h0.8M387.4 352.4h0.8M389.8 340.9h0.8M388.3 351.3h0.8M385.2 356.4h0.8M373.8 350.5h0.8M375.3 360.8h0.8M384.3 351.1h0.8M388.5 346.5h0.8M401.2 352.1h0.8M414.1 349.9h0.8M408.4 352.5h0.8M394.9 349.2h0.8M410.1 354.3h0.8M389.7 348.2h0.8M385.8 351.3h0.8M413.8 343.8h0.8M380.2 347.9h0.8M387.0 351.5h0.8M388.2 347.9h0.8M405.5 347.6h0.8M385.0 350.0h0.8M398.9 350.9h0.8M387.2 353.8h0.8M379.0 354.3h0.8M393.7 354.4h0.8M392.8 351.1h0.8M379.4 349.0h0.8M382.0 344.6h0.8M383.0 349.6h0.8M400.4 346.5h0.8M395.1 342.8h0.8M393.9 356.9h0.8M395.4 342.7h0.8M386.4 352.2h0.8M396.0 352.3h0.8M384.9 349.9h0.8M378.5 361.8h0.8M384.0 351.0h0.8M392.9 347.2h0.8M392.4 357.4h0.8M401.4 346.4h0.8M373.8 345.8h0.8M388.6 346.5h0.8M394.8 347.5h0.8M381.5 351.3h0.8M393.6 351.6h0.8M386.5 344.5h0.8M379.9 352.6h0.8M402.9 358.6h0.8M377.0 348.5h0.8M401.0 349.2h0.8M387.1 353.5h0.8M382.0 355.9h0.8M382.1 348.3h0.8M383.4 347.0h0.8M382.3 346.9h0.8M394.1 354.7h0.8M372.7 355.4h0.8M402.8 340.8h0.8M398.8 341.2h0.8M404.6 344.4h0.8M380.8 345.0h0.8M368.1 353.7h0.8M384.9 351.7h0.8M390.0 358.5h0.8M394.3 353.4h0.8M385.9 351.3h0.8M390.6 355.2h0.8M392.3 346.7h0.8M375.2 345.8h0.8M409.1 349.3h0.8M380.2 355.0h0.8M393.2 343.7h0.8M402.1 353.3h0.8M383.5 354.4h0.8M391.0 348.4h0.8M407.4 350.0h0.8M388.2 349.5h0.8M401.5 350.0h0.8M394.2 353.5h0.8M393.2 347.0h0.8M398.6 354.1h0.8M389.0 354.1h0.8M389.3 354.2h0.8M400.1 341.8h0.8M393.2 342.7h0.8M396.3 352.9h0.8M379.0 348.9h0.8M391.1 347.6h0.8M403.0 346.5h0.8M399.7 344.3h0.8M394.5 349.0h0.8M385.8 347.8h0.8M384.8 348.2h0.8M395.6 352.0h0.8M404.9 344.6h0.8M391.9 354.9h0.8M403.5 340.5h0.8M388.9 360.8h0.8M402.7 344.0h0.8M381.3 353.5h0.8M393.3 354.0h0.8M380.5 351.1h0.8M397.9 353.0h0.8M396.8 349.6h0.8M381.2 343.9h0.8M383.8 352.3h0.8M387.1 355.4h0.8M376.2 349.2h0.8M381.4 344.2h0.8M382.4 348.6h0.8M399.0 351.2h0.8M405.0 350.7h0.8M387.0 355.2h0.8M388.4 352.9h0.8M393.4 352.3h0.8M385.4 342.6h0.8M389.0 359.6h0.8M399.5 350.0h0.8M393.7 353.7h0.8M390.2 349.1h0.8M385.4 350.2h0.8M405.8 349.6h0.8M385.5 357.2h0.8M392.8 356.5h0.8M381.0 353.6h0.8M385.8 358.9h0.8M392.0 348.7h0.8M387.4 352.8h0.8M396.3 348.2h0.8M392.2 355.6h0.8M377.4 351.5h0.8M368.4 356.0h0.8M401.6 356.7h0.8M384.7 342.4h0.8M406.5 358.2h0.8M391.4 351.7h0.8M383.4 349.7h0.8M396.2 342.2h0.8M388.4 349.4h0.8M390.6 341.1h0.8M381.9 351.4h0.8M397.4 349.3h0.8M402.6 357.1h0.8M385.8 349.5h0.8M409.2 353.6h0.8M385.8 355.6h0.8M394.2 358.7h0.8M374.8 350.6h0.8M372.2 354.9h0.8M411.6 342.8h0.8M405.0 344.9h0.8M402.5 348.5h0.8M374.2 351.5h0.8M393.0 345.3h0.8M395.2 348.5h0.8M392.1 353.3h0.8M394.0 348.4h0.8M381.9 350.5h0.8M389.3 346.9h0.8M380.2 356.9h0.8M388.2 358.0h0.8M394.9 351.0h0.8M383.3 350.5h0.8M388.8 357.5h0.8M387.0 352.7h0.8M391.1 347.7h0.8M399.9 344.3h0.8M393.3 347.9h0.8M395.7 359.2h0.8M376.6 349.0h0.8M388.3 362.5h0.8M399.3 349.9h0.8M382.5 350.2h0.8M387.2 356.2h0.8M381.4 350.1h0.8M404.5 351.1h0.8M386.3 346.5h0.8M383.5 345.9h0.8M397.0 347.0h0.8M402.1 350.6h0.8M395.8 347.4h0.8M400.3 341.8h0.8M393.3 352.3h0.8M389.8 349.9h0.8M386.6 349.6h0.8M385.9 348.3h0.8M384.5 341.7h0.8M395.2 356.7h0.8M389.8 348.6h0.8M392.1 352.6h0.8M397.5 355.8h0.8M390.9 355.1h0.8M377.5 352.3h0.8M383.2 351.1h0.8M380.0 352.5h0.8M372.3 355.5h0.8M392.3 352.8h0.8M379.0 349.5h0.8M378.4 353.2h0.8M380.5 352.8h0.8M400.0 352.7h0.8M388.0 351.5h0.8M401.4 355.4h0.8M390.2 351.4h0.8M387.0 354.4h0.8M396.7 350.3h0.8M396.8 347.7h0.8M391.9 346.5h0.8M380.7 350.6h0.8M386.7 353.0h0.8M379.6 356.5h0.8M388.5 350.3h0.8M391.8 348.3h0.8M405.7 347.4h0.8M405.5 354.8h0.8M397.8 350.5h0.8M400.4 347.8h0.8M393.6 353.4h0.8M406.3 349.9h0.8M394.8 349.7h0.8M394.8 345.5h0.8M401.8 353.8h0.8M393.4 357.2h0.8M393.8 344.9h0.8M381.2 351.7h0.8M400.6 352.5h0.8M393.0 359.6h0.8M399.0 348.2h0.8M388.6 346.8h0.8M373.3 351.7h0.8M396.6 358.4h0.8M402.7 350.0h0.8M378.3 352.5h0.8M381.8 358.4h0.8M387.4 342.0h0.8M387.9 341.8h0.8M374.3 355.4h0.8M408.7 352.4h0.8M400.7 344.1h0.8M385.0 353.0h0.8M373.0 351.9h0.8M394.7 351.1h0.8M410.6 345.8h0.8M399.1 348.1h0.8M402.3 346.1h0.8M381.6 351.4h0.8M393.3 349.4h0.8M376.5 358.4h0.8M410.9 351.7h0.8M396.2 343.7h0.8M370.1 353.7h0.8M373.0 357.6h0.8M395.9 351.3h0.8M392.7 354.8h0.8M387.9 350.6h0.8M397.3 353.0h0.8M410.8 345.3h0.8M394.9 353.5h0.8M372.6 346.1h0.8M389.8 355.9h0.8M377.5 345.2h0.8M382.4 342.4h0.8M394.4 352.4h0.8M389.2 349.9h0.8M380.4 351.7h0.8M390.8 352.3h0.8M382.8 351.0h0.8M396.0 346.5h0.8M388.6 351.5h0.8M394.9 351.7h0.8M388.4 352.7h0.8M399.0 358.1h0.8M389.4 347.6h0.8M390.8 350.8h0.8M385.4 353.2h0.8M392.2 348.6h0.8M372.9 346.8h0.8M384.4 355.3h0.8M391.8 349.3h0.8M386.3 353.3h0.8M385.8 347.8h0.8M395.0 352.1h0.8M385.6 348.1h0.8M386.4 347.4h0.8M377.2 351.9h0.8M381.7 351.4h0.8M379.6 357.4h0.8M408.4 342.6h0.8M377.7 353.5h0.8M380.6 357.9h0.8M393.2 355.9h0.8M405.0 347.9h0.8M373.8 348.9h0.8M375.3 349.6h0.8M392.2 351.7h0.8M394.3 351.0h0.8M376.8 352.9h0.8M373.1 354.2h0.8M381.0 346.8h0.8M398.0 345.4h0.8M390.1 345.5h0.8M397.9 344.5h0.8M389.7 350.2h0.8M390.6 351.8h0.8M397.7 360.4h0.8M389.8 352.8h0.8M393.2 350.4h0.8M382.1 357.0h0.8M384.6 347.9h0.8M395.6 351.6h0.8M388.7 354.7h0.8M383.6 354.3h0.8M397.5 351.7h0.8M396.2 348.7h0.8M390.4 345.4h0.8M383.2 350.4h0.8M399.6 347.5h0.8M382.6 350.5h0.8M375.6 353.9h0.8M382.6 344.5h0.8M381.8 355.1h0.8M377.9 347.9h0.8M378.5 344.9h0.8M398.8 344.3h0.8M399.2 347.3h0.8M405.9 354.1h0.8M398.4 352.9h0.8M385.7 346.0h0.8M401.6 350.1h0.8M384.6 350.5h0.8M386.9 344.3h0.8M378.8 347.3h0.8M402.4 341.3h0.8M400.6 346.3h0.8M385.4 340.0h0.8M387.4 347.5h0.8M390.8 346.7h0.8M392.5 347.1h0.8M398.9 346.6h0.8M391.7 355.2h0.8M394.6 348.8h0.8M375.8 352.6h0.8M387.9 353.8h0.8M373.1 355.5h0.8M408.7 352.1h0.8M404.5 347.3h0.8M397.6 345.5h0.8M401.6 346.6h0.8M410.6 347.2h0.8M400.1 349.9h0.8M374.8 351.3h0.8M389.0 355.1h0.8M367.2 351.7h0.8M383.1 358.4h0.8M378.6 355.6h0.8M390.5 348.6h0.8M394.8 353.8h0.8M380.6 339.4h0.8M388.3 356.3h0.8M393.6 352.0h0.8M389.2 352.3h0.8M388.4 343.8h0.8M367.4 362.5h0.8M386.2 349.8h0.8M398.5 349.4h0.8M393.6 354.9h0.8M375.8 350.8h0.8M387.7 347.2h0.8M393.5 353.0h0.8M380.7 347.1h0.8M397.6 353.1h0.8M382.7 351.6h0.8M387.7 355.4h0.8M389.2 345.7h0.8M413.2 354.1h0.8M387.5 351.9h0.8M378.7 347.8h0.8M365.3 357.1h0.8M373.1 342.8h0.8M366.0 345.6h0.8M367.8 346.7h0.8M361.5 353.7h0.8M367.6 348.7h0.8M365.7 345.6h0.8M369.0 362.7h0.8M362.7 358.8h0.8M356.5 348.7h0.8M369.8 342.8h0.8M363.1 347.4h0.8M372.0 350.0h0.8M372.0 355.8h0.8M364.1 348.8h0.8M370.1 354.4h0.8M364.2 353.7h0.8M376.5 352.2h0.8M372.5 357.4h0.8M369.1 353.2h0.8M363.3 361.5h0.8M368.4 351.7h0.8M362.7 354.4h0.8M360.7 350.8h0.8M372.8 349.9h0.8M361.9 357.3h0.8M364.8 352.4h0.8M369.6 350.1h0.8M371.5 347.5h0.8M361.1 351.3h0.8M366.6 349.7h0.8M372.2 356.0h0.8M361.1 356.9h0.8M362.2 367.1h0.8M354.4 356.8h0.8M365.0 345.5h0.8M367.9 353.0h0.8M363.7 361.5h0.8M361.9 353.2h0.8M367.4 357.0h0.8M368.6 358.0h0.8M370.6 357.1h0.8M376.5 343.4h0.8M363.3 356.1h0.8M361.9 346.3h0.8M363.6 356.3h0.8M365.1 356.7h0.8M367.9 361.9h0.8M361.6 349.3h0.8M361.6 352.2h0.8M365.1 347.8h0.8M371.1 355.4h0.8M354.3 347.4h0.8M371.9 341.0h0.8M368.9 365.5h0.8M370.9 353.9h0.8M372.1 339.0h0.8M363.6 355.8h0.8M375.9 350.6h0.8M375.3 349.1h0.8M367.8 350.8h0.8M356.0 357.8h0.8M376.2 350.1h0.8M367.4 352.6h0.8M367.3 358.3h0.8M374.1 349.1h0.8M362.1 354.3h0.8M376.7 353.9h0.8M362.8 353.5h0.8M370.9 352.4h0.8M360.0 355.2h0.8M364.4 353.8h0.8M362.0 355.9h0.8M361.5 353.5h0.8M368.7 353.1h0.8M370.7 358.6h0.8M374.2 359.1h0.8M377.7 352.9h0.8M365.9 352.8h0.8M363.7 366.2h0.8M367.1 355.8h0.8M373.5 359.3h0.8M367.2 344.1h0.8M376.7 354.2h0.8M369.2 346.8h0.8M370.0 358.2h0.8M368.3 348.6h0.8M363.7 362.4h0.8M371.8 346.6h0.8M362.5 344.2h0.8M365.9 347.3h0.8M364.5 353.7h0.8M367.3 352.9h0.8M356.3 347.5h0.8M365.4 346.2h0.8M358.5 355.9h0.8M370.6 348.2h0.8M370.2 351.5h0.8M373.3 341.5h0.8M361.6 347.6h0.8M367.6 354.5h0.8M366.7 351.0h0.8M370.2 356.1h0.8M364.7 351.5h0.8M364.3 360.0h0.8M359.0 354.3h0.8M365.4 356.4h0.8M366.0 354.5h0.8M363.2 359.6h0.8M358.6 354.4h0.8M365.3 353.7h0.8M367.4 346.8h0.8M365.6 353.2h0.8M372.2 352.5h0.8M381.6 359.9h0.8M370.6 349.9h0.8M367.6 357.4h0.8M365.6 355.1h0.8M362.5 365.0h0.8M365.5 357.6h0.8M372.7 354.9h0.8M363.3 358.9h0.8M381.3 356.2h0.8M378.2 352.1h0.8M359.5 348.3h0.8M372.2 350.3h0.8M360.9 359.2h0.8M354.7 349.3h0.8M362.4 351.4h0.8M365.5 351.3h0.8M363.7 351.1h0.8M363.6 357.1h0.8M369.7 338.2h0.8M370.9 354.5h0.8M370.9 354.7h0.8M371.3 351.5h0.8M366.7 351.1h0.8M366.0 354.0h0.8M362.9 353.6h0.8M363.6 364.1h0.8M375.4 348.6h0.8M369.7 364.2h0.8M358.3 358.6h0.8M368.4 361.7h0.8M357.9 357.6h0.8M375.4 344.1h0.8M365.1 347.7h0.8M375.1 349.1h0.8M373.3 346.7h0.8M371.7 352.9h0.8M374.7 356.1h0.8M363.6 355.8h0.8M367.9 354.8h0.8M367.4 358.8h0.8M367.0 352.6h0.8M362.0 353.9h0.8M373.9 349.0h0.8M372.2 351.7h0.8M369.2 356.3h0.8M362.4 363.1h0.8M367.8 347.7h0.8M372.5 351.0h0.8M370.9 357.8h0.8M359.8 356.6h0.8M370.2 352.5h0.8M369.6 346.4h0.8M359.0 361.6h0.8M375.5 357.0h0.8M359.5 361.2h0.8M364.1 349.2h0.8M376.0 347.0h0.8M368.2 353.4h0.8M373.0 355.1h0.8M360.9 349.3h0.8M363.9 349.7h0.8M377.3 342.9h0.8M367.7 341.8h0.8M369.5 358.5h0.8M358.4 347.2h0.8M364.3 349.9h0.8M371.8 338.5h0.8M365.7 349.8h0.8M374.7 351.3h0.8M367.5 356.8h0.8M364.5 361.7h0.8M375.0 349.7h0.8M359.7 345.9h0.8M364.5 357.4h0.8M357.6 349.1h0.8M362.3 354.0h0.8M363.0 354.1h0.8M358.3 357.5h0.8M374.1 349.8h0.8M366.0 348.5h0.8M377.3 355.3h0.8M367.5 356.7h0.8M372.6 355.9h0.8M370.4 355.1h0.8M375.3 351.4h0.8M357.7 385.4h0.8M358.4 386.6h0.8M372.7 370.4h0.8M360.5 384.4h0.8M370.8 372.3h0.8M360.5 383.7h0.8M372.5 373.1h0.8M370.6 372.5h0.8M357.5 386.2h0.8M353.5 389.8h0.8M366.3 377.0h0.8M360.4 385.2h0.8M359.6 384.5h0.8M366.1 376.7h0.8M362.0 383.4h0.8M358.4 386.1h0.8M371.3 372.5h0.8M369.2 373.6h0.8M370.1 374.8h0.8M360.3 385.2h0.8M373.4 370.8h0.8M362.8 380.4h0.8M360.3 385.5h0.8M356.0 388.5h0.8M368.1 372.9h0.8M366.8 376.6h0.8M371.5 371.9h0.8M355.3 390.2h0.8M354.7 389.6h0.8M369.8 371.7h0.8M358.7 386.4h0.8M359.6 384.0h0.8M354.6 388.8h0.8M363.8 381.6h0.8M356.5 387.5h0.8M372.8 371.3h0.8M356.6 390.1h0.8M359.8 384.6h0.8M358.0 389.5h0.8M370.4 373.9h0.8M368.2 374.7h0.8M373.2 373.0h0.8M362.5 380.9h0.8M369.0 374.2h0.8M367.1 374.3h0.8M370.4 373.9h0.8M355.6 386.9h0.8M363.2 381.3h0.8M364.6 377.2h0.8M360.2 385.0h0.8M370.0 374.9h0.8M367.4 377.7h0.8M366.4 375.3h0.8M368.4 376.0h0.8M362.1 382.0h0.8M357.2 387.3h0.8M362.9 381.6h0.8M373.3 372.2h0.8M400.3 385.6h0.8M378.5 342.4h0.8M390.1 332.0h0.8M368.6 352.9h0.8M391.6 335.2h0.8M354.8 355.6h0.8M355.7 344.6h0.8M365.8 365.3h0.8M402.1 375.8h0.8M363.2 384.5h0.8M378.7 374.2h0.8M361.4 354.0h0.8M369.6 338.3h0.8M385.8 339.2h0.8M408.9 358.1h0.8M354.1 372.8h0.8M385.7 381.6h0.8M353.2 339.0h0.8M381.0 333.2h0.8M394.9 365.0h0.8M368.4 383.8h0.8M382.1 350.4h0.8M404.2 371.8h0.8M359.6 368.9h0.8M365.7 370.9h0.8M371.3 340.0h0.8M404.1 361.0h0.8M409.1 331.8h0.8M399.6 354.7h0.8M367.6 331.7h0.8M372.1 390.2h0.8M398.7 350.5h0.8M380.2 344.2h0.8M374.1 386.2h0.8M368.3 361.1h0.8M401.4 383.9h0.8M363.3 361.8h0.8M409.8 353.5h0.8M370.1 375.6h0.8M410.4 347.6h0.8M397.1 338.0h0.8M407.4 374.3h0.8M392.4 360.2h0.8M377.2 363.3h0.8M414.1 385.8h0.8M360.0 331.0h0.8M385.8 329.8h0.8M385.1 350.8h0.8M379.7 381.8h0.8M369.9 358.8h0.8M371.6 367.4h0.8M365.0 351.6h0.8M368.7 350.4h0.8M354.5 349.5h0.8M399.5 346.5h0.8" stroke="#a84058" stroke-width="0.8" stroke-opacity="0.13" fill="none"/>
<ellipse cx="369.5" cy="352.0" rx="8.0" ry="3.6" transform="rotate(-43 369.5 352.0)" fill="#d890a0" filter="url(#bl2)" opacity="0.6"/>
<path d="M364.5 355.5C364.5 352.5 367 350.5 370 348.8L377 344.4L375.8 347.6C373.5 350.8 371 353.8 368 356.3C366.5 357.6 364.6 357.3 364.5 355.5Z" fill="url(#gv)" filter="url(#bl)" opacity="0.9"/>
<ellipse cx="367.6" cy="353.6" rx="3.6" ry="2.6" transform="rotate(-40 367.6 353.6)" fill="#9a0812" filter="url(#bl)"/>
<ellipse cx="483" cy="350" rx="18" ry="9" transform="rotate(-12 483 350)" fill="#e0b8c8" opacity="0.25" filter="url(#bl2)"/>
<line x1="444" y1="392.5" x2="468" y2="364.5" stroke="#e4c4c8" stroke-width="3.2" filter="url(#bl2)" opacity="0.35"/>
<path d="M485.9 351.8h0.8M492.9 355.2h0.8M494.7 339.1h0.8M471.8 344.3h0.8M470.5 349.2h0.8M479.8 362.7h0.8M471.5 343.1h0.8M487.8 337.9h0.8M480.9 349.8h0.8M484.0 357.9h0.8M484.8 338.2h0.8M476.4 349.6h0.8M493.1 338.3h0.8M462.8 364.2h0.8M485.9 354.1h0.8M488.4 350.7h0.8M473.1 351.7h0.8M473.7 350.2h0.8M492.9 348.8h0.8M477.5 346.6h0.8M458.4 349.0h0.8M464.8 346.0h0.8M493.9 347.7h0.8M470.7 347.0h0.8M498.6 352.6h0.8M495.1 332.7h0.8M480.5 354.4h0.8M489.1 352.3h0.8M474.1 360.2h0.8M477.0 349.4h0.8M471.8 341.8h0.8M487.6 342.5h0.8M468.6 360.8h0.8M480.0 348.4h0.8M482.0 347.2h0.8M487.2 344.9h0.8M457.1 354.9h0.8M460.8 353.0h0.8M469.5 341.9h0.8M478.5 346.7h0.8M485.0 356.5h0.8M486.2 359.3h0.8M505.3 344.3h0.8M488.8 345.0h0.8M490.7 357.7h0.8M476.0 350.1h0.8M489.4 340.3h0.8M489.8 347.5h0.8M490.7 353.1h0.8M482.8 360.8h0.8M488.5 345.3h0.8M500.4 349.9h0.8M472.1 349.9h0.8M458.3 363.1h0.8M491.8 349.8h0.8M490.8 350.0h0.8M477.8 344.1h0.8M476.2 349.1h0.8M468.9 358.8h0.8M476.3 351.2h0.8M487.4 347.5h0.8M474.2 349.2h0.8M477.3 351.2h0.8M485.7 350.9h0.8M475.0 342.5h0.8M483.5 350.6h0.8M481.5 351.0h0.8M469.5 352.9h0.8M480.6 340.0h0.8M468.1 352.0h0.8M490.9 339.2h0.8M471.4 354.7h0.8M480.9 359.5h0.8M461.9 360.4h0.8M476.1 348.9h0.8M466.5 349.6h0.8M498.4 342.6h0.8M480.9 352.7h0.8M486.9 344.4h0.8M460.7 350.9h0.8M463.8 336.5h0.8M478.6 344.9h0.8M464.9 348.2h0.8M494.3 343.7h0.8M478.8 359.2h0.8M481.6 340.7h0.8M483.4 340.5h0.8M480.9 354.5h0.8M489.4 341.6h0.8M473.7 350.7h0.8M486.2 350.4h0.8M495.7 347.2h0.8M483.1 344.4h0.8M484.5 355.9h0.8M480.0 360.9h0.8M481.0 343.3h0.8M489.2 346.6h0.8M480.2 357.0h0.8M461.9 352.9h0.8M482.2 343.0h0.8M479.4 347.6h0.8M488.3 354.5h0.8M480.8 343.4h0.8M500.3 347.9h0.8M468.3 355.6h0.8M469.5 348.2h0.8M490.1 352.3h0.8M470.7 357.1h0.8M486.9 355.9h0.8M482.8 356.4h0.8M456.9 345.0h0.8M490.7 354.4h0.8M498.4 350.6h0.8M485.5 356.1h0.8M464.3 347.9h0.8M492.1 354.2h0.8M470.2 355.1h0.8M478.7 342.7h0.8M488.3 357.6h0.8M471.6 346.8h0.8M460.7 347.5h0.8M480.6 353.1h0.8M480.3 346.2h0.8M472.3 354.6h0.8M472.3 350.4h0.8M490.6 350.2h0.8M481.8 355.8h0.8M476.2 351.1h0.8M476.0 357.4h0.8M484.8 355.3h0.8M481.5 344.3h0.8M480.9 356.2h0.8M466.5 357.6h0.8M477.6 351.9h0.8M476.0 359.1h0.8M484.7 361.0h0.8M496.0 352.4h0.8M490.5 338.1h0.8M489.6 351.5h0.8M482.7 349.0h0.8M477.5 349.2h0.8M486.0 351.6h0.8M475.7 349.1h0.8M480.0 361.8h0.8M472.4 354.0h0.8M481.0 350.4h0.8M481.8 355.6h0.8M503.8 351.0h0.8M489.6 356.7h0.8M478.2 355.3h0.8M490.4 348.1h0.8M476.4 352.2h0.8M490.1 333.4h0.8M488.4 338.5h0.8M468.8 350.6h0.8M483.3 362.4h0.8M482.8 362.4h0.8M483.2 341.2h0.8M490.2 350.5h0.8M474.6 371.7h0.8M472.2 346.7h0.8M485.6 352.1h0.8M492.3 346.3h0.8M468.5 351.3h0.8M463.6 352.1h0.8M494.6 347.3h0.8M492.3 353.2h0.8M492.8 342.2h0.8M471.3 355.9h0.8M478.4 346.0h0.8M484.9 353.1h0.8M487.1 351.2h0.8M479.2 345.3h0.8M481.3 351.3h0.8M492.1 342.9h0.8M475.5 345.6h0.8M477.1 359.3h0.8M474.2 339.2h0.8M476.6 355.1h0.8M484.1 354.6h0.8M478.4 346.8h0.8M478.2 358.5h0.8M499.0 352.8h0.8M483.2 340.9h0.8M478.5 354.5h0.8M496.6 350.3h0.8M474.4 346.6h0.8M482.4 354.0h0.8M481.6 355.4h0.8M474.1 346.8h0.8M474.5 337.9h0.8M483.1 352.7h0.8M464.4 348.7h0.8M474.8 339.7h0.8M483.9 347.1h0.8M481.4 333.7h0.8M484.5 347.2h0.8M480.7 353.6h0.8M479.0 344.4h0.8M481.0 347.5h0.8M485.2 343.1h0.8M479.2 355.1h0.8M498.5 346.5h0.8M468.1 347.6h0.8M486.9 340.0h0.8M486.7 346.2h0.8M470.4 360.6h0.8M486.9 340.6h0.8M488.4 351.7h0.8M474.9 354.0h0.8M504.7 331.4h0.8M491.1 355.9h0.8M477.9 350.7h0.8M479.4 366.2h0.8M475.7 363.6h0.8M484.1 347.9h0.8M482.1 349.0h0.8M464.4 346.9h0.8M468.0 343.5h0.8M474.7 357.2h0.8M476.7 349.5h0.8M477.0 348.4h0.8M473.9 350.7h0.8M489.7 353.2h0.8M493.5 354.2h0.8M482.4 350.0h0.8M456.8 354.1h0.8M480.0 351.3h0.8M490.8 362.7h0.8M477.7 336.5h0.8M483.0 341.8h0.8M483.4 353.1h0.8M465.1 354.7h0.8M455.1 364.4h0.8M490.4 357.5h0.8M478.6 364.7h0.8M485.1 343.9h0.8M479.1 355.1h0.8M479.3 349.0h0.8M498.2 353.5h0.8M468.5 354.3h0.8M482.7 356.2h0.8M468.3 347.9h0.8M482.6 351.2h0.8M486.2 345.7h0.8M488.5 347.0h0.8M482.6 346.8h0.8M464.7 346.6h0.8M485.9 357.1h0.8M492.0 350.1h0.8M494.2 355.2h0.8M504.0 338.5h0.8M485.1 335.8h0.8M469.3 348.3h0.8M475.6 350.5h0.8M483.7 355.4h0.8M494.8 354.9h0.8M470.6 361.2h0.8M494.0 358.4h0.8M489.9 353.6h0.8M472.1 353.1h0.8M487.3 343.7h0.8M474.0 356.7h0.8M480.8 346.9h0.8M477.1 345.6h0.8M485.1 353.6h0.8M468.8 354.5h0.8M488.7 354.8h0.8M456.4 350.6h0.8M478.7 359.1h0.8M475.8 354.0h0.8M498.9 345.4h0.8M486.5 343.9h0.8M474.6 344.2h0.8M469.7 343.2h0.8M484.0 359.6h0.8M472.5 342.2h0.8M450.3 355.2h0.8M481.5 346.2h0.8M453.5 352.9h0.8M493.0 347.2h0.8M473.9 358.3h0.8M500.3 350.3h0.8M475.5 351.6h0.8M491.7 338.5h0.8M481.3 337.8h0.8M497.4 360.0h0.8M480.4 343.4h0.8M446.2 346.8h0.8M475.1 359.5h0.8M462.1 343.9h0.8M493.2 353.0h0.8M488.9 355.3h0.8M482.0 351.9h0.8M488.0 355.7h0.8M481.8 340.4h0.8M473.5 343.4h0.8M503.1 344.3h0.8M484.3 349.7h0.8M479.3 350.1h0.8M465.9 356.9h0.8M473.6 346.8h0.8M478.7 335.9h0.8M480.2 353.4h0.8M476.0 349.9h0.8M482.2 355.8h0.8M472.0 366.9h0.8M481.8 350.8h0.8M465.2 357.8h0.8M470.7 346.3h0.8M474.7 358.1h0.8M491.8 350.5h0.8M487.4 350.8h0.8M483.7 356.2h0.8M467.2 345.4h0.8M477.9 355.0h0.8M491.2 351.4h0.8M497.8 358.0h0.8M462.6 341.6h0.8M476.7 350.7h0.8M485.9 364.7h0.8M484.9 346.7h0.8M481.1 347.3h0.8M491.6 360.6h0.8M469.1 370.5h0.8M499.1 347.3h0.8M467.8 348.1h0.8M481.4 346.1h0.8M486.9 346.3h0.8M493.4 341.8h0.8M490.6 342.6h0.8M491.6 349.3h0.8M496.0 347.5h0.8M480.6 353.8h0.8M490.1 348.6h0.8M497.1 338.4h0.8M474.3 357.0h0.8M466.4 355.2h0.8M469.6 348.7h0.8M497.1 345.0h0.8M496.0 349.4h0.8M477.8 351.6h0.8M484.3 348.8h0.8M488.1 354.2h0.8M495.0 354.9h0.8M460.2 352.6h0.8M475.4 351.4h0.8M477.2 343.4h0.8M485.1 348.3h0.8M483.3 353.2h0.8M479.4 356.8h0.8M485.2 350.6h0.8M452.9 355.7h0.8M491.3 349.7h0.8M490.1 340.7h0.8M474.6 352.6h0.8M486.5 349.3h0.8M503.5 339.2h0.8M502.6 348.1h0.8M482.3 348.6h0.8M468.8 357.2h0.8M482.9 346.5h0.8M479.1 354.1h0.8M493.6 358.6h0.8M467.7 354.4h0.8M480.8 355.9h0.8M483.9 345.2h0.8M476.1 348.9h0.8M491.0 335.0h0.8M468.9 351.9h0.8M466.4 345.5h0.8M478.0 351.8h0.8M488.2 334.3h0.8M477.2 345.1h0.8M475.3 352.1h0.8M491.4 350.9h0.8M482.0 338.5h0.8M475.3 348.6h0.8M486.9 367.1h0.8M480.3 356.0h0.8M488.9 349.8h0.8M479.5 331.3h0.8M471.5 345.9h0.8M477.2 354.8h0.8M477.5 352.7h0.8M486.6 352.3h0.8M487.4 355.7h0.8M472.6 352.8h0.8M480.9 356.3h0.8M482.7 337.4h0.8M497.7 364.3h0.8M484.2 347.5h0.8M502.8 341.1h0.8M484.2 360.1h0.8M490.9 352.4h0.8M479.5 357.4h0.8M469.8 348.4h0.8M483.4 351.8h0.8M488.3 353.8h0.8M483.8 341.7h0.8M483.1 348.3h0.8M477.7 349.3h0.8M472.2 350.1h0.8M477.4 346.2h0.8M485.3 340.6h0.8M493.2 350.7h0.8M445.2 359.6h0.8M490.3 356.4h0.8M493.9 347.1h0.8M495.0 342.6h0.8M484.0 339.5h0.8M489.5 349.1h0.8M476.4 349.1h0.8M483.7 363.8h0.8M491.0 364.2h0.8M471.7 363.3h0.8M471.6 346.0h0.8M482.0 340.3h0.8M466.5 351.7h0.8M481.1 344.0h0.8M467.1 363.2h0.8M484.2 350.4h0.8M481.5 347.3h0.8M475.5 351.4h0.8M473.0 360.8h0.8M474.7 345.0h0.8M457.3 358.7h0.8M475.4 342.2h0.8M482.8 348.4h0.8M494.4 342.8h0.8M476.5 353.4h0.8M480.0 351.6h0.8M499.1 354.8h0.8M502.3 350.6h0.8M475.4 347.2h0.8M491.7 338.7h0.8M493.9 341.8h0.8M487.0 346.0h0.8M470.4 350.9h0.8M470.1 347.3h0.8M489.8 356.0h0.8M479.4 348.7h0.8M498.7 343.0h0.8M502.8 344.0h0.8M467.7 352.8h0.8M475.0 351.4h0.8M496.5 335.6h0.8M492.2 344.9h0.8M485.3 336.2h0.8M481.7 350.4h0.8M489.8 353.1h0.8M473.2 344.5h0.8M467.9 348.7h0.8M460.6 349.7h0.8M486.3 362.9h0.8M499.3 352.6h0.8M476.9 354.5h0.8M480.6 347.3h0.8M470.9 355.3h0.8M480.7 349.0h0.8M471.0 355.6h0.8M469.2 346.5h0.8M465.1 353.1h0.8M475.0 348.8h0.8M500.8 336.2h0.8M483.5 361.6h0.8M485.1 355.1h0.8M505.8 339.4h0.8M472.5 341.8h0.8M469.5 347.6h0.8M486.5 343.2h0.8M467.0 348.9h0.8M483.4 339.1h0.8M493.6 341.8h0.8M469.7 353.1h0.8M476.5 354.1h0.8M498.1 332.7h0.8M469.8 352.6h0.8M472.7 345.1h0.8M483.0 342.5h0.8M477.8 348.7h0.8M471.2 347.5h0.8M500.8 350.9h0.8M476.2 356.2h0.8M485.1 347.2h0.8M476.2 346.7h0.8M481.7 362.6h0.8M468.9 365.9h0.8M492.8 350.4h0.8M476.7 350.1h0.8M497.6 353.8h0.8M470.7 362.6h0.8M475.6 347.7h0.8M489.8 361.1h0.8M482.8 348.7h0.8M475.9 359.0h0.8M479.5 346.9h0.8M467.2 353.6h0.8M481.7 346.9h0.8M451.9 356.6h0.8M485.2 356.5h0.8M495.8 340.8h0.8M491.4 345.9h0.8M492.2 351.7h0.8M476.4 347.9h0.8M490.2 362.6h0.8M475.1 341.2h0.8M484.4 367.4h0.8M479.7 345.9h0.8M445.1 364.7h0.8M494.5 358.8h0.8M487.7 352.6h0.8M489.3 338.5h0.8M470.6 350.1h0.8M489.7 348.9h0.8M488.0 352.7h0.8M458.0 362.1h0.8M463.5 361.9h0.8M484.5 359.9h0.8M472.9 345.2h0.8M483.0 356.8h0.8M472.0 339.8h0.8M498.9 347.5h0.8M458.8 347.4h0.8M463.8 341.3h0.8M472.1 358.6h0.8M466.3 353.1h0.8M476.7 358.2h0.8M479.1 339.4h0.8M464.9 345.0h0.8M485.8 348.5h0.8M495.7 342.4h0.8M494.2 347.9h0.8M503.6 341.0h0.8M494.1 345.0h0.8M479.8 342.4h0.8M503.8 354.5h0.8M489.3 346.2h0.8M501.3 337.5h0.8M480.6 355.1h0.8M458.8 358.4h0.8M468.9 354.3h0.8M484.2 351.1h0.8M487.5 346.0h0.8M479.3 349.6h0.8M490.0 332.6h0.8M466.6 342.2h0.8M472.1 343.4h0.8M493.4 349.6h0.8M484.2 358.2h0.8M482.7 348.7h0.8M497.4 344.8h0.8M495.9 355.1h0.8M472.4 349.5h0.8M485.1 354.0h0.8M463.3 357.1h0.8M479.9 341.0h0.8M486.8 351.2h0.8M462.6 355.6h0.8M497.9 338.5h0.8M503.0 338.2h0.8M485.7 340.2h0.8M494.4 357.1h0.8M502.0 360.8h0.8M481.0 355.2h0.8M496.0 358.2h0.8M484.4 339.9h0.8M466.7 363.3h0.8M474.6 365.6h0.8M477.9 362.4h0.8M492.7 341.0h0.8M484.7 357.2h0.8M493.0 346.9h0.8M478.2 358.5h0.8M466.6 348.7h0.8M505.4 345.1h0.8M487.0 352.3h0.8M479.6 349.8h0.8M497.1 354.7h0.8M470.7 358.3h0.8M480.3 353.3h0.8M465.8 353.2h0.8M487.0 346.8h0.8M484.8 349.5h0.8M478.6 356.1h0.8M474.9 352.5h0.8M465.3 355.6h0.8M472.6 351.7h0.8M495.8 346.5h0.8M477.1 346.3h0.8M493.5 334.2h0.8M473.1 356.0h0.8M481.9 354.0h0.8M475.4 344.5h0.8M481.9 363.7h0.8M489.0 340.2h0.8M460.3 361.8h0.8M490.8 350.0h0.8M490.3 350.5h0.8M483.7 357.8h0.8M484.2 356.1h0.8M479.6 350.7h0.8M488.3 341.1h0.8M480.9 341.6h0.8M472.7 353.4h0.8M486.0 360.4h0.8M494.1 353.7h0.8M486.2 348.9h0.8M482.8 352.2h0.8M485.3 354.2h0.8M478.9 362.9h0.8M475.7 345.9h0.8M461.8 359.5h0.8M480.4 352.4h0.8M492.0 342.5h0.8M476.2 344.0h0.8M473.7 360.9h0.8M492.6 350.1h0.8M483.6 348.2h0.8M483.8 350.4h0.8M488.8 355.6h0.8M490.0 349.0h0.8M483.9 361.1h0.8M472.3 350.2h0.8M500.5 340.5h0.8M482.5 349.1h0.8M472.0 345.5h0.8M483.6 347.2h0.8M497.2 355.5h0.8M468.6 365.1h0.8M497.7 351.2h0.8M480.8 351.7h0.8M503.2 339.0h0.8M488.1 341.6h0.8M481.4 352.8h0.8M496.4 348.2h0.8M495.5 343.0h0.8M477.5 347.8h0.8M486.9 360.1h0.8M477.7 358.0h0.8M492.4 348.2h0.8M466.6 354.9h0.8M481.9 359.2h0.8M458.7 357.6h0.8M489.0 350.3h0.8M454.8 344.6h0.8M467.7 341.0h0.8M482.2 336.3h0.8M474.8 335.5h0.8M477.1 351.0h0.8M471.7 354.6h0.8M475.5 345.2h0.8M463.0 357.2h0.8M486.3 352.3h0.8M491.0 347.6h0.8M488.5 338.1h0.8M483.7 360.0h0.8M497.7 356.5h0.8M486.4 345.0h0.8M495.6 361.0h0.8M486.5 349.4h0.8M481.3 344.6h0.8M473.0 349.0h0.8M449.9 343.6h0.8M488.8 346.1h0.8M478.4 339.4h0.8M505.9 353.0h0.8M460.3 356.9h0.8M489.5 338.5h0.8M472.3 356.2h0.8M479.5 338.3h0.8M472.4 353.2h0.8M486.7 352.5h0.8M481.8 350.6h0.8M490.2 340.2h0.8M483.5 348.9h0.8M487.1 347.6h0.8M496.4 347.4h0.8M490.0 359.0h0.8M483.0 361.9h0.8M498.2 357.9h0.8M479.9 345.9h0.8M485.5 343.9h0.8M478.5 350.9h0.8M475.3 354.6h0.8M445.5 343.1h0.8M488.9 344.2h0.8M471.8 365.0h0.8M488.5 339.8h0.8M501.2 340.7h0.8M466.3 348.3h0.8M492.6 351.3h0.8M480.9 349.8h0.8M486.7 346.7h0.8M466.5 342.4h0.8M483.3 354.1h0.8M483.8 349.6h0.8M497.1 342.0h0.8M506.1 345.1h0.8M486.8 354.6h0.8M475.9 340.7h0.8M504.6 334.1h0.8M479.4 343.2h0.8M480.2 344.1h0.8M486.4 344.7h0.8M491.7 355.9h0.8M475.2 349.1h0.8M482.4 357.2h0.8M499.9 345.4h0.8M489.1 358.4h0.8M487.5 360.1h0.8M478.8 347.1h0.8M492.4 341.9h0.8M477.0 353.8h0.8M481.8 341.3h0.8M476.5 348.6h0.8M472.8 340.0h0.8M482.7 350.4h0.8M482.2 350.0h0.8M478.1 362.5h0.8M482.0 352.6h0.8M482.0 345.3h0.8M476.8 350.4h0.8M473.0 342.7h0.8M480.7 350.5h0.8M489.7 346.8h0.8M495.1 350.2h0.8M485.6 355.9h0.8M476.3 336.9h0.8M482.3 352.3h0.8M504.6 350.5h0.8M490.6 339.6h0.8M474.3 365.3h0.8M480.6 345.1h0.8M479.9 368.1h0.8M479.3 356.2h0.8M464.8 360.6h0.8M482.9 351.7h0.8M468.5 360.1h0.8M474.1 344.2h0.8M497.9 340.8h0.8M490.5 334.1h0.8M473.3 355.7h0.8M469.6 347.5h0.8M473.1 357.3h0.8M462.0 358.5h0.8M469.3 343.1h0.8M480.2 355.4h0.8M470.9 354.2h0.8M490.9 349.5h0.8M482.3 353.2h0.8M476.2 351.0h0.8M501.8 345.9h0.8M491.7 355.5h0.8M481.5 343.0h0.8M501.1 337.3h0.8M495.8 341.6h0.8M475.8 358.7h0.8M485.4 347.0h0.8M480.1 364.1h0.8M461.7 332.2h0.8M502.4 340.5h0.8M498.3 343.3h0.8M468.4 354.8h0.8M489.7 358.0h0.8M463.6 352.6h0.8M492.7 340.4h0.8M482.8 355.8h0.8M481.2 361.3h0.8M483.2 353.9h0.8M479.7 352.6h0.8M491.2 342.1h0.8M478.1 347.4h0.8M492.4 349.9h0.8M482.3 350.1h0.8M491.1 346.3h0.8M487.5 340.4h0.8M491.5 350.0h0.8M470.0 347.8h0.8M503.5 346.1h0.8M479.6 346.3h0.8M502.3 347.1h0.8M476.6 356.5h0.8M479.5 352.2h0.8M480.2 355.1h0.8M493.2 337.7h0.8M478.1 354.1h0.8M487.3 350.9h0.8M463.7 349.4h0.8M476.6 350.0h0.8M481.1 350.7h0.8M460.5 351.6h0.8M484.6 333.2h0.8M472.1 355.7h0.8M503.1 340.9h0.8M480.5 352.3h0.8M490.4 351.7h0.8M487.5 349.4h0.8M476.4 349.1h0.8M481.6 353.6h0.8M488.5 354.6h0.8M456.9 339.1h0.8M493.5 347.7h0.8M468.1 348.6h0.8M477.7 342.9h0.8M453.2 365.4h0.8M488.8 355.4h0.8M489.1 341.0h0.8M483.8 341.6h0.8M487.1 354.8h0.8M477.1 346.5h0.8M483.5 347.3h0.8M493.0 333.5h0.8M477.2 350.0h0.8M489.6 356.5h0.8M489.8 345.0h0.8M479.4 349.7h0.8M487.4 361.3h0.8M486.0 355.4h0.8M478.7 360.9h0.8M479.0 359.2h0.8M499.2 334.4h0.8M493.1 341.7h0.8M456.7 343.5h0.8M488.3 364.5h0.8M494.2 348.7h0.8M491.3 347.1h0.8M470.9 346.9h0.8M483.7 342.3h0.8M464.5 333.6h0.8M473.7 367.8h0.8M479.4 349.9h0.8M484.4 349.9h0.8M498.4 336.4h0.8M457.8 353.4h0.8M460.0 351.8h0.8M451.7 347.5h0.8M460.6 350.4h0.8M457.8 360.0h0.8M453.5 345.8h0.8M461.5 349.0h0.8M463.4 353.7h0.8M465.0 356.9h0.8M458.2 354.2h0.8M456.4 359.8h0.8M467.5 357.8h0.8M461.9 360.2h0.8M453.4 356.5h0.8M460.1 348.7h0.8M455.7 364.4h0.8M457.4 357.2h0.8M460.3 348.8h0.8M462.2 349.2h0.8M458.5 356.7h0.8M458.5 353.1h0.8M460.4 350.8h0.8M457.8 353.5h0.8M450.5 352.1h0.8M466.9 358.3h0.8M463.9 357.6h0.8M464.7 358.9h0.8M463.2 348.8h0.8M460.7 353.2h0.8M459.0 358.0h0.8M462.5 356.2h0.8M460.8 339.4h0.8M457.2 358.3h0.8M454.3 351.6h0.8M455.3 357.2h0.8M458.1 350.2h0.8M459.6 365.4h0.8M462.7 354.0h0.8M462.1 350.7h0.8M460.6 362.2h0.8M455.1 357.4h0.8M450.1 357.8h0.8M458.5 353.2h0.8M452.9 357.5h0.8M456.5 356.9h0.8M460.1 358.8h0.8M455.6 356.5h0.8M462.3 350.3h0.8M469.3 350.8h0.8M450.9 364.1h0.8M458.8 360.8h0.8M460.5 353.4h0.8M449.9 353.9h0.8M452.8 352.4h0.8M454.0 347.3h0.8M468.9 352.1h0.8M465.4 350.5h0.8M456.1 353.6h0.8M456.0 350.0h0.8M458.7 356.8h0.8M457.8 354.3h0.8M455.1 360.1h0.8M448.5 358.6h0.8M453.5 351.7h0.8M468.6 355.4h0.8M458.9 347.4h0.8M451.0 361.9h0.8M462.8 359.5h0.8M449.9 350.3h0.8M462.6 355.3h0.8M454.6 358.9h0.8M462.3 349.6h0.8M459.0 355.8h0.8M457.3 347.4h0.8M454.9 342.5h0.8M457.4 368.9h0.8M457.0 353.9h0.8M468.5 350.7h0.8M462.9 357.8h0.8M464.4 350.6h0.8M462.4 353.8h0.8M459.4 358.6h0.8M465.7 358.3h0.8M465.2 351.3h0.8M468.9 353.0h0.8M464.1 346.9h0.8M452.8 357.2h0.8M462.8 350.8h0.8M454.5 361.3h0.8M460.3 356.5h0.8M464.9 361.7h0.8M464.6 354.3h0.8M460.5 352.9h0.8M471.2 355.7h0.8M457.5 357.8h0.8M463.8 351.7h0.8M462.4 354.1h0.8M457.8 352.8h0.8M450.1 355.3h0.8M461.9 352.1h0.8M459.2 351.6h0.8M459.3 347.7h0.8M459.2 354.6h0.8M457.2 354.4h0.8M458.6 350.3h0.8M454.7 345.8h0.8M461.3 350.5h0.8M473.2 352.1h0.8M459.5 359.7h0.8M471.3 349.3h0.8M446.4 366.5h0.8M466.7 353.7h0.8M453.2 355.1h0.8M465.9 343.9h0.8M457.0 359.6h0.8M458.5 344.5h0.8M455.0 358.4h0.8M455.3 359.9h0.8M468.3 356.5h0.8M460.2 347.9h0.8M457.5 358.5h0.8M466.9 341.6h0.8M455.7 353.5h0.8M456.2 338.0h0.8M451.4 355.0h0.8M458.9 362.1h0.8M461.2 355.5h0.8M455.3 358.9h0.8M469.5 360.7h0.8M451.8 365.0h0.8M455.4 348.9h0.8M455.9 355.7h0.8M454.7 357.9h0.8M465.5 358.7h0.8M454.9 351.8h0.8M458.6 357.4h0.8M465.8 354.0h0.8M457.4 349.9h0.8M460.9 352.7h0.8M457.6 341.4h0.8M459.0 354.7h0.8M454.8 342.8h0.8M455.9 354.4h0.8M467.6 357.5h0.8M462.7 353.2h0.8M456.9 356.5h0.8M453.1 361.0h0.8M461.1 367.0h0.8M457.0 359.9h0.8M465.0 355.3h0.8M456.9 353.1h0.8M456.2 353.8h0.8M457.4 348.4h0.8M461.5 350.3h0.8M462.5 345.7h0.8M459.9 360.0h0.8M463.6 353.9h0.8M461.6 350.6h0.8M453.1 356.1h0.8M449.4 343.4h0.8M453.1 355.8h0.8M459.1 356.0h0.8M463.1 354.6h0.8M446.9 349.3h0.8M456.2 358.0h0.8M455.8 350.0h0.8M455.1 356.4h0.8M458.9 350.8h0.8M457.4 359.7h0.8M450.3 349.7h0.8M459.6 349.5h0.8M463.6 356.0h0.8M460.4 354.1h0.8M456.0 351.3h0.8M464.8 351.4h0.8M465.8 349.2h0.8M454.3 352.5h0.8M458.4 359.5h0.8M457.0 360.8h0.8M465.9 346.3h0.8M458.5 361.1h0.8M449.3 355.5h0.8M462.8 355.6h0.8M462.8 348.9h0.8M450.5 356.0h0.8M456.4 352.5h0.8M457.0 364.2h0.8M454.1 355.0h0.8M464.7 345.9h0.8M457.4 351.0h0.8M455.1 352.4h0.8M462.7 357.1h0.8M467.9 360.6h0.8M463.3 359.1h0.8M455.8 360.8h0.8M456.7 361.7h0.8M466.3 344.3h0.8M454.1 355.5h0.8M460.0 344.9h0.8M461.0 362.1h0.8M463.3 347.4h0.8M459.4 348.6h0.8M455.9 352.7h0.8M468.2 346.2h0.8M453.2 356.1h0.8M458.1 355.1h0.8M456.0 358.2h0.8M460.4 362.0h0.8M453.2 351.2h0.8M456.0 359.1h0.8M455.2 353.0h0.8M464.2 345.9h0.8M457.3 367.0h0.8M455.9 361.5h0.8M453.6 356.7h0.8M458.8 357.7h0.8M463.2 349.7h0.8M465.9 354.9h0.8M459.3 350.3h0.8M461.6 354.9h0.8M468.4 343.2h0.8M454.3 358.8h0.8M453.6 358.4h0.8M456.7 352.0h0.8M460.3 353.5h0.8M461.4 358.5h0.8M453.4 355.5h0.8M452.2 358.2h0.8M459.1 356.5h0.8M453.4 354.4h0.8M460.0 359.1h0.8M456.9 361.1h0.8M456.7 340.4h0.8M458.6 349.9h0.8M463.1 342.5h0.8M459.7 359.1h0.8M462.5 357.1h0.8M453.8 350.9h0.8M456.7 351.6h0.8M458.3 378.0h0.8M459.1 379.5h0.8M443.3 390.7h0.8M450.8 384.8h0.8M448.9 386.9h0.8M460.1 374.4h0.8M467.4 367.5h0.8M456.6 375.0h0.8M452.3 384.7h0.8M462.6 366.5h0.8M460.5 377.6h0.8M462.0 367.3h0.8M455.6 375.2h0.8M448.8 392.9h0.8M454.7 382.9h0.8M449.7 385.1h0.8M451.1 387.1h0.8M465.0 372.2h0.8M456.0 379.2h0.8M450.1 383.7h0.8M459.9 372.2h0.8M454.7 378.2h0.8M444.9 392.3h0.8M461.0 367.8h0.8M463.7 368.8h0.8M454.8 377.9h0.8M458.7 373.6h0.8M456.6 377.5h0.8M449.8 387.9h0.8M446.8 390.3h0.8M461.8 376.6h0.8M451.8 384.1h0.8M464.1 370.1h0.8M450.2 384.8h0.8M454.9 383.7h0.8M465.5 365.7h0.8M446.2 389.0h0.8M450.1 385.0h0.8M458.2 371.9h0.8M452.7 381.2h0.8M464.4 366.8h0.8M446.7 389.4h0.8M443.2 393.6h0.8M461.6 369.3h0.8M445.1 390.7h0.8M450.1 384.0h0.8M446.0 386.5h0.8M452.0 383.9h0.8M465.5 369.2h0.8M455.4 379.3h0.8M459.8 373.5h0.8M444.1 389.4h0.8M456.8 376.9h0.8M449.8 388.1h0.8M447.8 387.5h0.8M450.1 386.5h0.8M448.9 379.1h0.8M462.4 373.6h0.8M443.8 390.8h0.8M450.7 384.7h0.8M466.3 364.2h0.8M451.8 382.2h0.8M443.2 390.8h0.8M461.9 366.9h0.8M450.0 379.9h0.8M461.0 371.9h0.8M465.2 361.9h0.8M464.9 366.3h0.8M468.6 366.5h0.8M454.8 375.9h0.8M467.0 365.0h0.8M449.6 384.8h0.8M451.2 384.9h0.8M460.0 372.8h0.8M457.5 376.4h0.8M460.9 369.6h0.8M444.0 389.3h0.8M451.7 384.9h0.8M459.8 374.4h0.8M445.3 392.6h0.8M458.2 378.8h0.8M465.1 367.6h0.8M464.2 369.6h0.8M458.2 372.3h0.8M454.7 380.6h0.8M446.7 387.4h0.8M462.0 370.5h0.8M455.6 382.5h0.8M456.7 373.3h0.8M446.4 385.6h0.8M462.5 370.9h0.8M466.1 366.0h0.8M466.0 368.3h0.8M466.6 365.3h0.8M447.8 393.5h0.8M460.1 372.3h0.8M447.4 386.2h0.8M448.1 389.0h0.8M463.7 371.4h0.8M464.2 366.1h0.8M443.3 391.1h0.8M447.8 389.7h0.8M459.1 380.4h0.8M465.4 369.7h0.8M452.9 377.7h0.8M444.6 392.2h0.8M460.3 373.7h0.8M469.2 363.3h0.8M447.5 389.1h0.8M465.6 369.8h0.8M467.2 361.6h0.8M456.7 383.7h0.8M464.5 367.8h0.8M459.3 374.6h0.8M465.8 367.3h0.8M459.1 370.8h0.8M450.9 385.7h0.8M459.9 371.9h0.8M455.3 383.7h0.8M451.8 381.8h0.8M446.6 389.3h0.8M446.8 388.6h0.8M460.4 374.6h0.8M455.8 378.1h0.8M451.8 381.3h0.8M460.5 375.1h0.8M468.1 362.1h0.8M469.2 356.9h0.8M466.4 359.1h0.8M467.1 367.7h0.8M465.4 370.6h0.8M464.4 367.1h0.8M466.7 357.5h0.8M467.6 365.5h0.8M467.4 368.6h0.8M469.5 352.8h0.8M465.0 368.6h0.8M467.2 355.3h0.8M466.8 369.9h0.8M468.6 354.9h0.8M466.4 366.7h0.8M465.5 361.0h0.8M463.8 370.6h0.8M468.5 368.8h0.8M469.0 358.9h0.8M466.3 360.4h0.8M468.7 366.9h0.8M467.2 359.6h0.8M468.7 350.4h0.8M469.3 360.2h0.8M465.8 365.4h0.8M466.1 358.8h0.8M464.4 358.5h0.8M467.8 359.2h0.8M468.4 355.5h0.8M469.3 352.4h0.8M467.3 367.7h0.8M466.7 365.2h0.8M468.1 368.8h0.8M466.4 352.8h0.8M468.6 352.2h0.8M468.4 357.2h0.8M467.1 361.6h0.8M469.1 368.4h0.8M467.3 366.4h0.8M468.5 370.7h0.8M468.2 365.6h0.8M465.9 370.7h0.8M469.2 371.8h0.8M467.9 374.0h0.8M466.9 363.1h0.8M466.2 368.2h0.8M464.5 371.8h0.8M467.3 359.6h0.8M467.2 359.0h0.8M468.2 353.2h0.8M447.6 354.6h0.8M505.3 361.3h0.8M475.2 348.6h0.8M453.1 352.7h0.8M453.8 393.7h0.8M477.3 360.3h0.8M448.1 339.2h0.8M452.8 379.3h0.8M504.5 343.9h0.8M499.2 364.7h0.8M482.4 380.8h0.8M491.0 359.6h0.8M449.4 336.3h0.8M460.2 377.3h0.8M443.2 389.9h0.8M480.1 373.9h0.8M449.1 360.3h0.8M448.1 351.7h0.8M506.4 381.6h0.8M477.4 390.5h0.8M474.0 347.5h0.8M450.5 383.3h0.8M467.9 379.2h0.8M465.0 344.7h0.8M487.6 383.3h0.8M506.2 357.4h0.8M463.3 339.5h0.8M443.9 366.4h0.8M505.1 346.5h0.8M473.8 364.9h0.8M469.0 391.8h0.8M491.7 343.1h0.8M484.0 365.8h0.8M477.4 363.3h0.8M451.4 341.1h0.8M494.3 369.5h0.8M458.2 346.2h0.8M481.8 388.7h0.8M454.5 385.4h0.8M457.3 364.4h0.8M483.0 346.0h0.8M490.8 339.4h0.8M505.6 345.0h0.8M486.7 364.2h0.8M483.7 368.0h0.8M481.3 339.0h0.8M461.1 378.5h0.8M501.9 361.6h0.8M480.1 393.1h0.8M445.7 355.7h0.8M473.3 360.0h0.8M464.4 381.2h0.8M452.4 356.7h0.8M487.2 380.6h0.8M494.9 365.0h0.8M500.7 337.8h0.8M499.1 388.5h0.8M506.5 388.2h0.8M454.7 338.4h0.8M479.4 351.5h0.8M468.8 366.8h0.8M489.6 337.0h0.8M487.2 356.2h0.8M447.1 334.5h0.8M460.1 364.5h0.8M456.5 361.3h0.8M446.9 390.1h0.8M459.9 382.1h0.8M473.5 347.6h0.8M462.5 374.1h0.8M452.0 392.0h0.8M494.5 338.5h0.8M446.4 364.5h0.8M458.1 339.5h0.8M486.8 346.6h0.8M468.6 362.1h0.8M484.3 330.8h0.8M447.3 361.2h0.8M503.3 349.3h0.8M467.8 334.3h0.8M496.1 364.5h0.8M469.4 343.1h0.8M496.4 343.1h0.8M444.2 390.9h0.8M460.3 358.3h0.8M447.0 336.8h0.8M497.8 391.6h0.8" stroke="#a84068" stroke-width="0.8" stroke-opacity="0.15" fill="none"/>
<ellipse cx="460.5" cy="352.0" rx="10.0" ry="4.5" transform="rotate(-45 460.5 352.0)" fill="#d890a0" filter="url(#bl2)" opacity="0.6"/>
<path d="M455 356.5C455 353 458 350.5 461.5 348.5L474.5 337.8L472.8 341.5C469.5 346.5 465 352 461 355.8C459 357.8 455.2 358.5 455 356.5Z" fill="url(#gv)" filter="url(#bl)" opacity="0.85"/>
<ellipse cx="458.4" cy="354.2" rx="4.4" ry="3.0" transform="rotate(-40 458.4 354.2)" fill="#9a0812" filter="url(#bl)"/>
<text x="293.8" y="322.0" font-size="10.4" stroke="#1a1a1a" stroke-width="0.2" font-style="italic" text-anchor="middle" textLength="30.8" lengthAdjust="spacingAndGlyphs" fill="#1a1a1a">Isotype</text>
<text x="384.4" y="322.5" font-size="10.4" stroke="#1a1a1a" stroke-width="0.2" font-style="italic" text-anchor="middle" textLength="26.6" lengthAdjust="spacingAndGlyphs" fill="#1a1a1a">Vector</text>
<text x="474.5" y="324.3" font-size="10.4" stroke="#1a1a1a" stroke-width="0.2" font-style="italic" text-anchor="middle" textLength="36.0" lengthAdjust="spacingAndGlyphs" fill="#1a1a1a">BCL2L1</text>
<text x="252.95" y="333.80" font-size="8.4" text-anchor="end" stroke="#000" stroke-width="0.2">10</text>
<text x="253.35" y="329.90" font-size="5.6" stroke="#000" stroke-width="0.15">4</text>
<text x="252.95" y="349.20" font-size="8.4" text-anchor="end" stroke="#000" stroke-width="0.2">10</text>
<text x="253.35" y="345.30" font-size="5.6" stroke="#000" stroke-width="0.15">3</text>
<text x="252.95" y="364.60" font-size="8.4" text-anchor="end" stroke="#000" stroke-width="0.2">10</text>
<text x="253.35" y="360.70" font-size="5.6" stroke="#000" stroke-width="0.15">2</text>
<text x="252.95" y="380.10" font-size="8.4" text-anchor="end" stroke="#000" stroke-width="0.2">10</text>
<text x="253.35" y="376.20" font-size="5.6" stroke="#000" stroke-width="0.15">1</text>
<text x="252.95" y="395.50" font-size="8.4" text-anchor="end" stroke="#000" stroke-width="0.2">10</text>
<text x="253.35" y="391.60" font-size="5.6" stroke="#000" stroke-width="0.15">0</text>
<text x="343.95" y="333.50" font-size="8.4" text-anchor="end" stroke="#000" stroke-width="0.2">10</text>
<text x="344.35" y="329.60" font-size="5.6" stroke="#000" stroke-width="0.15">4</text>
<text x="343.95" y="348.90" font-size="8.4" text-anchor="end" stroke="#000" stroke-width="0.2">10</text>
<text x="344.35" y="345.00" font-size="5.6" stroke="#000" stroke-width="0.15">3</text>
<text x="343.95" y="364.30" font-size="8.4" text-anchor="end" stroke="#000" stroke-width="0.2">10</text>
<text x="344.35" y="360.40" font-size="5.6" stroke="#000" stroke-width="0.15">2</text>
<text x="343.95" y="379.70" font-size="8.4" text-anchor="end" stroke="#000" stroke-width="0.2">10</text>
<text x="344.35" y="375.80" font-size="5.6" stroke="#000" stroke-width="0.15">1</text>
<text x="343.95" y="395.10" font-size="8.4" text-anchor="end" stroke="#000" stroke-width="0.2">10</text>
<text x="344.35" y="391.20" font-size="5.6" stroke="#000" stroke-width="0.15">0</text>
<text x="435.35" y="333.80" font-size="8.4" text-anchor="end" stroke="#000" stroke-width="0.2">10</text>
<text x="435.75" y="329.90" font-size="5.6" stroke="#000" stroke-width="0.15">4</text>
<text x="435.35" y="349.20" font-size="8.4" text-anchor="end" stroke="#000" stroke-width="0.2">10</text>
<text x="435.75" y="345.30" font-size="5.6" stroke="#000" stroke-width="0.15">3</text>
<text x="435.35" y="364.60" font-size="8.4" text-anchor="end" stroke="#000" stroke-width="0.2">10</text>
<text x="435.75" y="360.70" font-size="5.6" stroke="#000" stroke-width="0.15">2</text>
<text x="435.35" y="380.00" font-size="8.4" text-anchor="end" stroke="#000" stroke-width="0.2">10</text>
<text x="435.75" y="376.10" font-size="5.6" stroke="#000" stroke-width="0.15">1</text>
<text x="435.35" y="395.40" font-size="8.4" text-anchor="end" stroke="#000" stroke-width="0.2">10</text>
<text x="435.75" y="391.50" font-size="5.6" stroke="#000" stroke-width="0.15">0</text>
<text x="262.85" y="404.30" font-size="8.4" text-anchor="end" stroke="#000" stroke-width="0.2">10</text>
<text x="263.25" y="400.40" font-size="5.6" stroke="#000" stroke-width="0.15">0</text>
<text x="279.15" y="404.30" font-size="8.4" text-anchor="end" stroke="#000" stroke-width="0.2">10</text>
<text x="279.55" y="400.40" font-size="5.6" stroke="#000" stroke-width="0.15">1</text>
<text x="295.55" y="404.30" font-size="8.4" text-anchor="end" stroke="#000" stroke-width="0.2">10</text>
<text x="295.95" y="400.40" font-size="5.6" stroke="#000" stroke-width="0.15">2</text>
<text x="311.95" y="404.30" font-size="8.4" text-anchor="end" stroke="#000" stroke-width="0.2">10</text>
<text x="312.35" y="400.40" font-size="5.6" stroke="#000" stroke-width="0.15">3</text>
<text x="328.15" y="404.30" font-size="8.4" text-anchor="end" stroke="#000" stroke-width="0.2">10</text>
<text x="328.55" y="400.40" font-size="5.6" stroke="#000" stroke-width="0.15">4</text>
<text x="355.15" y="404.80" font-size="8.4" text-anchor="end" stroke="#000" stroke-width="0.2">10</text>
<text x="355.55" y="400.90" font-size="5.6" stroke="#000" stroke-width="0.15">0</text>
<text x="370.45" y="404.80" font-size="8.4" text-anchor="end" stroke="#000" stroke-width="0.2">10</text>
<text x="370.85" y="400.90" font-size="5.6" stroke="#000" stroke-width="0.15">1</text>
<text x="386.75" y="404.80" font-size="8.4" text-anchor="end" stroke="#000" stroke-width="0.2">10</text>
<text x="387.15" y="400.90" font-size="5.6" stroke="#000" stroke-width="0.15">2</text>
<text x="403.05" y="404.80" font-size="8.4" text-anchor="end" stroke="#000" stroke-width="0.2">10</text>
<text x="403.45" y="400.90" font-size="5.6" stroke="#000" stroke-width="0.15">3</text>
<text x="419.45" y="404.80" font-size="8.4" text-anchor="end" stroke="#000" stroke-width="0.2">10</text>
<text x="419.85" y="400.90" font-size="5.6" stroke="#000" stroke-width="0.15">4</text>
<text x="445.35" y="406.10" font-size="8.4" text-anchor="end" stroke="#000" stroke-width="0.2">10</text>
<text x="445.75" y="402.20" font-size="5.6" stroke="#000" stroke-width="0.15">0</text>
<text x="461.15" y="406.10" font-size="8.4" text-anchor="end" stroke="#000" stroke-width="0.2">10</text>
<text x="461.55" y="402.20" font-size="5.6" stroke="#000" stroke-width="0.15">1</text>
<text x="477.15" y="406.10" font-size="8.4" text-anchor="end" stroke="#000" stroke-width="0.2">10</text>
<text x="477.55" y="402.20" font-size="5.6" stroke="#000" stroke-width="0.15">2</text>
<text x="493.15" y="406.10" font-size="8.4" text-anchor="end" stroke="#000" stroke-width="0.2">10</text>
<text x="493.55" y="402.20" font-size="5.6" stroke="#000" stroke-width="0.15">3</text>
<text x="508.95" y="406.10" font-size="8.4" text-anchor="end" stroke="#000" stroke-width="0.2">10</text>
<text x="509.35" y="402.20" font-size="5.6" stroke="#000" stroke-width="0.15">4</text>
<text transform="translate(237.2 361.5) rotate(-90)" font-size="9.2" stroke="#000" stroke-width="0.4" text-anchor="middle" textLength="12.9" lengthAdjust="spacingAndGlyphs">GlyA</text>
<text x="384.5" y="418.5" font-size="10" stroke="#000" stroke-width="0.4" text-anchor="middle" textLength="11.2" lengthAdjust="spacingAndGlyphs">HbF</text>
<text x="398.0" y="338.9" font-size="8.0" font-weight="bold" text-anchor="middle" textLength="34.6" lengthAdjust="spacingAndGlyphs">HbF: 9.4%</text>
<text x="488.0" y="337.5" font-size="8.0" font-weight="bold" text-anchor="middle" textLength="37.8" lengthAdjust="spacingAndGlyphs">HbF: 24.6%</text>
<text transform="translate(358.6 351.6) rotate(-90)" font-size="7.2" font-weight="bold" text-anchor="middle" textLength="35.2" lengthAdjust="spacingAndGlyphs">GlyA: 90%</text>
<text transform="translate(448.4 353.0) rotate(-90)" font-size="7.2" font-weight="bold" text-anchor="middle" textLength="34.4" lengthAdjust="spacingAndGlyphs">GlyA: 92%</text>
<rect x="0.5" y="0.5" width="519" height="427" fill="none" stroke="#000" stroke-width="1.2"/>
</svg></body></html>
